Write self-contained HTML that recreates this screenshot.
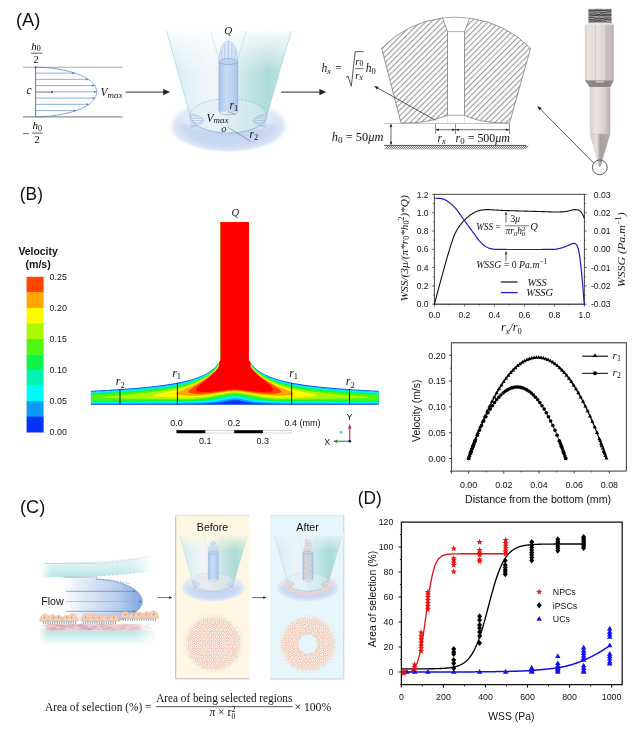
<!DOCTYPE html>
<html><head><meta charset="utf-8"><title>Figure</title>
<style>
html,body{margin:0;padding:0;background:#fff;}
svg{display:block;}
.s{font-family:"Liberation Sans",Arial,Helvetica,sans-serif;}
.m{font-family:"Liberation Serif","Times New Roman",serif;font-style:italic;}
.r{font-family:"Liberation Serif","Times New Roman",serif;}
</style></head><body>
<svg width="640" height="731" viewBox="0 0 640 731">
<rect width="640" height="731" fill="#fff"/>
<text class="s" x="16" y="26.3" font-size="17.5" fill="#111" textLength="24.4" lengthAdjust="spacingAndGlyphs">(A)</text>
<g>
<line x1="23" y1="67.3" x2="122.5" y2="67.3" stroke="#a8a8a8" stroke-width="1.1"/>
<line x1="23" y1="116.9" x2="122.5" y2="116.9" stroke="#8c8c8c" stroke-width="1.3"/>
<polyline fill="none" stroke="#5b86c0" stroke-width="0.8" points="35.6,67.2 43.08,67.45 46.51,67.7 49.19,67.95 51.46,68.2 53.47,68.45 55.29,68.7 56.96,68.95 58.51,69.2 59.96,69.45 61.32,69.7 62.61,69.95 63.84,70.2 65.01,70.45 66.12,70.7 67.19,70.95 68.21,71.2 69.2,71.45 70.15,71.7 71.06,71.95 71.94,72.2 72.79,72.45 73.62,72.7 74.41,72.95 75.18,73.2 75.93,73.45 76.66,73.7 77.36,73.95 78.04,74.2 78.7,74.45 79.35,74.7 79.97,74.95 80.58,75.2 81.17,75.45 81.74,75.7 82.29,75.95 82.84,76.2 83.36,76.45 83.87,76.7 84.37,76.95 84.85,77.2 85.32,77.45 85.78,77.7 86.23,77.95 86.66,78.2 87.08,78.45 87.49,78.7 87.88,78.95 88.27,79.2 88.64,79.45 89,79.7 89.36,79.95 89.7,80.2 90.03,80.45 90.35,80.7 90.66,80.95 90.97,81.2 91.26,81.45 91.54,81.7 91.82,81.95 92.08,82.2 92.34,82.45 92.59,82.7 92.82,82.95 93.05,83.2 93.28,83.45 93.49,83.7 93.69,83.95 93.89,84.2 94.08,84.45 94.26,84.7 94.44,84.95 94.6,85.2 94.76,85.45 94.91,85.7 95.06,85.95 95.19,86.2 95.32,86.45 95.45,86.7 95.56,86.95 95.67,87.2 95.78,87.45 95.87,87.7 95.96,87.95 96.04,88.2 96.12,88.45 96.19,88.7 96.25,88.95 96.31,89.2 96.37,89.45 96.41,89.7 96.45,89.95 96.49,90.2 96.52,90.45 96.54,90.7 96.56,90.95 96.58,91.2 96.59,91.45 96.6,91.7 96.6,91.95 96.6,92.2 96.6,92.45 96.59,92.7 96.58,92.95 96.56,93.2 96.54,93.45 96.51,93.7 96.48,93.95 96.45,94.2 96.4,94.45 96.36,94.7 96.3,94.95 96.24,95.2 96.18,95.45 96.11,95.7 96.03,95.95 95.94,96.2 95.85,96.45 95.76,96.7 95.65,96.95 95.54,97.2 95.42,97.45 95.3,97.7 95.17,97.95 95.03,98.2 94.88,98.45 94.73,98.7 94.57,98.95 94.4,99.2 94.23,99.45 94.04,99.7 93.85,99.95 93.65,100.2 93.45,100.45 93.23,100.7 93.01,100.95 92.78,101.2 92.54,101.45 92.29,101.7 92.03,101.95 91.76,102.2 91.49,102.45 91.2,102.7 90.91,102.95 90.6,103.2 90.29,103.45 89.97,103.7 89.63,103.95 89.29,104.2 88.93,104.45 88.57,104.7 88.19,104.95 87.8,105.2 87.41,105.45 87,105.7 86.57,105.95 86.14,106.2 85.69,106.45 85.23,106.7 84.76,106.95 84.27,107.2 83.77,107.45 83.26,107.7 82.73,107.95 82.18,108.2 81.62,108.45 81.05,108.7 80.46,108.95 79.85,109.2 79.22,109.45 78.57,109.7 77.91,109.95 77.22,110.2 76.51,110.45 75.78,110.7 75.03,110.95 74.26,111.2 73.45,111.45 72.62,111.7 71.77,111.95 70.88,112.2 69.96,112.45 69,112.7 68.01,112.95 66.98,113.2 65.9,113.45 64.78,113.7 63.6,113.95 62.36,114.2 61.06,114.45 59.68,114.7 58.21,114.95 56.64,115.2 54.94,115.45 53.09,115.7 51.03,115.95 48.69,116.2 45.9,116.45 42.22,116.7 35.6,116.95"/>
<line x1="35.6" y1="73.1" x2="73.68" y2="73.1" stroke="#8fb0d8" stroke-width="1"/>
<polygon points="74.88,73.1 72.28,72 72.28,74.2" fill="#4a78b8"/>
<line x1="35.6" y1="79.35" x2="87.29" y2="79.35" stroke="#8fb0d8" stroke-width="1"/>
<polygon points="88.49,79.35 85.89,78.25 85.89,80.45" fill="#4a78b8"/>
<line x1="35.6" y1="85.6" x2="93.65" y2="85.6" stroke="#8fb0d8" stroke-width="1"/>
<polygon points="94.85,85.6 92.25,84.5 92.25,86.7" fill="#4a78b8"/>
<line x1="52" y1="91.85" x2="95.4" y2="91.85" stroke="#8fb0d8" stroke-width="1"/>
<polygon points="96.6,91.85 94,90.75 94,92.95" fill="#4a78b8"/>
<line x1="35.6" y1="98.1" x2="93.89" y2="98.1" stroke="#8fb0d8" stroke-width="1"/>
<polygon points="95.09,98.1 92.49,97 92.49,99.2" fill="#4a78b8"/>
<line x1="35.6" y1="104.35" x2="87.88" y2="104.35" stroke="#8fb0d8" stroke-width="1"/>
<polygon points="89.08,104.35 86.48,103.25 86.48,105.45" fill="#4a78b8"/>
<line x1="35.6" y1="110.6" x2="74.88" y2="110.6" stroke="#8fb0d8" stroke-width="1"/>
<polygon points="76.08,110.6 73.48,109.5 73.48,111.7" fill="#4a78b8"/>
<line x1="35.6" y1="92.05" x2="52" y2="92.05" stroke="#777" stroke-width="1"/>
<circle cx="52" cy="92.05" r="0.9" fill="#222"/>
<line x1="35.6" y1="67" x2="35.6" y2="117" stroke="#666" stroke-width="0.9"/>
<circle cx="35.6" cy="67.4" r="0.8" fill="#333"/>
<text class="m" x="31.2" y="49.6" font-size="11">h<tspan class="r" font-style="normal" font-size="8" dy="1.6">0</tspan></text>
<line x1="31" y1="53.2" x2="42.2" y2="53.2" stroke="#333" stroke-width="0.8"/>
<text class="r" x="33.4" y="62.8" font-size="10.5" fill="#111">2</text>
<text class="m" x="26.6" y="94" font-size="11.5" fill="#111">c</text>
<line x1="23" y1="133.6" x2="29" y2="133.6" stroke="#444" stroke-width="0.8"/>
<text class="m" x="32.6" y="129.4" font-size="11">h<tspan class="r" font-style="normal" font-size="8" dy="1.6">0</tspan></text>
<line x1="32.2" y1="133.1" x2="42.6" y2="133.1" stroke="#333" stroke-width="0.8"/>
<text class="r" x="34.6" y="143.2" font-size="10.5" fill="#111">2</text>
<text class="m" x="100.4" y="96.2" font-size="11.5" fill="#111">V<tspan font-size="9" dy="1.8">max</tspan></text>
</g>
<line x1="125.6" y1="92.1" x2="165" y2="92.1" stroke="#555" stroke-width="1.1"/>
<polygon points="170,92.1 163.2,88.9 163.2,95.3" fill="#222"/>
<g><defs>
<linearGradient id="acg" gradientUnits="userSpaceOnUse" x1="166" y1="0" x2="291" y2="0"><stop offset="0" stop-color="#c8e8ef"/><stop offset="0.14" stop-color="#dbeff4"/><stop offset="0.32" stop-color="#eef2f9"/><stop offset="0.46" stop-color="#edf4f9"/><stop offset="0.6" stop-color="#c6e6e7"/><stop offset="0.82" stop-color="#a2d7d3"/><stop offset="1" stop-color="#bce3e1"/></linearGradient>
<linearGradient id="acf" gradientUnits="userSpaceOnUse" x1="0" y1="28" x2="0" y2="72"><stop offset="0" stop-color="#fff" stop-opacity="1"/><stop offset="0.25" stop-color="#fff" stop-opacity="0.7"/><stop offset="1" stop-color="#fff" stop-opacity="0"/></linearGradient>
<radialGradient id="agl" cx="0.5" cy="0.5" r="0.5"><stop offset="0" stop-color="#c2d3f2"/><stop offset="0.7" stop-color="#c9d8f3"/><stop offset="0.88" stop-color="#dce6f7"/><stop offset="1" stop-color="#fff" stop-opacity="0"/></radialGradient>
<radialGradient id="agt" cx="0.5" cy="0.5" r="0.5"><stop offset="0" stop-color="#eef3fb" stop-opacity="0.9"/><stop offset="0.75" stop-color="#e6edf9" stop-opacity="0.75"/><stop offset="1" stop-color="#e6edf9" stop-opacity="0"/></radialGradient>
<linearGradient id="atg" gradientUnits="userSpaceOnUse" x1="219" y1="0" x2="237.7" y2="0"><stop offset="0" stop-color="#a3c0e9"/><stop offset="0.45" stop-color="#cadcf4"/><stop offset="1" stop-color="#a5c2ea"/></linearGradient>
</defs>
<ellipse cx="228.4" cy="126.5" rx="62" ry="27" fill="url(#agl)"/>
<ellipse cx="228.4" cy="117" rx="57" ry="16.5" fill="url(#agt)"/>
<path d="M166.6,31 L291.3,31 L266.7,115.8 A38.25,17.2 0 0 1 190.2,115.8 Z" fill="url(#acg)" opacity="0.88"/>
<path d="M190.2,115.8 A38.25,17.2 0 0 1 266.7,115.8 A38.25,17.2 0 0 1 190.2,115.8Z" fill="#e2f0f6" opacity="0.5"/>
<rect x="163" y="26" width="132" height="46" fill="url(#acf)"/>
<line x1="166.6" y1="31" x2="190.2" y2="115.8" stroke="#8cc2d4" stroke-width="0.5"/>
<line x1="291.3" y1="31" x2="266.7" y2="115.8" stroke="#8cc2d4" stroke-width="0.5"/>
<line x1="210.3" y1="31" x2="219.3" y2="60" stroke="#a8d0dc" stroke-width="0.45"/>
<line x1="246.4" y1="31" x2="237.4" y2="60" stroke="#a8d0dc" stroke-width="0.45"/>
<path d="M190.2,115.8 A38.25,17.2 0 0 1 266.7,115.8" fill="none" stroke="#7fa8d4" stroke-width="0.55" stroke-dasharray="2.2,1.4"/>
<path d="M190.2,115.8 A38.25,17.2 0 0 0 266.7,115.8" fill="none" stroke="#6f9cd0" stroke-width="0.6"/>
<line x1="190.6" y1="115.9" x2="197.82" y2="115.9" stroke="#9ab6dc" stroke-width="0.6"/>
<line x1="190.6" y1="118.2" x2="202.16" y2="118.2" stroke="#9ab6dc" stroke-width="0.6"/>
<line x1="190.6" y1="120.5" x2="203.6" y2="120.5" stroke="#9ab6dc" stroke-width="0.6"/>
<line x1="190.6" y1="122.8" x2="202.16" y2="122.8" stroke="#9ab6dc" stroke-width="0.6"/>
<line x1="190.6" y1="125.1" x2="197.82" y2="125.1" stroke="#9ab6dc" stroke-width="0.6"/>
<path d="M190.6,113.6 Q216.6,120.5 190.6,127.4" fill="none" stroke="#86a8d6" stroke-width="0.5"/>
<line x1="266.3" y1="115.9" x2="259.08" y2="115.9" stroke="#9ab6dc" stroke-width="0.6"/>
<line x1="266.3" y1="118.2" x2="254.74" y2="118.2" stroke="#9ab6dc" stroke-width="0.6"/>
<line x1="266.3" y1="120.5" x2="253.3" y2="120.5" stroke="#9ab6dc" stroke-width="0.6"/>
<line x1="266.3" y1="122.8" x2="254.74" y2="122.8" stroke="#9ab6dc" stroke-width="0.6"/>
<line x1="266.3" y1="125.1" x2="259.08" y2="125.1" stroke="#9ab6dc" stroke-width="0.6"/>
<path d="M266.3,113.6 Q240.3,120.5 266.3,127.4" fill="none" stroke="#86a8d6" stroke-width="0.5"/>
<line x1="182" y1="126" x2="198" y2="126" stroke="#a8bedf" stroke-width="0.4" stroke-dasharray="1.5,1.2"/>
<line x1="259" y1="126" x2="275" y2="126" stroke="#a8bedf" stroke-width="0.4" stroke-dasharray="1.5,1.2"/>

<rect x="219" y="61.6" width="18.7" height="50.1" fill="url(#atg)" opacity="0.92"/>

<path d="M219,61.6 L219,111.7 A9.35,3 0 0 0 237.7,111.7 L237.7,61.6" fill="none" stroke="#7aa6da" stroke-width="0.6"/>
<path d="M219,61.6 C219,49 224,40.8 228.35,40.8 C232.7,40.8 237.7,49 237.7,61.6 Z" fill="#d6e5f6" opacity="0.85" stroke="#86aedd" stroke-width="0.5"/>
<line x1="221.6" y1="50.14" x2="221.6" y2="61" stroke="#8aaedc" stroke-width="0.45"/>
<line x1="224.8" y1="44.11" x2="224.8" y2="61" stroke="#8aaedc" stroke-width="0.45"/>
<line x1="228.35" y1="41.8" x2="228.35" y2="61" stroke="#8aaedc" stroke-width="0.45"/>
<line x1="231.9" y1="44.11" x2="231.9" y2="61" stroke="#8aaedc" stroke-width="0.45"/>
<line x1="235.1" y1="50.14" x2="235.1" y2="61" stroke="#8aaedc" stroke-width="0.45"/>
<ellipse cx="228.35" cy="61.6" rx="9.35" ry="3" fill="#bcd3f0" fill-opacity="0.8" stroke="#749fd6" stroke-width="0.6"/>
<line x1="228.35" y1="42" x2="228.35" y2="128" stroke="#9ab6dc" stroke-width="0.45" stroke-dasharray="1.5,1.2"/></g>
<line x1="228.35" y1="111.7" x2="235.5" y2="114.6" stroke="#555" stroke-width="0.5"/>
<line x1="228.4" y1="127.5" x2="251" y2="141.6" stroke="#666" stroke-width="0.55"/>
<text class="m" x="224.2" y="34.2" font-size="11" fill="#111">Q</text>
<text class="m" x="229.6" y="108.6" font-size="11.5" fill="#111">r<tspan class="r" font-style="normal" font-size="8.5" dy="2.4">1</tspan></text>
<text class="m" x="206.4" y="121.6" font-size="11.5" fill="#111">V<tspan font-size="9" dy="1.8">max</tspan></text>
<text class="m" x="221.2" y="132.4" font-size="10.5" fill="#111">o</text>
<text class="m" x="249.4" y="137.6" font-size="11.5" fill="#111">r<tspan class="r" font-style="normal" font-size="8.5" dy="2.4">2</tspan></text>
<line x1="281.4" y1="92.1" x2="321" y2="92.1" stroke="#555" stroke-width="1.1"/>
<polygon points="326.2,92.1 319.4,88.9 319.4,95.3" fill="#222"/>
<defs><pattern id="hatch" width="4" height="10" patternUnits="userSpaceOnUse" patternTransform="rotate(45)"><line x1="0.6" y1="0" x2="0.6" y2="10" stroke="#737373" stroke-width="0.8"/></pattern></defs>
<path d="M381.7,48.3 A104.2,104.2 0 0 1 442.5,17.9 L447.5,31.6 L447.5,115.2 C432,121.6 420,122.9 401,123 Z" fill="url(#hatch)" stroke="#6e6e6e" stroke-width="0.7"/>
<path d="M469.7,18.2 A104.2,104.2 0 0 1 530.6,48.3 L509.5,123 C490.5,122.9 478.5,121.6 464.5,115.2 L464.5,31.6 Z" fill="url(#hatch)" stroke="#6e6e6e" stroke-width="0.7"/>
<path d="M442.5,17.9 A104.2,104.2 0 0 1 469.7,18.2 M447.5,31.6 L464.5,31.6 M447.5,115.2 L464.5,115.2" fill="none" stroke="#777" stroke-width="0.6"/>
<line x1="447.5" y1="115.2" x2="447.5" y2="123.3" stroke="#c8c8c8" stroke-width="0.5"/>
<line x1="464.5" y1="115.2" x2="464.5" y2="123.3" stroke="#c8c8c8" stroke-width="0.5"/>
<line x1="384" y1="123.5" x2="510" y2="123.5" stroke="#999" stroke-width="0.6"/>
<line x1="384" y1="145.4" x2="526" y2="145.4" stroke="#444" stroke-width="0.9"/>
<path d="M385,149.4 L388.2,145.6 M387,149.4 L390.2,145.6 M389,149.4 L392.2,145.6 M391,149.4 L394.2,145.6 M393,149.4 L396.2,145.6 M395,149.4 L398.2,145.6 M397,149.4 L400.2,145.6 M399,149.4 L402.2,145.6 M401,149.4 L404.2,145.6 M403,149.4 L406.2,145.6 M405,149.4 L408.2,145.6 M407,149.4 L410.2,145.6 M409,149.4 L412.2,145.6 M411,149.4 L414.2,145.6 M413,149.4 L416.2,145.6 M415,149.4 L418.2,145.6 M417,149.4 L420.2,145.6 M419,149.4 L422.2,145.6 M421,149.4 L424.2,145.6 M423,149.4 L426.2,145.6 M425,149.4 L428.2,145.6 M427,149.4 L430.2,145.6 M429,149.4 L432.2,145.6 M431,149.4 L434.2,145.6 M433,149.4 L436.2,145.6 M435,149.4 L438.2,145.6 M437,149.4 L440.2,145.6 M439,149.4 L442.2,145.6 M441,149.4 L444.2,145.6 M443,149.4 L446.2,145.6 M445,149.4 L448.2,145.6 M447,149.4 L450.2,145.6 M449,149.4 L452.2,145.6 M451,149.4 L454.2,145.6 M453,149.4 L456.2,145.6 M455,149.4 L458.2,145.6 M457,149.4 L460.2,145.6 M459,149.4 L462.2,145.6 M461,149.4 L464.2,145.6 M463,149.4 L466.2,145.6 M465,149.4 L468.2,145.6 M467,149.4 L470.2,145.6 M469,149.4 L472.2,145.6 M471,149.4 L474.2,145.6 M473,149.4 L476.2,145.6 M475,149.4 L478.2,145.6 M477,149.4 L480.2,145.6 M479,149.4 L482.2,145.6 M481,149.4 L484.2,145.6 M483,149.4 L486.2,145.6 M485,149.4 L488.2,145.6 M487,149.4 L490.2,145.6 M489,149.4 L492.2,145.6 M491,149.4 L494.2,145.6 M493,149.4 L496.2,145.6 M495,149.4 L498.2,145.6 M497,149.4 L500.2,145.6 M499,149.4 L502.2,145.6 M501,149.4 L504.2,145.6 M503,149.4 L506.2,145.6 M505,149.4 L508.2,145.6 M507,149.4 L510.2,145.6 M509,149.4 L512.2,145.6 M511,149.4 L514.2,145.6 M513,149.4 L516.2,145.6 M515,149.4 L518.2,145.6 M517,149.4 L520.2,145.6 M519,149.4 L522.2,145.6 M521,149.4 L524.2,145.6 M523,149.4 L526.2,145.6 M525,149.4 L528.2,145.6" stroke="#333" stroke-width="0.75" fill="none"/>
<line x1="391" y1="124.5" x2="391" y2="144.3" stroke="#333" stroke-width="0.7"/>
<polygon points="391,123.7 392.3,126.9 389.7,126.9" fill="#222"/>
<polygon points="391,145 389.7,141.8 392.3,141.8" fill="#222"/>
<line x1="435.5" y1="124" x2="435.5" y2="134" stroke="#444" stroke-width="0.6"/>
<line x1="455.5" y1="124" x2="455.5" y2="134" stroke="#444" stroke-width="0.6"/>
<line x1="509.5" y1="124" x2="509.5" y2="134" stroke="#444" stroke-width="0.6"/>
<line x1="436" y1="129.7" x2="509" y2="129.7" stroke="#333" stroke-width="0.7"/>
<polygon points="435.7,129.7 438.9,128.4 438.9,131" fill="#222"/>
<polygon points="455.3,129.7 452.1,131 452.1,128.4" fill="#222"/>
<polygon points="455.7,129.7 458.9,128.4 458.9,131" fill="#222"/>
<polygon points="509.3,129.7 506.1,131 506.1,128.4" fill="#222"/>
<line x1="435.5" y1="120.3" x2="378" y2="88.2" stroke="#333" stroke-width="0.8"/>
<polygon points="374.2,86.1 378.7,86.67 377.03,89.64" fill="#222"/>
<text class="m" x="321.6" y="71.8" font-size="11.5" fill="#111">h<tspan font-size="8.5" dy="2.4">x</tspan></text>
<text class="r" x="335.3" y="71.8" font-size="11.5" fill="#111">=</text>
<path d="M345.6,77.4 L348,76 L351.3,86.2 L355.2,51.7 L363.8,51.7" fill="none" stroke="#222" stroke-width="0.75"/>
<text class="m" x="355.3" y="64.6" font-size="10.5" fill="#111">r<tspan class="r" font-style="normal" font-size="7.5" dy="1.8">0</tspan></text>
<line x1="355" y1="68.7" x2="363.6" y2="68.7" stroke="#333" stroke-width="0.7"/>
<text class="m" x="355.3" y="78.6" font-size="10.5" fill="#111">r<tspan font-size="7.5" dy="1.8">x</tspan></text>
<text class="m" x="365.8" y="71.8" font-size="11.5" fill="#111">h<tspan class="r" font-style="normal" font-size="8.5" dy="2.2">0</tspan></text>
<text class="m" x="331.8" y="140.8" font-size="11.5" fill="#111" textLength="51.6" lengthAdjust="spacingAndGlyphs">h<tspan class="r" font-style="normal" font-size="8.5" dy="2.2">0</tspan><tspan class="r" font-style="normal" dy="-2.2"> = 50</tspan>μm</text>
<text class="m" x="437.4" y="141.8" font-size="11.5" fill="#111">r<tspan font-size="8.5" dy="2.2">x</tspan></text>
<text class="m" x="455.6" y="141.8" font-size="11.5" fill="#111" textLength="54.4" lengthAdjust="spacingAndGlyphs">r<tspan class="r" font-style="normal" font-size="8.5" dy="2.2">0</tspan><tspan class="r" font-style="normal" dy="-2.2"> = 500</tspan>μm</text>
<defs>
<linearGradient id="nb" x1="0" y1="0" x2="1" y2="0">
<stop offset="0" stop-color="#d9d1cd"/><stop offset="0.12" stop-color="#ebe4e0"/><stop offset="0.34" stop-color="#e4dcd8"/><stop offset="0.36" stop-color="#cfc6c2"/><stop offset="0.4" stop-color="#e9e2de"/><stop offset="0.7" stop-color="#ddd3d3"/><stop offset="0.72" stop-color="#cbbfc2"/><stop offset="0.9" stop-color="#c8b9be"/><stop offset="1" stop-color="#b8a8ae"/></linearGradient>
<linearGradient id="ns" x1="0" y1="0" x2="1" y2="0">
<stop offset="0" stop-color="#d8d0cc"/><stop offset="0.3" stop-color="#ebe5e1"/><stop offset="0.7" stop-color="#dbd2d2"/><stop offset="1" stop-color="#b9aab0"/></linearGradient>
<linearGradient id="nc" x1="0" y1="0" x2="1" y2="0">
<stop offset="0" stop-color="#d2cac6"/><stop offset="0.35" stop-color="#e6e0dc"/><stop offset="0.5" stop-color="#a8a09e"/><stop offset="1" stop-color="#b3a9aa"/></linearGradient>
<linearGradient id="nt" x1="0" y1="0" x2="1" y2="0">
<stop offset="0" stop-color="#7a7775"/><stop offset="0.5" stop-color="#5e5b5a"/><stop offset="1" stop-color="#6f6b6b"/></linearGradient>
</defs>
<rect x="588.5" y="8.9" width="22.8" height="14.6" fill="#555150"/>
<path d="M588.5,9.59 Q590.82,9.46 593.13,9.9 Q595.57,8.67 598.01,9.31 Q600.77,9.17 603.52,9.53 Q606.52,9.72 609.51,10.14 Q610.4,10.16 611.3,9.45 M588.5,13.82 Q591.2,13.76 593.9,14.34 Q596.72,12.85 599.54,13.54 Q601.36,15.11 603.19,13.84 Q605.63,13.38 608.07,13.91 Q609.69,13.51 611.3,13.99 M588.5,17.83 Q590.1,18.92 591.69,18.49 Q593.32,18.78 594.96,17.91 Q596.68,17.46 598.41,18.27 Q601.22,16.81 604.03,18.11 Q605.59,18.57 607.16,17.83 Q609.23,19.25 611.3,18.01 M588.5,22.12 Q590.97,22.35 593.43,22.16 Q595.86,23.25 598.29,22.11 Q600.44,22.67 602.59,21.84 Q604.54,23.34 606.49,22.12 Q608.81,20.83 611.13,22.02 M588.5,11.96 Q591.3,11.91 594.1,12.09 Q596.61,10.72 599.12,12.11 Q601.51,11.33 603.89,11.38 Q606.69,11.78 609.49,12.07 Q610.39,12.41 611.3,12.27 M588.5,16.02 Q591.36,16.42 594.21,16.38 Q597,17.23 599.78,16.12 Q601.53,16.89 603.27,16.41 Q606.13,16.13 608.99,16.16 Q610.14,16.81 611.3,16.02 M588.5,20.45 Q590.46,18.95 592.43,20.15 Q593.98,19.26 595.52,19.96 Q597.94,19.16 600.35,19.59 Q603.16,19.57 605.96,20.51 Q608.63,19.73 611.3,20.01" fill="none" stroke="#b8b4b2" stroke-width="0.9"/>
<path d="M588.5,9.59 Q590.82,9.46 593.13,9.9 Q595.57,8.67 598.01,9.31 Q600.77,9.17 603.52,9.53 Q606.52,9.72 609.51,10.14 Q610.4,10.16 611.3,9.45 M588.5,13.82 Q591.2,13.76 593.9,14.34 Q596.72,12.85 599.54,13.54 Q601.36,15.11 603.19,13.84 Q605.63,13.38 608.07,13.91 Q609.69,13.51 611.3,13.99 M588.5,17.83 Q590.1,18.92 591.69,18.49 Q593.32,18.78 594.96,17.91 Q596.68,17.46 598.41,18.27 Q601.22,16.81 604.03,18.11 Q605.59,18.57 607.16,17.83 Q609.23,19.25 611.3,18.01 M588.5,22.12 Q590.97,22.35 593.43,22.16 Q595.86,23.25 598.29,22.11 Q600.44,22.67 602.59,21.84 Q604.54,23.34 606.49,22.12 Q608.81,20.83 611.13,22.02" fill="none" stroke="#2e2b2a" stroke-width="0.6" transform="translate(0.6,1)"/>
<rect x="588.5" y="22.6" width="22.8" height="2.2" fill="#e8e4e2"/>
<rect x="584.8" y="24.6" width="28.9" height="55.6" fill="url(#nb)"/>
<path d="M584.8,80.2 L613.7,80.2 L610.3,87.3 L589.8,87.3 Z" fill="#8e8584"/>
<path d="M594.6,80.2 L605,80.2 L603.5,83 L596.2,83 Z" fill="#bdb2b0"/>
<rect x="589.8" y="87.3" width="20.5" height="46.6" fill="url(#ns)"/>
<path d="M589.8,133.9 L610.3,133.9 L600.8,165.5 Q599.5,169 598.3,165.5 Z" fill="url(#nc)"/>
<line x1="589.8" y1="133.9" x2="610.3" y2="133.9" stroke="#c8c0bc" stroke-width="0.6"/>
<circle cx="599.8" cy="167.3" r="7.4" fill="none" stroke="#333" stroke-width="0.8"/>
<line x1="593.4" y1="162.8" x2="540.5" y2="109.2" stroke="#333" stroke-width="0.8"/>
<polygon points="537.4,106 541.77,107.88 539.2,110.4" fill="#222"/>
<text class="s" x="19.8" y="199.9" font-size="17.5" fill="#111" textLength="23.1" lengthAdjust="spacingAndGlyphs">(B)</text>
<rect x="26.6" y="276.8" width="17" height="15.84" fill="#ff4400"/>
<rect x="26.6" y="292.34" width="17" height="15.84" fill="#ffa500"/>
<rect x="26.6" y="307.88" width="17" height="15.84" fill="#fff800"/>
<rect x="26.6" y="323.42" width="17" height="15.84" fill="#acf800"/>
<rect x="26.6" y="338.96" width="17" height="15.84" fill="#50f510"/>
<rect x="26.6" y="354.5" width="17" height="15.84" fill="#10f545"/>
<rect x="26.6" y="370.04" width="17" height="15.84" fill="#00f5b5"/>
<rect x="26.6" y="385.58" width="17" height="15.84" fill="#00fafa"/>
<rect x="26.6" y="401.12" width="17" height="15.84" fill="#0a9cf8"/>
<rect x="26.6" y="416.66" width="17" height="15.84" fill="#0433f8"/>
<line x1="43.6" y1="276.8" x2="45.6" y2="276.8" stroke="#bbb" stroke-width="0.6"/>
<line x1="43.6" y1="292.34" x2="45.6" y2="292.34" stroke="#bbb" stroke-width="0.6"/>
<line x1="43.6" y1="307.88" x2="45.6" y2="307.88" stroke="#bbb" stroke-width="0.6"/>
<line x1="43.6" y1="323.42" x2="45.6" y2="323.42" stroke="#bbb" stroke-width="0.6"/>
<line x1="43.6" y1="338.96" x2="45.6" y2="338.96" stroke="#bbb" stroke-width="0.6"/>
<line x1="43.6" y1="354.5" x2="45.6" y2="354.5" stroke="#bbb" stroke-width="0.6"/>
<line x1="43.6" y1="370.04" x2="45.6" y2="370.04" stroke="#bbb" stroke-width="0.6"/>
<line x1="43.6" y1="385.58" x2="45.6" y2="385.58" stroke="#bbb" stroke-width="0.6"/>
<line x1="43.6" y1="401.12" x2="45.6" y2="401.12" stroke="#bbb" stroke-width="0.6"/>
<line x1="43.6" y1="416.66" x2="45.6" y2="416.66" stroke="#bbb" stroke-width="0.6"/>
<line x1="43.6" y1="432.2" x2="45.6" y2="432.2" stroke="#bbb" stroke-width="0.6"/>
<text class="s" x="49.6" y="280" font-size="8.9" fill="#111">0.25</text>
<text class="s" x="49.6" y="311.08" font-size="8.9" fill="#111">0.20</text>
<text class="s" x="49.6" y="342.16" font-size="8.9" fill="#111">0.15</text>
<text class="s" x="49.6" y="373.24" font-size="8.9" fill="#111">0.10</text>
<text class="s" x="49.6" y="404.32" font-size="8.9" fill="#111">0.05</text>
<text class="s" x="49.6" y="435.4" font-size="8.9" fill="#111">0.00</text>
<text class="s" x="18.4" y="255.4" font-size="10" font-weight="bold" fill="#111" textLength="39.4" lengthAdjust="spacingAndGlyphs">Velocity</text>
<text class="s" x="25.4" y="268.3" font-size="10" font-weight="bold" fill="#111" textLength="25.4" lengthAdjust="spacingAndGlyphs">(m/s)</text>
<g><path fill="#0433f8" d="M220.8 222.1l27 0l1 0l.2 .2l-.1 138.3l.8 1l0 .2l.7 .8l0 .2l1 1l0 .3l2.8 3.1l.3 0l3 2.7l.3 0l.7 .8l.3 0l2 1.5l.7 .2l.5 .5l1.2 .5l.6 .5l2 1l.4 0l3.6 1.8l1.2 .2l.8 .5l1.2 .3l.2 .2l.6 0l.2 .3l.5 0l.3 .2l.4 0l.3 .3l.5 0l.2 .2l.6 0l.2 .3l.8 0l.2 .2l.5 0l.3 .3l.7 0l1 .5l1.7 .2l.3 .3l.7 0l.3 .2l.7 0l.3 .3l.7 0l.3 .2l1 0l.3 .3l.7 0l.3 .2l2.2 .3l.2 .2l1 0l.3 .3l1 0l.3 .2l1.2 0l.2 .3l1 0l.3 .2l2.7 .3l.3 .2l1.3 0l.2 .3l1.5 0l.3 .2l1.2 0l.2 .3l1.6 0l.2 .2l1.8 0l.2 .3l1.5 0l.3 .2l1.7 0l.3 .3l1.7 0l.3 .2l2 0l.2 .3l1.8 0l.2 .2l2.2 0l.3 .3l2 0l.3 .2l2.2 0l.2 .3l2.6 0l.2 .2l2.2 0l.3 .3l2.7 0l.3 .2l2.7 0l.3 .3l2.7 0l.3 .2l3 0l.3 .3l3.2 0l.2 .2l3.3 0l.3 .3l3.4 0l.3 .2l3.7 0l.3 .3l4 0l.3 .2l4 0l.2 .3l4.2 0l.3 .2l4.7 0l.3 .3l4 0l.1 .1l0 6.8l0 7l-.1 .1l-287.5 0l-.1 -.1l0 -13.8l.1 -.1l4 0l.2 -.3l4.6 0l.2 -.2l4.5 0l.3 -.3l4 0l.2 -.2l4 0l.2 -.3l3.6 0l.2 -.2l3.5 0l.3 -.3l3.4 0l.3 -.2l3 0l.3 -.3l6.2 -.2l.2 -.3l2.8 0l.2 -.2l2.6 0l.2 -.3l2.5 0l.3 -.2l2.2 0l.2 -.3l4.8 -.2l.2 -.3l2 0l.3 -.2l2 0l.3 -.3l1.7 0l.3 -.2l2 0l.2 -.3l1.5 0l.3 -.2l1.7 0l.3 -.3l1.4 0l.3 -.2l1.5 0l.2 -.3l1.6 0l.2 -.2l1.2 0l.3 -.3l1.5 0l.2 -.2l1.3 0l.3 -.3l1 0l.2 -.2l1.2 0l.3 -.3l1 0l.3 -.2l1.2 0l.2 -.3l1 0l.3 -.2l1 0l.3 -.3l.7 0l.3 -.2l1 0l.2 -.3l.8 0l.2 -.2l1 0l.2 -.3l.8 0l.2 -.2l1.8 -.3l1 -.5l1.8 -.2l.2 -.3l1.2 -.2l.3 -.3l.7 0l.3 -.2l.5 0l.2 -.3l.6 0l.2 -.2l.5 0l.3 -.3l1.2 -.2l.8 -.5l.4 0l1.6 -.8l.4 0l1.3 -.7l.5 0l5 -2.5l.5 -.5l.7 -.3l2.8 -2l.2 0l2.3 -2l.3 0l3.8 -3.8l0 -.3l1 -1l0 -.2l1.5 -1.8l.5 -1l-.1 -138z"/><path fill="#0a9cf8" d="M220.8 222.1l26 0l1.7 0l.4 .2l0 138.3l.7 1l0 .2l.7 .8l0 .2l1 1l0 .3l1.7 1.7l0 .3l1.2 1.2l.3 .1l2.8 2.7l3.2 2.2l5 2.9l.5 0l3.5 1.8l7.3 2.6l10.7 2.8l8 1.6l1 0l3.5 .7l1.2 .1l2 .4l3 .3l2.6 .5l1.2 0l.8 .2l1.2 0l.8 .3l3.4 .2l.8 .3l1.8 0l.7 .2l1.7 .1l.6 .2l1.7 0l.7 .2l2 0l.8 .3l2 0l.5 .2l2.3 0l.7 .3l2.3 0l.7 .2l2.3 0l.7 .3l2.5 0l.8 .2l6.2 .2l.8 .3l3 0l.7 .2l7.5 .3l.8 .2l3.4 0l.8 .3l3.8 0l.7 .2l4.3 0l.7 .3l4 0l0 12.8l-88.5 -.1l-22.8 -.3l-8 -.3l-6.2 -.5l-5 -.6l-8.7 -1.6l-4.5 -.4l-4.8 .4l-8.5 1.6l-5.3 .6l-6.2 .5l-8 .3l-22.8 .3l-88.2 .1l0 -12.8l4 0l.8 -.3l4 0l.7 -.2l4 0l.7 -.3l3.6 0l.7 -.2l3.5 0l.8 -.3l6.7 -.2l.7 -.3l3 .1l.8 -.3l2.5 0l.7 -.2l2.6 0l.7 -.3l2.5 0l.8 -.2l2.2 0l.8 -.3l4.7 -.2l.7 -.3l1.8 0l.8 -.2l4.2 -.3l.8 -.2l1.4 0l.8 -.3l1.5 0l.7 -.2l1.3 0l.7 -.3l1.6 0l2.4 -.5l1.3 0l.7 -.2l1 0l.8 -.3l1 0l.5 -.2l1.3 0l2 -.5l2.7 -.3l1.7 -.4l1 -.1l1.8 -.4l3.8 -.6l7.4 -1.8l9 -2.9l5 -2.1l5 -2.6l4.3 -2.8l2 -1.8l.4 -.2l3.8 -3.9l0 -.3l1.8 -2l-.1 -.2l.8 -.8l.4 -1l0 -138z"/><path fill="#00fafa" d="M220.8 222.1l26 0l1.7 0l.4 .2l0 138.3l.7 1l0 .2l1.7 2l0 .3l1.4 1.7l.2 .5l3 3l4.3 3.3l3.2 2l5.8 2.8l7.6 2.8l3.4 1.1l5 1.3l7.3 1.6l7.3 1.3l8.7 1.2l5.5 .5l2.8 .5l4 .3l.7 .2l7 .5l.7 .2l5.3 .3l1 .2l2 0l1 .3l2.3 0l1 .2l2.4 0l1 .3l2.6 0l1 .2l6.7 .2l1 .3l3.3 0l1 .2l3.4 0l.8 .3l3.8 0l.7 .2l4.3 0l.7 .3l4 -.1l0 11.5l-85.7 -.2l-21.6 -.3l-8 -.4l-6.7 -.7l-8.5 -1.3l-7.5 -1.7l-5.7 -.5l-5.8 .5l-7.8 1.7l-8.2 1.3l-6.8 .7l-8 .4l-21.4 .3l-85.8 .2l0 -11.5l4 .1l.8 -.3l4 0l.7 -.2l4 0l.7 -.3l3.6 0l1 -.2l3.2 0l.8 -.2l6.7 -.3l1 -.2l2.7 0l1 -.3l2.3 0l1 -.2l2.3 0l1 -.3l2.2 0l1 -.2l2 0l1 -.3l2 0l.8 -.2l2 0l.7 -.2l6.7 -.6l.8 -.2l1.5 0l.7 -.2l1.6 0l.7 -.3l7.3 -.7l10 -1.5l8 -1.6l7.4 -1.8l9 -3l5.3 -2.3l4.8 -2.5l4.4 -3l2.4 -2l3.1 -3.5l.5 -1l1.8 -2l-.1 -.2l.8 -.8l.4 -1l0 -138z"/><path fill="#00f5b5" d="M220.8 222.1l26 0l1.7 0l.4 .2l0 138.3l.7 1l0 .2l.7 .8l0 .2l1 1l.2 .8l1.7 2.6l3.6 3.3l3.4 2.6l5 2.9l4 2l7.3 2.8l3.5 1.2l5 1.3l7.2 1.6l7.6 1.4l8.7 1.2l5.5 .6l2.8 .4l4 .3l.7 .2l7 .5l.7 .2l8.3 .6l.7 .2l2.6 0l.7 .2l2.7 0l.8 .3l2.8 0l.7 .2l7 .3l.7 .2l7.8 .2l1 .3l3.5 0l1 .2l4 0l1 .2l4 0l0 9.9l-84.5 -.2l-20.2 -.4l-8 -.4l-6.8 -.7l-11 -1.9l-7 -1.7l-3.2 -.4l-3 -.1l-3 .1l-3.3 .4l-7.3 1.7l-10.7 1.8l-6.7 .8l-8 .4l-20.6 .4l-84.2 .2l0 -9.9l4 0l1 -.2l3.8 0l1 -.2l3.7 0l1 -.3l7.7 -.2l.8 -.2l2.8 0l1 -.3l3 0l.7 -.2l3 0l.7 -.3l2.6 0l.7 -.2l2.5 0l.8 -.2l2.4 -.1l.8 -.2l2.2 0l.8 -.2l4.8 -.3l.7 -.2l6.7 -.5l.8 -.3l1.5 0l.7 -.2l1.6 0l.7 -.2l7.3 -.8l8.4 -1.3l7.3 -1.3l7 -1.6l5.7 -1.7l6.3 -2.2l5 -2.3l5 -2.7l4.3 -3l2.5 -2.2l2.7 -3l.8 -1.2l.3 -.7l2.1 -2.8l.4 -1l0 -138z"/><path fill="#10f545" d="M220.8 222.1l26 0l1.7 0l.4 .2l0 138.3l.7 1l0 .2l1.4 1.8l.2 .7l1.2 2.3l.8 1.1l3.6 3.2l3.2 2.5l5 3.1l4 2l7.2 3l3.6 1.2l5 1.4l7.4 1.7l7.3 1.4l8.7 1.2l5.6 .6l3 .5l3.7 .2l1 .2l6.7 .5l1 .3l8 .5l1 .2l2.3 0l1 .3l2.5 0l1 .2l2.5 0l1 .2l6.7 .3l1 .2l7.6 .3l1 .2l3.4 0l1 .2l4 0l1 .3l4 0l.3 0l0 8l-84 -.2l-18.7 -.4l-7.8 -.5l-7 -.7l-5.8 -.9l-6.4 -1.4l-.8 0l-6.5 -1.5l-3.5 -.5l-3.3 -.1l-3.2 .1l-3.5 .4l-6.8 1.6l-.7 0l-6.3 1.3l-5.7 1l-7 .7l-7.7 .5l-18.8 .4l-84 .2l0 -8l.2 0l3.8 0l1.2 -.3l3.8 0l1 -.2l3.8 0l1 -.2l3.2 0l1 -.3l3.2 0l1 -.2l2.8 0l1 -.3l6.5 -.2l1 -.2l2.3 0l1 -.3l5.4 -.2l1 -.3l2 0l1 -.2l1.8 0l1 -.3l1.8 0l1 -.2l6.4 -.5l7.6 -1l1.4 0l12.3 -1.8l7 -1.3l7.3 -1.8l8.2 -2.6l3.8 -1.5l5 -2.3l5 -2.9l4.2 -3l2.5 -2.2l2.4 -2.7l1 -1.5l.8 -2l1.5 -1.8l.4 -1l0 -138z"/><path fill="#50f510" d="M220.8 222.1l26 0l1.7 0l.4 .2l0 138.2l.7 1.1l-.1 .2l1.2 1.5l1.5 3.6l1 1.3l3.3 3l3.3 2.5l5 3.3l4 2.1l7.2 3.1l3.8 1.3l7.2 2.1l7.8 1.7l8 1.4l9.4 1.3l11.6 1.3l1.7 0l6.7 .8l1.8 0l1.2 .2l1.8 0l1.2 .3l2 0l1.3 .2l5.7 .3l1.3 .2l2.5 0l1.2 .3l7 .2l1.3 .3l3 0l1.3 .2l3.2 0l1.2 .2l3.8 0l1.2 .3l3.8 0l.5 .1l0 5.5l-83.5 -.1l-17.8 -.3l-7.7 -.5l-7 -.7l-6.5 -1.1l-7 -1.5l-1 0l-6.2 -1.4l-3.6 -.5l-3.4 -.1l-3.6 .1l-3.6 .5l-6.4 1.4l-.7 0l-7.3 1.5l-6.4 1.1l-7 .7l-7.6 .5l-17.7 .3l-83.5 .1l0 -5.5l.5 -.1l3.7 0l1.3 -.3l8.3 -.2l1.2 -.2l3 0l1.2 -.3l3 0l1.3 -.2l10 -.5l1.3 -.3l8.4 -.5l1.3 -.2l1.7 0l1.3 -.3l1.5 0l10.5 -1l8.7 -1l12.6 -1.9l7 -1.4l7 -1.7l8.4 -2.9l3.8 -1.6l5 -2.4l5 -3l4.2 -3.1l2.6 -2.2l2.2 -2.7l1.1 -1.8l.1 -.8l.6 -.9l-.1 -.3l1.5 -1.8l.4 -1l0 -138z"/><path fill="#acf800" d="M220.8 222.1l26 0l1.7 0l.4 .2l0 138.3l.7 .9l-.1 .3l.8 .8l.6 1.2l0 .7l1.1 2.6l.8 1l3.4 3.4l3.3 2.6l5 3.4l4 2.2l9 4l9.3 3l5 1.2l7.4 1.5l12.8 2l17 2l34.2 3l4.3 .7l.4 .2l-.2 .3l-5.7 .5l-19.4 .5l-44.8 .5l-18 -.2l-8 -.4l-7.6 -.7l-7.2 -1.2l-8 -1.6l-1 0l-6 -1.3l-3.5 -.4l-3.7 -.2l-3.8 .2l-3.5 .4l-6.3 1.3l-.7 0l-8 1.6l-7.3 1.2l-7.4 .7l-8 .4l-18 .2l-45 -.6l-19.6 -.4l-5.5 -.5l-.2 -.3l.3 -.2l4.4 -.7l31.3 -2.7l22 -2.6l12.3 -2l9.7 -2.1l4.7 -1.3l5.8 -2l6.2 -2.7l5 -2.6l5 -3.1l4.3 -3.2l2.5 -2.3l2.5 -3l.8 -1.5l0 -.7l.5 -1l0 -.5l1.4 -1.8l.4 -1l0 -138z"/><path fill="#fff800" d="M220.8 222.1l25.7 0l2 0l.4 .2l-.1 138.2l.8 1.1l-.1 .2l.8 .8l.5 1.2l.2 1.8l.7 1.7l1.1 1.3l3.2 3.2l6.2 4.9l6 3.7l7.3 3.6l8.5 3.2l7.5 2.2l23.5 5.1l1.6 .8l.1 .3l-.4 .2l-2.1 .5l-2.4 .3l-11.9 .7l-13.1 .3l-11 -.2l-6.3 -.4l-6 -.6l-6.7 -1.1l-7.8 -1.5l-1 .1l-6 -1.2l-3.5 -.4l-3.7 -.2l-3.8 .2l-3.5 .4l-6 1.2l-1 -.1l-7.7 1.5l-7 1.1l-6.3 .6l-6.3 .4l-12 .2l-14.2 -.4l-10 -.7l-3.1 -.4l-1.2 -.6l.1 -.2l.3 -.2l1.1 -.6l2.3 -.6l15.7 -3.2l9.8 -2.5l7.5 -2.4l5.3 -2.2l3.7 -1.8l5 -2.8l5 -3.3l4.3 -3.3l2.4 -2.3l2.8 -3.5l.5 -1.2l0 -.8l.4 -1.5l.6 -.8l0 -.2l.7 -.8l.4 -1l0 -138z"/><path fill="#ffa500" d="M220.8 222.2l25.7 -.1l2 0l.4 .2l-.1 138.3l.7 1l0 .2l.8 .8l-.1 .4l.5 1.1l-.1 .7l.2 1l.5 1.5l1.2 1.6l4.2 4.2l3.5 2.8l3.8 2.7l4 2.5l7.2 4l6.6 2.9l10.5 4.3l.8 .5l.8 .8l-.1 .4l-.6 .3l-3 .8l-5.7 .5l-6.7 .2l-7 -.2l-11 -1l-10.8 -1.9l-1 .1l-6.8 -1.2l-6.2 -.4l-6.8 .4l-6.7 1.2l-1 -.1l-11.5 1.9l-5.8 .7l-6 .4l-7.7 .1l-7 -.3l-4.9 -.7l-1.5 -.5l-.6 -.5l.4 -.8l1.9 -1l12 -4.9l6.2 -3l6 -3.3l6.8 -4.6l5.2 -4.4l1.6 -1.5l1.9 -2.3l.8 -1.2l.4 -1l0 -1.2l.4 -1.8l.4 -.5l0 -.2l.7 -.8l.4 -1l0 -138z"/><path fill="#ff4400" d="M220.8 222.2l25.7 -.1l2 0l.4 .2l-.1 138.2l.7 1l0 .3l.7 .8l0 .5l.4 1l-.2 1l.1 1l.7 1.7l3 3.5l4.6 4.1l5 3.9l4 2.8l9.4 5.9l2.6 1.8l.8 .8l.4 .7l0 1l-.8 .5l-2.4 .6l-3.6 .4l-4.2 .1l-4.5 -.2l-8 -.7l-8.5 -1.3l-1 .1l-6.8 -1.1l-6.2 -.4l-6.8 .4l-6.7 1.1l-1 -.1l-9 1.4l-8.9 .7l-5.1 .1l-4.3 -.3l-3.3 -.5l-1.1 -.5l-.4 -.3l.1 -1.3l1.3 -1.3l14.4 -9.4l4.8 -3.5l5.2 -4.6l1.8 -1.8l2.5 -3.3l.5 -1.3l-.2 -1l.2 -1.7l.5 -1l.7 -.8l.4 -1l0 -138z"/><path fill="#ff0000" d="M220.8 222.2l25.7 -.1l2 0l.4 .2l-.1 138.3l1.4 2l.3 1.5l-.3 1.2l0 1l.6 1.5l.7 1l2.5 2.9l4.4 4.1l9.8 8l3.4 3l.8 1l.4 .8l0 2.5l-.5 .2l-2.1 .4l-2.4 .3l-6.6 0l-5.7 -.4l-6.5 -.9l-1 .2l-7 -1.1l-6 -.3l-6.5 .3l-7 1l-1 -.1l-6.7 .9l-6 .5l-7 -.2l-2.7 -.3l-1.5 -.6l.1 -2.4l.3 -.8l.8 -1l2.7 -2.4l10.3 -8.3l3.7 -3.5l3.3 -3.7l1.4 -2.3l.1 -.8l-.3 -1.2l0 -1.3l.5 -1.2l.7 -.8l.5 -1l-.1 -138z"/></g>
<line x1="120" y1="389.2" x2="120" y2="404.4" stroke="#111" stroke-width="1"/>
<line x1="177.4" y1="383" x2="177.4" y2="404.4" stroke="#111" stroke-width="1"/>
<line x1="291.6" y1="383" x2="291.6" y2="404.4" stroke="#111" stroke-width="1"/>
<line x1="349.5" y1="389.2" x2="349.5" y2="404.4" stroke="#111" stroke-width="1"/>
<text class="m" x="172.2" y="376.6" font-size="12" fill="#111">r<tspan class="r" font-style="normal" font-size="8.5" dy="2.6">1</tspan></text>
<text class="m" x="289.2" y="376.6" font-size="12" fill="#111">r<tspan class="r" font-style="normal" font-size="8.5" dy="2.6">1</tspan></text>
<text class="m" x="115.8" y="385.2" font-size="12" fill="#111">r<tspan class="r" font-style="normal" font-size="8.5" dy="2.6">2</tspan></text>
<text class="m" x="345.8" y="385.2" font-size="12" fill="#111">r<tspan class="r" font-style="normal" font-size="8.5" dy="2.6">2</tspan></text>
<text class="m" x="231.6" y="215.6" font-size="10.5" fill="#111">Q</text>
<rect x="176.6" y="430.4" width="115" height="2.6" fill="#fff" stroke="#aaa" stroke-width="0.5"/>
<rect x="176.6" y="430.2" width="28.7" height="3" fill="#000"/>
<rect x="234.2" y="430.2" width="28.7" height="3" fill="#000"/>
<text class="s" x="176.6" y="425.9" font-size="9" text-anchor="middle" fill="#111">0.0</text>
<text class="s" x="234" y="425.9" font-size="9" text-anchor="middle" fill="#111">0.2</text>
<text class="s" x="284.4" y="425.9" font-size="9" fill="#111">0.4 (mm)</text>
<text class="s" x="205.3" y="443.8" font-size="9" text-anchor="middle" fill="#111">0.1</text>
<text class="s" x="262.8" y="443.8" font-size="9" text-anchor="middle" fill="#111">0.3</text>
<line x1="349.75" y1="441.25" x2="349.75" y2="427.5" stroke="#c8283c" stroke-width="1.1"/>
<polygon points="349.75,424 347.9,428.4 351.6,428.4" fill="#c8283c"/>
<line x1="349.75" y1="441.25" x2="336.5" y2="441.25" stroke="#218a32" stroke-width="1.1"/>
<polygon points="333,441.25 337.4,439.4 337.4,443.1" fill="#218a32"/>
<circle cx="349.75" cy="441.25" r="1.3" fill="#101070"/>
<circle cx="340.9" cy="432.2" r="1.2" fill="#20c8d0"/>
<text class="s" x="349.6" y="420.4" font-size="9" text-anchor="middle" fill="#111">Y</text>
<text class="s" x="327.3" y="444.6" font-size="9" text-anchor="middle" fill="#111">X</text>
<line x1="434.4" y1="194.4" x2="584.4" y2="194.4" stroke="#666" stroke-width="1.1"/>
<line x1="434.4" y1="193.9" x2="434.4" y2="304.2" stroke="#333" stroke-width="0.9"/>
<line x1="584.4" y1="193.9" x2="584.4" y2="304.2" stroke="#333" stroke-width="0.9"/>
<line x1="433.9" y1="304.2" x2="584.9" y2="304.2" stroke="#555" stroke-width="1.6"/>
<path d="M432.2,304.2H434.4M584.4,304.2H586.6M433.2,295.05H434.4M584.4,295.05H585.6M432.2,285.9H434.4M584.4,285.9H586.6M433.2,276.75H434.4M584.4,276.75H585.6M432.2,267.6H434.4M584.4,267.6H586.6M433.2,258.45H434.4M584.4,258.45H585.6M432.2,249.3H434.4M584.4,249.3H586.6M433.2,240.15H434.4M584.4,240.15H585.6M432.2,231H434.4M584.4,231H586.6M433.2,221.85H434.4M584.4,221.85H585.6M432.2,212.7H434.4M584.4,212.7H586.6M433.2,203.55H434.4M584.4,203.55H585.6M432.2,194.4H434.4M584.4,194.4H586.6M434.4,304.2V306.4M449.4,304.2V305.5M464.4,304.2V306.4M479.4,304.2V305.5M494.4,304.2V306.4M509.4,304.2V305.5M524.4,304.2V306.4M539.4,304.2V305.5M554.4,304.2V306.4M569.4,304.2V305.5M584.4,304.2V306.4" stroke="#333" stroke-width="0.8" fill="none"/>
<text class="s" x="428.6" y="307.3" font-size="8.6" text-anchor="end" fill="#111">0.0</text>
<text class="s" x="428.6" y="289" font-size="8.6" text-anchor="end" fill="#111">0.2</text>
<text class="s" x="428.6" y="270.7" font-size="8.6" text-anchor="end" fill="#111">0.4</text>
<text class="s" x="428.6" y="252.4" font-size="8.6" text-anchor="end" fill="#111">0.6</text>
<text class="s" x="428.6" y="234.1" font-size="8.6" text-anchor="end" fill="#111">0.8</text>
<text class="s" x="428.6" y="215.8" font-size="8.6" text-anchor="end" fill="#111">1.0</text>
<text class="s" x="428.6" y="197.5" font-size="8.6" text-anchor="end" fill="#111">1.2</text>
<text class="s" x="610.6" y="197.5" font-size="8.6" text-anchor="end" fill="#111">0.03</text>
<text class="s" x="610.6" y="215.8" font-size="8.6" text-anchor="end" fill="#111">0.02</text>
<text class="s" x="610.6" y="234.1" font-size="8.6" text-anchor="end" fill="#111">0.01</text>
<text class="s" x="610.6" y="252.4" font-size="8.6" text-anchor="end" fill="#111">0.00</text>
<text class="s" x="610.6" y="270.7" font-size="8.6" text-anchor="end" fill="#111">-0.01</text>
<text class="s" x="610.6" y="289" font-size="8.6" text-anchor="end" fill="#111">-0.02</text>
<text class="s" x="610.6" y="307.3" font-size="8.6" text-anchor="end" fill="#111">-0.03</text>
<text class="s" x="434.4" y="318.2" font-size="8.6" text-anchor="middle" fill="#111">0.0</text>
<text class="s" x="464.4" y="318.2" font-size="8.6" text-anchor="middle" fill="#111">0.2</text>
<text class="s" x="494.4" y="318.2" font-size="8.6" text-anchor="middle" fill="#111">0.4</text>
<text class="s" x="524.4" y="318.2" font-size="8.6" text-anchor="middle" fill="#111">0.6</text>
<text class="s" x="554.4" y="318.2" font-size="8.6" text-anchor="middle" fill="#111">0.8</text>
<text class="s" x="584.4" y="318.2" font-size="8.6" text-anchor="middle" fill="#111">1.0</text>
<text class="m" x="0" y="0" font-size="10.8" fill="#111" text-anchor="middle" textLength="106" lengthAdjust="spacingAndGlyphs" transform="translate(407.6,248.3) rotate(-90)">WSS/(3μ/(π*r<tspan class="r" font-style="normal" font-size="7.5" dy="1.8">0</tspan><tspan dy="-1.8">*h</tspan><tspan class="r" font-style="normal" font-size="7.5" dy="1.8">0</tspan><tspan class="r" font-style="normal" font-size="7.5" dy="-5.5">2</tspan><tspan dy="3.7">)*Q)</tspan></text>
<text class="m" x="0" y="0" font-size="10.8" fill="#111" text-anchor="middle" textLength="75" lengthAdjust="spacingAndGlyphs" transform="translate(625.2,249.8) rotate(-90)">WSSG (Pa.m<tspan class="r" font-style="normal" font-size="7.5" dy="-4">−1</tspan><tspan dy="4">)</tspan></text>
<text class="m" x="501" y="331.4" font-size="12" fill="#111">r<tspan font-size="8.5" dy="2.2">x</tspan><tspan dy="-2.2">/r</tspan><tspan class="r" font-style="normal" font-size="8.5" dy="2.2">0</tspan></text>
<polyline fill="none" stroke="#111" stroke-width="1.1" points="434.4,304.2 434.9,302.3 435.4,300.4 435.91,298.5 436.41,296.61 436.91,294.73 437.41,292.85 437.91,290.98 438.41,289.11 438.92,287.25 439.42,285.39 439.92,283.54 440.42,281.68 440.92,279.83 441.42,277.99 441.93,276.14 442.43,274.31 442.93,272.48 443.43,270.66 443.93,268.85 444.43,267.06 444.94,265.28 445.44,263.51 445.94,261.74 446.44,259.97 446.94,258.2 447.44,256.45 447.95,254.72 448.45,253.01 448.95,251.33 449.45,249.69 449.95,248.09 450.45,246.52 450.96,244.94 451.46,243.37 451.96,241.8 452.46,240.27 452.96,238.8 453.46,237.38 453.97,236.05 454.47,234.82 454.97,233.71 455.47,232.68 455.97,231.71 456.47,230.79 456.98,229.92 457.48,229.09 457.98,228.3 458.48,227.53 458.98,226.8 459.48,226.09 459.99,225.39 460.49,224.72 460.99,224.07 461.49,223.44 461.99,222.83 462.49,222.24 463,221.67 463.5,221.11 464,220.58 464.5,220.06 465,219.56 465.5,219.07 466.01,218.6 466.51,218.13 467.01,217.68 467.51,217.24 468.01,216.81 468.51,216.4 469.02,216 469.52,215.62 470.02,215.26 470.52,214.9 471.02,214.56 471.52,214.22 472.03,213.88 472.53,213.56 473.03,213.24 473.53,212.94 474.03,212.65 474.53,212.37 475.04,212.12 475.54,211.89 476.04,211.68 476.54,211.5 477.04,211.32 477.54,211.14 478.05,210.97 478.55,210.81 479.05,210.66 479.55,210.52 480.05,210.39 480.55,210.27 481.06,210.16 481.56,210.07 482.06,210 482.56,209.94 483.06,209.88 483.56,209.83 484.07,209.78 484.57,209.73 485.07,209.69 485.57,209.66 486.07,209.63 486.57,209.61 487.08,209.59 487.58,209.59 488.08,209.59 488.58,209.61 489.08,209.62 489.58,209.65 490.09,209.67 490.59,209.7 491.09,209.74 491.59,209.77 492.09,209.81 492.59,209.84 493.1,209.88 493.6,209.91 494.1,209.94 494.6,209.97 495.1,209.99 495.6,210.02 496.11,210.05 496.61,210.08 497.11,210.1 497.61,210.13 498.11,210.16 498.61,210.19 499.12,210.22 499.62,210.25 500.12,210.27 500.62,210.3 501.12,210.33 501.62,210.35 502.13,210.38 502.63,210.4 503.13,210.43 503.63,210.45 504.13,210.47 504.63,210.49 505.14,210.51 505.64,210.53 506.14,210.55 506.64,210.57 507.14,210.59 507.64,210.6 508.15,210.62 508.65,210.63 509.15,210.65 509.65,210.66 510.15,210.68 510.65,210.69 511.16,210.71 511.66,210.72 512.16,210.74 512.66,210.75 513.16,210.76 513.66,210.78 514.17,210.79 514.67,210.81 515.17,210.82 515.67,210.83 516.17,210.85 516.67,210.86 517.18,210.88 517.68,210.89 518.18,210.91 518.68,210.92 519.18,210.94 519.68,210.95 520.19,210.96 520.69,210.98 521.19,210.99 521.69,211.01 522.19,211.02 522.69,211.03 523.2,211.05 523.7,211.06 524.2,211.08 524.7,211.09 525.2,211.1 525.7,211.12 526.21,211.13 526.71,211.14 527.21,211.16 527.71,211.17 528.21,211.19 528.71,211.2 529.22,211.22 529.72,211.23 530.22,211.24 530.72,211.26 531.22,211.27 531.72,211.29 532.23,211.3 532.73,211.32 533.23,211.33 533.73,211.35 534.23,211.36 534.73,211.38 535.24,211.39 535.74,211.41 536.24,211.42 536.74,211.43 537.24,211.45 537.74,211.46 538.25,211.48 538.75,211.49 539.25,211.51 539.75,211.52 540.25,211.54 540.75,211.55 541.26,211.57 541.76,211.58 542.26,211.6 542.76,211.61 543.26,211.63 543.76,211.65 544.27,211.66 544.77,211.68 545.27,211.7 545.77,211.72 546.27,211.74 546.77,211.76 547.28,211.78 547.78,211.8 548.28,211.82 548.78,211.83 549.28,211.85 549.78,211.87 550.29,211.88 550.79,211.9 551.29,211.91 551.79,211.93 552.29,211.94 552.79,211.95 553.3,211.96 553.8,211.96 554.3,211.97 554.8,211.97 555.3,211.97 555.8,211.97 556.31,211.96 556.81,211.96 557.31,211.96 557.81,211.95 558.31,211.95 558.81,211.94 559.32,211.93 559.82,211.92 560.32,211.91 560.82,211.9 561.32,211.89 561.82,211.88 562.33,211.86 562.83,211.83 563.33,211.8 563.83,211.75 564.33,211.69 564.83,211.63 565.34,211.57 565.84,211.5 566.34,211.43 566.84,211.35 567.34,211.24 567.84,211.12 568.35,210.99 568.85,210.85 569.35,210.71 569.85,210.57 570.35,210.44 570.85,210.33 571.36,210.22 571.86,210.1 572.36,209.98 572.86,209.86 573.36,209.76 573.86,209.67 574.37,209.62 574.87,209.59 575.37,209.6 575.87,209.64 576.37,209.7 576.87,209.78 577.38,209.89 577.88,210 578.38,210.13 578.88,210.32 579.38,210.6 579.88,210.95 580.39,211.37 580.89,211.84 581.39,212.45 581.89,213.2 582.39,214.05 582.89,214.98 583.4,216.04 583.9,217.28 584.4,218.65"/>
<polyline fill="none" stroke="#1c1cc0" stroke-width="1.2" points="434.4,198.24 434.9,198.24 435.4,198.25 435.91,198.26 436.41,198.27 436.91,198.28 437.41,198.29 437.91,198.31 438.41,198.33 438.92,198.35 439.42,198.37 439.92,198.4 440.42,198.43 440.92,198.48 441.42,198.56 441.93,198.67 442.43,198.81 442.93,198.97 443.43,199.14 443.93,199.33 444.43,199.52 444.94,199.72 445.44,199.94 445.94,200.21 446.44,200.51 446.94,200.83 447.44,201.18 447.95,201.54 448.45,201.92 448.95,202.3 449.45,202.67 449.95,203.05 450.45,203.45 450.96,203.85 451.46,204.26 451.96,204.69 452.46,205.13 452.96,205.59 453.46,206.07 453.97,206.56 454.47,207.07 454.97,207.6 455.47,208.16 455.97,208.76 456.47,209.4 456.98,210.07 457.48,210.76 457.98,211.46 458.48,212.17 458.98,212.89 459.48,213.59 459.99,214.28 460.49,214.97 460.99,215.66 461.49,216.36 461.99,217.07 462.49,217.77 463,218.48 463.5,219.19 464,219.9 464.5,220.6 465,221.3 465.5,222 466.01,222.71 466.51,223.41 467.01,224.11 467.51,224.81 468.01,225.51 468.51,226.21 469.02,226.9 469.52,227.59 470.02,228.28 470.52,228.97 471.02,229.65 471.52,230.32 472.03,230.99 472.53,231.66 473.03,232.33 473.53,233 474.03,233.67 474.53,234.33 475.04,235.01 475.54,235.69 476.04,236.4 476.54,237.11 477.04,237.83 477.54,238.53 478.05,239.21 478.55,239.87 479.05,240.48 479.55,241.05 480.05,241.6 480.55,242.13 481.06,242.66 481.56,243.17 482.06,243.66 482.56,244.13 483.06,244.58 483.56,245 484.07,245.4 484.57,245.75 485.07,246.08 485.57,246.39 486.07,246.69 486.57,246.97 487.08,247.24 487.58,247.5 488.08,247.73 488.58,247.94 489.08,248.13 489.58,248.3 490.09,248.43 490.59,248.56 491.09,248.69 491.59,248.81 492.09,248.92 492.59,249.02 493.1,249.11 493.6,249.18 494.1,249.24 494.6,249.28 495.1,249.3 495.6,249.32 496.11,249.33 496.61,249.34 497.11,249.35 497.61,249.36 498.11,249.37 498.61,249.38 499.12,249.39 499.62,249.4 500.12,249.41 500.62,249.42 501.12,249.43 501.62,249.43 502.13,249.44 502.63,249.45 503.13,249.45 503.63,249.46 504.13,249.46 504.63,249.47 505.14,249.47 505.64,249.47 506.14,249.47 506.64,249.48 507.14,249.48 507.64,249.48 508.15,249.48 508.65,249.48 509.15,249.48 509.65,249.48 510.15,249.48 510.65,249.48 511.16,249.48 511.66,249.48 512.16,249.48 512.66,249.48 513.16,249.48 513.66,249.48 514.17,249.48 514.67,249.48 515.17,249.48 515.67,249.48 516.17,249.48 516.67,249.48 517.18,249.48 517.68,249.48 518.18,249.48 518.68,249.48 519.18,249.48 519.68,249.48 520.19,249.48 520.69,249.48 521.19,249.48 521.69,249.48 522.19,249.48 522.69,249.48 523.2,249.48 523.7,249.48 524.2,249.48 524.7,249.48 525.2,249.48 525.7,249.48 526.21,249.48 526.71,249.48 527.21,249.48 527.71,249.48 528.21,249.48 528.71,249.48 529.22,249.48 529.72,249.48 530.22,249.48 530.72,249.48 531.22,249.48 531.72,249.48 532.23,249.48 532.73,249.48 533.23,249.48 533.73,249.48 534.23,249.48 534.73,249.48 535.24,249.48 535.74,249.48 536.24,249.48 536.74,249.48 537.24,249.48 537.74,249.48 538.25,249.48 538.75,249.48 539.25,249.48 539.75,249.48 540.25,249.48 540.75,249.48 541.26,249.48 541.76,249.48 542.26,249.48 542.76,249.47 543.26,249.47 543.76,249.47 544.27,249.46 544.77,249.46 545.27,249.46 545.77,249.45 546.27,249.45 546.77,249.44 547.28,249.43 547.78,249.43 548.28,249.42 548.78,249.41 549.28,249.41 549.78,249.4 550.29,249.39 550.79,249.38 551.29,249.37 551.79,249.36 552.29,249.35 552.79,249.34 553.3,249.33 553.8,249.31 554.3,249.3 554.8,249.28 555.3,249.25 555.8,249.2 556.31,249.13 556.81,249.05 557.31,248.96 557.81,248.86 558.31,248.75 558.81,248.63 559.32,248.51 559.82,248.38 560.32,248.25 560.82,248.12 561.32,247.99 561.82,247.86 562.33,247.72 562.83,247.57 563.33,247.4 563.83,247.22 564.33,247.03 564.83,246.83 565.34,246.62 565.84,246.41 566.34,246.19 566.84,245.97 567.34,245.76 567.84,245.54 568.35,245.33 568.85,245.13 569.35,244.93 569.85,244.72 570.35,244.48 570.85,244.23 571.36,243.98 571.86,243.75 572.36,243.54 572.86,243.38 573.36,243.29 573.86,243.26 574.37,243.35 574.87,243.54 575.37,243.82 575.87,244.15 576.37,244.57 576.87,245.3 577.38,246.36 577.88,247.69 578.38,249.23 578.88,251.35 579.38,254.33 579.88,257.9 580.39,261.83 580.89,265.95 581.39,270.76 581.89,276.11 582.39,281.74 582.89,287.56 583.4,293.86 583.9,299.81 584.4,305.12"/>
<line x1="506" y1="222.6" x2="506" y2="214" stroke="#222" stroke-width="0.7"/>
<polygon points="506,211.4 507.2,214.6 504.8,214.6" fill="#222"/>
<text class="m" x="476.2" y="229.8" font-size="10.5" fill="#111" textLength="24.4" lengthAdjust="spacingAndGlyphs">WSS <tspan class="r" font-style="normal">=</tspan></text>
<text class="r" x="510.5" y="222.4" font-size="9.5" fill="#111">3<tspan class="m">μ</tspan></text>
<line x1="505" y1="225.8" x2="529" y2="225.8" stroke="#222" stroke-width="0.6"/>
<text class="m" x="505.6" y="234.2" font-size="9.5" fill="#111">πr<tspan class="r" font-style="normal" font-size="6.5" dy="1.6">0</tspan><tspan dy="-1.6">h</tspan><tspan class="r" font-style="normal" font-size="6.5" dy="1.6">0</tspan><tspan class="r" font-style="normal" font-size="6.5" dx="-3.4" dy="-5">2</tspan></text>
<text class="m" x="530.2" y="229.8" font-size="10.5" fill="#111">Q</text>
<line x1="506" y1="261.3" x2="506" y2="253.6" stroke="#222" stroke-width="0.7"/>
<polygon points="506,251 507.2,254.2 504.8,254.2" fill="#222"/>
<text class="m" x="476.2" y="268" font-size="10.2" fill="#111" textLength="71" lengthAdjust="spacingAndGlyphs">WSSG <tspan class="r" font-style="normal">= 0</tspan> Pa.m<tspan class="r" font-style="normal" font-size="7.5" dy="-4">−1</tspan></text>
<line x1="500.8" y1="282" x2="517.6" y2="282" stroke="#111" stroke-width="1.2"/>
<line x1="500.8" y1="292.6" x2="517.6" y2="292.6" stroke="#1c1cc0" stroke-width="1.3"/>
<text class="m" x="527.4" y="285.6" font-size="10.5" fill="#111">WSS</text>
<text class="m" x="526.2" y="296.2" font-size="10.5" fill="#111">WSSG</text>
<path d="M451.4,342.7H626.4V471.1H451.4Z" fill="none" stroke="#222" stroke-width="0.9"/>
<line x1="451.4" y1="342.7" x2="626.4" y2="342.7" stroke="#666" stroke-width="1.2"/>
<path d="M450.1,471.4H451.4M449,458.5H451.4M450.1,445.6H451.4M449,432.7H451.4M450.1,419.8H451.4M449,406.9H451.4M450.1,394H451.4M449,381.1H451.4M450.1,368.2H451.4M449,355.3H451.4M468.6,471.1V473.5M486.2,471.1V472.4M503.8,471.1V473.5M521.4,471.1V472.4M539,471.1V473.5M556.6,471.1V472.4M574.2,471.1V473.5M591.8,471.1V472.4M609.4,471.1V473.5M451.4,471.1V473.5" stroke="#222" stroke-width="0.8" fill="none"/>
<text class="s" x="445.6" y="461.7" font-size="8.9" text-anchor="end" fill="#111">0.00</text>
<text class="s" x="445.6" y="435.9" font-size="8.9" text-anchor="end" fill="#111">0.05</text>
<text class="s" x="445.6" y="410.1" font-size="8.9" text-anchor="end" fill="#111">0.10</text>
<text class="s" x="445.6" y="384.3" font-size="8.9" text-anchor="end" fill="#111">0.15</text>
<text class="s" x="445.6" y="358.5" font-size="8.9" text-anchor="end" fill="#111">0.20</text>
<text class="s" x="468.6" y="488" font-size="8.9" text-anchor="middle" fill="#111">0.00</text>
<text class="s" x="503.8" y="488" font-size="8.9" text-anchor="middle" fill="#111">0.02</text>
<text class="s" x="539" y="488" font-size="8.9" text-anchor="middle" fill="#111">0.04</text>
<text class="s" x="574.2" y="488" font-size="8.9" text-anchor="middle" fill="#111">0.06</text>
<text class="s" x="609.4" y="488" font-size="8.9" text-anchor="middle" fill="#111">0.08</text>
<text class="s" x="0" y="0" font-size="10.4" text-anchor="middle" fill="#111" transform="translate(420.2,410.8) rotate(-90)">Velocity (m/s)</text>
<text class="s" x="465" y="502.8" font-size="10.4" fill="#111" textLength="146" lengthAdjust="spacingAndGlyphs">Distance from the bottom (mm)</text>
<polyline fill="none" stroke="#000" stroke-width="1.3" points="468.6,458.5 469.29,456.48 469.99,454.49 470.68,452.51 471.37,450.55 472.06,448.62 472.76,446.7 473.45,444.81 474.14,442.93 474.83,441.08 475.53,439.24 476.22,437.43 476.91,435.63 477.6,433.86 478.3,432.11 478.99,430.38 479.68,428.67 480.37,426.97 481.07,425.3 481.76,423.65 482.45,422.02 483.14,420.41 483.84,418.82 484.53,417.25 485.22,415.7 485.91,414.18 486.61,412.67 487.3,411.18 487.99,409.71 488.68,408.27 489.38,406.84 490.07,405.43 490.76,404.05 491.45,402.68 492.15,401.34 492.84,400.01 493.53,398.71 494.22,397.42 494.92,396.16 495.61,394.92 496.3,393.7 496.99,392.49 497.69,391.31 498.38,390.15 499.07,389.01 499.76,387.89 500.46,386.79 501.15,385.71 501.84,384.65 502.53,383.61 503.23,382.59 503.92,381.59 504.61,380.61 505.3,379.65 506,378.72 506.69,377.8 507.38,376.9 508.07,376.03 508.77,375.17 509.46,374.34 510.15,373.52 510.84,372.73 511.54,371.95 512.23,371.2 512.92,370.46 513.61,369.75 514.31,369.06 515,368.38 515.69,367.73 516.38,367.1 517.08,366.49 517.77,365.9 518.46,365.33 519.15,364.78 519.85,364.25 520.54,363.74 521.23,363.25 521.92,362.78 522.62,362.33 523.31,361.9 524,361.5 524.69,361.11 525.39,360.74 526.08,360.4 526.77,360.07 527.46,359.76 528.16,359.48 528.85,359.21 529.54,358.97 530.23,358.75 530.93,358.54 531.62,358.36 532.31,358.2 533,358.05 533.7,357.93 534.39,357.83 535.08,357.75 535.77,357.69 536.47,357.64 537.16,357.62 537.85,357.62 538.54,357.64 539.24,357.69 539.93,357.75 540.62,357.83 541.31,357.93 542.01,358.05 542.7,358.2 543.39,358.36 544.08,358.54 544.78,358.75 545.47,358.97 546.16,359.21 546.85,359.48 547.55,359.76 548.24,360.07 548.93,360.4 549.62,360.74 550.32,361.11 551.01,361.5 551.7,361.9 552.39,362.33 553.09,362.78 553.78,363.25 554.47,363.74 555.16,364.25 555.86,364.78 556.55,365.33 557.24,365.9 557.93,366.49 558.63,367.1 559.32,367.73 560.01,368.38 560.7,369.06 561.4,369.75 562.09,370.46 562.78,371.2 563.47,371.95 564.17,372.73 564.86,373.52 565.55,374.34 566.24,375.17 566.94,376.03 567.63,376.9 568.32,377.8 569.01,378.72 569.71,379.65 570.4,380.61 571.09,381.59 571.78,382.59 572.48,383.61 573.17,384.65 573.86,385.71 574.55,386.79 575.25,387.89 575.94,389.01 576.63,390.15 577.32,391.31 578.02,392.49 578.71,393.7 579.4,394.92 580.09,396.16 580.79,397.42 581.48,398.71 582.17,400.01 582.86,401.34 583.56,402.68 584.25,404.05 584.94,405.43 585.63,406.84 586.33,408.27 587.02,409.71 587.71,411.18 588.4,412.67 589.1,414.18 589.79,415.7 590.48,417.25 591.17,418.82 591.87,420.41 592.56,422.02 593.25,423.65 593.94,425.3 594.64,426.97 595.33,428.67 596.02,430.38 596.71,432.11 597.41,433.86 598.1,435.63 598.79,437.43 599.48,439.24 600.18,441.08 600.87,442.93 601.56,444.81 602.25,446.7 602.95,448.62 603.64,450.55 604.33,452.51 605.02,454.49 605.72,456.48 606.41,458.5"/>
<polyline fill="none" stroke="#000" stroke-width="1" points="468.6,458.5 469.09,457.07 469.58,455.66 470.06,454.26 470.55,452.87 471.04,451.5 471.53,450.14 472.02,448.8 472.51,447.47 472.99,446.16 473.48,444.86 473.97,443.57 474.46,442.3 474.95,441.05 475.43,439.8 475.92,438.58 476.41,437.36 476.9,436.17 477.39,434.98 477.88,433.81 478.36,432.66 478.85,431.52 479.34,430.39 479.83,429.28 480.32,428.18 480.81,427.1 481.29,426.03 481.78,424.98 482.27,423.94 482.76,422.91 483.25,421.9 483.73,420.91 484.22,419.92 484.71,418.96 485.2,418 485.69,417.07 486.18,416.14 486.66,415.23 487.15,414.34 487.64,413.46 488.13,412.59 488.62,411.74 489.1,410.9 489.59,410.08 490.08,409.27 490.57,408.48 491.06,407.7 491.55,406.93 492.03,406.18 492.52,405.44 493.01,404.72 493.5,404.01 493.99,403.32 494.47,402.64 494.96,401.98 495.45,401.33 495.94,400.69 496.43,400.07 496.92,399.47 497.4,398.87 497.89,398.3 498.38,397.73 498.87,397.19 499.36,396.65 499.84,396.13 500.33,395.63 500.82,395.14 501.31,394.66 501.8,394.2 502.29,393.75 502.77,393.32 503.26,392.9 503.75,392.49 504.24,392.1 504.73,391.73 505.22,391.37 505.7,391.02 506.19,390.69 506.68,390.37 507.17,390.07 507.66,389.78 508.14,389.5 508.63,389.24 509.12,389 509.61,388.77 510.1,388.55 510.59,388.35 511.07,388.16 511.56,387.99 512.05,387.83 512.54,387.69 513.03,387.56 513.51,387.44 514,387.34 514.49,387.25 514.98,387.18 515.47,387.12 515.96,387.08 516.44,387.05 516.93,387.04 517.42,387.04 517.91,387.05 518.4,387.08 518.88,387.12 519.37,387.18 519.86,387.25 520.35,387.34 520.84,387.44 521.33,387.56 521.81,387.69 522.3,387.83 522.79,387.99 523.28,388.16 523.77,388.35 524.25,388.55 524.74,388.77 525.23,389 525.72,389.24 526.21,389.5 526.7,389.78 527.18,390.07 527.67,390.37 528.16,390.69 528.65,391.02 529.14,391.37 529.63,391.73 530.11,392.1 530.6,392.49 531.09,392.9 531.58,393.32 532.07,393.75 532.55,394.2 533.04,394.66 533.53,395.14 534.02,395.63 534.51,396.13 535,396.65 535.48,397.19 535.97,397.73 536.46,398.3 536.95,398.87 537.44,399.47 537.92,400.07 538.41,400.69 538.9,401.33 539.39,401.98 539.88,402.64 540.37,403.32 540.85,404.01 541.34,404.72 541.83,405.44 542.32,406.18 542.81,406.93 543.29,407.7 543.78,408.48 544.27,409.27 544.76,410.08 545.25,410.9 545.74,411.74 546.22,412.59 546.71,413.46 547.2,414.34 547.69,415.23 548.18,416.14 548.66,417.07 549.15,418 549.64,418.96 550.13,419.92 550.62,420.91 551.11,421.9 551.59,422.91 552.08,423.94 552.57,424.98 553.06,426.03 553.55,427.1 554.04,428.18 554.52,429.28 555.01,430.39 555.5,431.52 555.99,432.66 556.48,433.81 556.96,434.98 557.45,436.17 557.94,437.36 558.43,438.58 558.92,439.8 559.41,441.05 559.89,442.3 560.38,443.57 560.87,444.86 561.36,446.16 561.85,447.47 562.33,448.8 562.82,450.14 563.31,451.5 563.8,452.87 564.29,454.26 564.78,455.66 565.26,457.07 565.75,458.5"/>
<path d="M468.6,456.1l2.1,3.5h-4.2zM470.94,449.38l2.1,3.5h-4.2zM473.27,442.89l2.1,3.5h-4.2zM475.61,436.63l2.1,3.5h-4.2zM477.94,430.6l2.1,3.5h-4.2zM480.28,424.8l2.1,3.5h-4.2zM482.61,419.24l2.1,3.5h-4.2zM484.95,413.91l2.1,3.5h-4.2zM487.29,408.81l2.1,3.5h-4.2zM489.62,403.94l2.1,3.5h-4.2zM491.96,399.3l2.1,3.5h-4.2zM494.29,394.9l2.1,3.5h-4.2zM496.63,390.72l2.1,3.5h-4.2zM498.96,386.78l2.1,3.5h-4.2zM501.3,383.07l2.1,3.5h-4.2zM503.64,379.59l2.1,3.5h-4.2zM505.97,376.35l2.1,3.5h-4.2zM508.31,373.33l2.1,3.5h-4.2zM510.64,370.55l2.1,3.5h-4.2zM512.98,368l2.1,3.5h-4.2zM515.31,365.68l2.1,3.5h-4.2zM517.65,363.6l2.1,3.5h-4.2zM519.99,361.74l2.1,3.5h-4.2zM522.32,360.12l2.1,3.5h-4.2zM524.66,358.73l2.1,3.5h-4.2zM526.99,357.57l2.1,3.5h-4.2zM529.33,356.64l2.1,3.5h-4.2zM531.66,355.95l2.1,3.5h-4.2zM534,355.48l2.1,3.5h-4.2zM536.34,355.25l2.1,3.5h-4.2zM538.67,355.25l2.1,3.5h-4.2zM541.01,355.48l2.1,3.5h-4.2zM543.34,355.95l2.1,3.5h-4.2zM545.68,356.64l2.1,3.5h-4.2zM548.01,357.57l2.1,3.5h-4.2zM550.35,358.73l2.1,3.5h-4.2zM552.69,360.12l2.1,3.5h-4.2zM555.02,361.74l2.1,3.5h-4.2zM557.36,363.6l2.1,3.5h-4.2zM559.69,365.68l2.1,3.5h-4.2zM562.03,368l2.1,3.5h-4.2zM564.36,370.55l2.1,3.5h-4.2zM566.7,373.33l2.1,3.5h-4.2zM569.04,376.35l2.1,3.5h-4.2zM571.37,379.59l2.1,3.5h-4.2zM573.71,383.07l2.1,3.5h-4.2zM576.04,386.78l2.1,3.5h-4.2zM578.38,390.72l2.1,3.5h-4.2zM580.71,394.9l2.1,3.5h-4.2zM583.05,399.3l2.1,3.5h-4.2zM585.39,403.94l2.1,3.5h-4.2zM587.72,408.81l2.1,3.5h-4.2zM590.06,413.91l2.1,3.5h-4.2zM592.39,419.24l2.1,3.5h-4.2zM594.73,424.8l2.1,3.5h-4.2zM597.07,430.6l2.1,3.5h-4.2zM599.4,436.63l2.1,3.5h-4.2zM601.74,442.89l2.1,3.5h-4.2zM604.07,449.38l2.1,3.5h-4.2zM606.41,456.1l2.1,3.5h-4.2zM468.6,456.1l2.1,3.5h-4.2zM469.48,453.54l2.1,3.5h-4.2zM470.36,451.01l2.1,3.5h-4.2zM471.24,448.52l2.1,3.5h-4.2zM472.12,446.06l2.1,3.5h-4.2zM473,443.63l2.1,3.5h-4.2zM473.88,441.23l2.1,3.5h-4.2zM474.76,438.87l2.1,3.5h-4.2zM600.25,438.87l2.1,3.5h-4.2zM601.13,441.23l2.1,3.5h-4.2zM602.01,443.63l2.1,3.5h-4.2zM602.89,446.06l2.1,3.5h-4.2zM603.77,448.52l2.1,3.5h-4.2zM604.65,451.01l2.1,3.5h-4.2zM605.53,453.54l2.1,3.5h-4.2zM606.41,456.1l2.1,3.5h-4.2z" fill="#000"/>
<g fill="#000"><circle cx="468.6" cy="458.5" r="1.8"/><circle cx="470.76" cy="452.29" r="1.8"/><circle cx="472.92" cy="446.36" r="1.8"/><circle cx="475.08" cy="440.71" r="1.8"/><circle cx="477.24" cy="435.35" r="1.8"/><circle cx="479.39" cy="430.27" r="1.8"/><circle cx="481.55" cy="425.47" r="1.8"/><circle cx="483.71" cy="420.95" r="1.8"/><circle cx="485.87" cy="416.71" r="1.8"/><circle cx="488.03" cy="412.76" r="1.8"/><circle cx="490.19" cy="409.09" r="1.8"/><circle cx="492.35" cy="405.7" r="1.8"/><circle cx="494.51" cy="402.6" r="1.8"/><circle cx="496.67" cy="399.77" r="1.8"/><circle cx="498.83" cy="397.23" r="1.8"/><circle cx="500.98" cy="394.97" r="1.8"/><circle cx="503.14" cy="393" r="1.8"/><circle cx="505.3" cy="391.3" r="1.8"/><circle cx="507.46" cy="389.89" r="1.8"/><circle cx="509.62" cy="388.76" r="1.8"/><circle cx="511.78" cy="387.92" r="1.8"/><circle cx="513.94" cy="387.35" r="1.8"/><circle cx="516.1" cy="387.07" r="1.8"/><circle cx="518.26" cy="387.07" r="1.8"/><circle cx="520.41" cy="387.35" r="1.8"/><circle cx="522.57" cy="387.92" r="1.8"/><circle cx="524.73" cy="388.76" r="1.8"/><circle cx="526.89" cy="389.89" r="1.8"/><circle cx="529.05" cy="391.3" r="1.8"/><circle cx="531.21" cy="393" r="1.8"/><circle cx="533.37" cy="394.97" r="1.8"/><circle cx="535.53" cy="397.23" r="1.8"/><circle cx="537.69" cy="399.77" r="1.8"/><circle cx="539.84" cy="402.6" r="1.8"/><circle cx="542" cy="405.7" r="1.8"/><circle cx="544.16" cy="409.09" r="1.8"/><circle cx="546.32" cy="412.76" r="1.8"/><circle cx="548.48" cy="416.71" r="1.8"/><circle cx="550.64" cy="420.95" r="1.8"/><circle cx="552.8" cy="425.47" r="1.8"/><circle cx="554.96" cy="430.27" r="1.8"/><circle cx="557.12" cy="435.35" r="1.8"/><circle cx="559.28" cy="440.71" r="1.8"/><circle cx="561.43" cy="446.36" r="1.8"/><circle cx="563.59" cy="452.29" r="1.8"/><circle cx="565.75" cy="458.5" r="1.8"/><circle cx="468.6" cy="458.5" r="1.8"/><circle cx="469.48" cy="455.93" r="1.8"/><circle cx="470.36" cy="453.42" r="1.8"/><circle cx="471.24" cy="450.94" r="1.8"/><circle cx="472.12" cy="448.52" r="1.8"/><circle cx="473" cy="446.14" r="1.8"/><circle cx="473.88" cy="443.81" r="1.8"/><circle cx="474.76" cy="441.52" r="1.8"/><circle cx="559.59" cy="441.52" r="1.8"/><circle cx="560.47" cy="443.81" r="1.8"/><circle cx="561.35" cy="446.14" r="1.8"/><circle cx="562.23" cy="448.52" r="1.8"/><circle cx="563.11" cy="450.94" r="1.8"/><circle cx="563.99" cy="453.42" r="1.8"/><circle cx="564.87" cy="455.93" r="1.8"/><circle cx="565.75" cy="458.5" r="1.8"/></g>
<line x1="582.2" y1="356.2" x2="608" y2="356.2" stroke="#000" stroke-width="1.1"/>
<path d="M595,353.2l2.3,3.8h-4.6z" fill="#000"/>
<line x1="582.2" y1="373.3" x2="608" y2="373.3" stroke="#000" stroke-width="1"/>
<circle cx="595" cy="373.3" r="2" fill="#000"/>
<text class="m" x="612.6" y="358.6" font-size="11" fill="#111">r<tspan class="r" font-style="normal" font-size="8" dy="2.4">1</tspan></text>
<text class="m" x="612.6" y="375.9" font-size="11" fill="#111">r<tspan class="r" font-style="normal" font-size="8" dy="2.4">2</tspan></text>
<text class="s" x="20" y="513.1" font-size="17.5" fill="#111" textLength="25.2" lengthAdjust="spacingAndGlyphs">(C)</text>
<defs>
<linearGradient id="ubx" gradientUnits="userSpaceOnUse" x1="40" y1="0" x2="154" y2="0">
<stop offset="0" stop-color="#fff" stop-opacity="1"/><stop offset="0.05" stop-color="#fff" stop-opacity="0.5"/><stop offset="0.1" stop-color="#fff" stop-opacity="0"/><stop offset="0.8" stop-color="#fff" stop-opacity="0"/><stop offset="1" stop-color="#fff" stop-opacity="1"/></linearGradient>
<linearGradient id="uby" x1="0" y1="0" x2="0" y2="1">
<stop offset="0" stop-color="#e9f7f8"/><stop offset="0.6" stop-color="#d2eff0"/><stop offset="1" stop-color="#b8e4e6"/></linearGradient>
<linearGradient id="lbx" gradientUnits="userSpaceOnUse" x1="38" y1="0" x2="158" y2="0">
<stop offset="0" stop-color="#fff" stop-opacity="1"/><stop offset="0.08" stop-color="#fff" stop-opacity="0"/><stop offset="0.8" stop-color="#fff" stop-opacity="0"/><stop offset="1" stop-color="#fff" stop-opacity="1"/></linearGradient>
<linearGradient id="lby" x1="0" y1="0" x2="0" y2="1">
<stop offset="0" stop-color="#b9e5e8"/><stop offset="0.5" stop-color="#d6f1f3"/><stop offset="1" stop-color="#fff"/></linearGradient>
<linearGradient id="pbx" gradientUnits="userSpaceOnUse" x1="62" y1="0" x2="143" y2="0">
<stop offset="0" stop-color="#ffffff"/><stop offset="0.25" stop-color="#e2ecf8"/><stop offset="0.7" stop-color="#b5cdee"/><stop offset="1" stop-color="#7fa6dc"/></linearGradient>
<linearGradient id="fbx" gradientUnits="userSpaceOnUse" x1="40" y1="0" x2="156" y2="0">
<stop offset="0" stop-color="#f3d8d4" stop-opacity="0.3"/><stop offset="0.1" stop-color="#eccfd0"/><stop offset="0.85" stop-color="#efd3d2"/><stop offset="1" stop-color="#fff" stop-opacity="0"/></linearGradient>
</defs>
<path d="M40,563.3 C80,563.3 120,561 152,555.6 L152,570.6 C120,576 80,577.4 40,577.4 Z" fill="url(#uby)"/>
<path d="M38,555 H156 V579 H38 Z" fill="url(#ubx)"/>
<path d="M44,563.4 L95,563.3" fill="none" stroke="#b4c0c8" stroke-width="0.6"/>
<path d="M95,563.3 C115,562.6 132,560 150,556" fill="none" stroke="#a9b9c2" stroke-width="0.5" stroke-dasharray="2,2.2" opacity="0.8"/>
<path d="M64,577.3 L98,577.1" fill="none" stroke="#8ea4b6" stroke-width="0.7"/>
<path d="M62,577.2 C90,577.2 120,575.5 150,570.8" fill="none" stroke="#9bb3c0" stroke-width="0.5" stroke-dasharray="2,2.2" opacity="0.8"/>
<path d="M62,578.2 L96,578.2 C125,580 142,590 142.5,601.7 C142,609 132,617 117.6,621 L62,621 Z" fill="url(#pbx)"/>
<path d="M96,579.2 C125,581 142,590 142.5,601.7 C142,609 132,617 117.6,621" fill="none" stroke="#6d93c8" stroke-width="0.5"/>
<path d="M96,579.3 C112,579.8 122,581.5 130,584" fill="none" stroke="#5a7fb3" stroke-width="0.6" stroke-dasharray="1.5,1.5"/>
<line x1="66" y1="591.3" x2="134.6" y2="591.3" stroke="#4a6fa8" stroke-width="0.6"/>
<polygon points="135.6,591.3 133.4,590.3 133.4,592.3" fill="#3c65a3"/>
<line x1="66" y1="601.5" x2="140.5" y2="601.5" stroke="#8eaad4" stroke-width="0.6"/>
<polygon points="141.5,601.5 139.3,600.5 139.3,602.5" fill="#3c65a3"/>
<line x1="66" y1="611.3" x2="134.6" y2="611.3" stroke="#4a6fa8" stroke-width="0.6"/>
<polygon points="135.6,611.3 133.4,610.3 133.4,612.3" fill="#3c65a3"/>
<text class="s" x="41.2" y="605.3" font-size="11.4" fill="#111" textLength="22.4" lengthAdjust="spacingAndGlyphs">Flow</text>
<rect x="40" y="630.4" width="116" height="15" fill="url(#lby)"/>
<rect x="40" y="623.8" width="116" height="6.8" fill="url(#fbx)"/>
<path d="M76.97,625.19l5.6,-1.03M99.88,626.46l3.23,0.02M46.05,626.86l3.28,-0.98M87.85,629.18l3.5,-0.66M109.76,629.89l5.31,-0.25M147.44,624.57l6.43,-0.5M57.58,624.99l4.23,0.76M61.52,627.73l5.56,-0.31M101.16,624.67l3.24,-0.71M115.48,626.82l4.26,0.21M90.94,626.07l6.18,0.48M68.36,627.69l5.1,0.9M120.78,626l6.92,-0.92M87.16,628.77l3.61,-0.03M46.23,628.24l6.06,0.18M136.55,626.15l5.78,0.23M104.63,626.99l6.36,1.07M93.2,628.22l3.24,0.48M111.89,630.16l6.29,-0.52M83.67,628.25l3.09,-0.09M60.15,624.99l3.24,0.64M55.97,625.76l4.56,0.89M50.7,626.95l5.2,0.92M130.48,629.4l4.11,-0.2M80.75,629.52l6.83,-0.84M61.03,625.67l3.93,-0.04M105.63,625.85l3.02,-0.19M81.88,627.64l6.81,0.46M97.67,627.94l5.7,-1.07M139.15,628.9l6.5,0.71M84.38,626.65l3.41,0.32M48.72,624.7l3.84,-0.81M78.73,624.61l3,-0.84M52.96,626.45l3.1,0.9M108.32,625.18l4.01,-0.37M81.33,625.02l6.4,1.18M92.33,627.15l3.34,-0.95M79,625.86l6.32,-0.81M44.49,629.91l5.11,-0.85M100.66,624.46l5.11,1.15M135.24,628.41l4.04,-0.32M60.04,628.85l5.13,0.67M77.6,625.62l6.25,1.16M134.08,629.06l6.27,0.58M66.49,627.35l4.42,-1.13M45.02,625.95l4.04,0.46M145.3,626.94l6.75,1.17M145.14,626.45l3.88,-0.66M63.24,625.51l5.5,0.96M132.77,627.13l5.61,0.72M51.16,628.2l6.64,0.68M123.02,627.12l3.71,0.69M77.91,629.02l6.89,-0.25M85.35,629.89l5.9,-0.79M55.72,625.19l6.62,0.74M57.79,629.18l6.92,0.38M79.84,627.54l3.52,-1.17M146.86,628.13l5.11,1.04M88.85,629.44l6.3,-0.69M69.2,626.03l3.96,0.21M70.01,626.77l3.52,0.98M80.21,627l5.33,0.97M87.43,629.71l5.01,0.08M98.54,624.41l4.76,-0.76M42.42,629.02l3.69,-0.06M120.32,627.58l4.3,0.04M101.99,628.93l3.42,0.14M68.84,625.93l6.09,0.02M102.67,628.78l6.65,-0.14M108.15,627.28l5.05,0.46" stroke="#a57fbf" stroke-width="0.35" fill="none" opacity="0.8"/>
<path d="M90.85,627.45l4.91,1.06M117.52,629.47l6.77,-0.58M102.43,629.87l6.36,-0.87M55.14,626.91l3.29,-0.62M49.9,628.25l6.14,0.95M58.68,628.53l5.64,-0.86M137.35,630.01l3.88,1.09M85.01,627.17l6.96,0.8M59.44,626.85l5.06,-0.39M63.14,626.18l5.89,-1.15M101.84,626.9l3.07,-0.4M109.38,627.32l3.26,1.16M127.14,630.03l3.42,-0.56M46.28,628.9l4.08,-0.89M87.6,629.68l6.28,-0.58M58.13,629.72l5.28,0.48M51.66,624.64l5.75,-0.18M49.82,629.84l5.54,0.72M51.04,629.35l3.27,0.87M91.01,626.3l5.21,1.02M70.93,625.06l5.11,-0.63M53.82,625.25l3.2,-0.72M75.7,626.1l6.04,-0.5M96.01,625.35l4.39,-1.16M69.05,624.39l5.93,0.12M62.46,627.1l6.74,-0.94M130.44,626.85l4.98,0.8M84.45,627.29l5.75,1.16M79.01,629.21l5.83,0.33M85.71,626.35l3.22,-0.89M49.64,628.67l4.02,-0.81M51.12,629.26l6.48,0.41M72.45,625.73l4.17,-0.1M59.01,626.93l4.05,1.11M147.04,627.53l3.98,1.12M75.43,626.4l3,-0.28M93.26,627.27l3.8,0.01M42.53,625.86l3.36,-0.24M46.5,624.43l4.22,-0.64M105.24,627.42l6,0.38M119.33,629.49l4.56,-0.42M148.35,625.18l5.9,0.34M46.73,629.23l6.57,0.31M121.26,629.09l3.56,0.06M96.47,629.23l6.22,0.78M105.08,629.57l5.73,0.46M66.83,624.48l3.53,-0.33M53.33,629.23l5.23,0.31M109.63,628.32l4.96,-1.19M128.15,628.71l5.01,0.08" stroke="#e09a90" stroke-width="0.4" fill="none" opacity="0.8"/>
<rect x="38" y="623" width="120" height="24" fill="url(#lbx)"/>
<path d="M39.68,621.2 C40.79,611.58 49.62,611.58 50.73,621.2 Z" fill="#f6ceb8" stroke="#dfa286" stroke-width="0.45"/><circle cx="44.72" cy="617.6" r="0.8" fill="#c4855a"/><path d="M47.15,621.2 C48.24,612.58 56.89,612.58 57.97,621.2 Z" fill="#f6ceb8" stroke="#dfa286" stroke-width="0.45"/><circle cx="53.14" cy="617.6" r="0.8" fill="#c4855a"/><path d="M53.1,621.2 C54.22,613.63 63.18,613.63 64.3,621.2 Z" fill="#f6ceb8" stroke="#dfa286" stroke-width="0.45"/><circle cx="58.57" cy="617.6" r="0.8" fill="#c4855a"/><path d="M61.35,621.2 C62.39,613.69 70.71,613.69 71.75,621.2 Z" fill="#f6ceb8" stroke="#dfa286" stroke-width="0.45"/><circle cx="66.99" cy="617.6" r="0.8" fill="#c4855a"/><path d="M66.81,621.2 C67.95,611.34 77.01,611.34 78.14,621.2 Z" fill="#f6ceb8" stroke="#dfa286" stroke-width="0.45"/><circle cx="71.54" cy="617.6" r="0.8" fill="#c4855a"/><path d="M43.4,621.5v2.3M45.7,621.5v2.3M48,621.5v2.3M50.3,621.5v2.3M52.6,621.5v2.3M54.9,621.5v2.3M57.2,621.5v2.3M59.5,621.5v2.3M61.8,621.5v2.3M64.1,621.5v2.3M66.4,621.5v2.3M68.7,621.5v2.3M71,621.5v2.3M73.3,621.5v2.3M75.6,621.5v2.3" stroke="#3a86a0" stroke-width="0.75"/>
<path d="M81.58,621.2 C82.57,611.33 90.43,611.33 91.42,621.2 Z" fill="#f6ceb8" stroke="#dfa286" stroke-width="0.45"/><circle cx="85.67" cy="617.6" r="0.8" fill="#c4855a"/><path d="M87.69,621.2 C88.8,611.86 97.69,611.86 98.8,621.2 Z" fill="#f6ceb8" stroke="#dfa286" stroke-width="0.45"/><circle cx="92.86" cy="617.6" r="0.8" fill="#c4855a"/><path d="M94.36,621.2 C95.45,612.18 104.19,612.18 105.28,621.2 Z" fill="#f6ceb8" stroke="#dfa286" stroke-width="0.45"/><circle cx="99.14" cy="617.6" r="0.8" fill="#c4855a"/><path d="M100.87,621.2 C101.99,612.72 110.97,612.72 112.09,621.2 Z" fill="#f6ceb8" stroke="#dfa286" stroke-width="0.45"/><circle cx="107.47" cy="617.6" r="0.8" fill="#c4855a"/><path d="M108.93,621.2 C109.99,612.34 118.51,612.34 119.57,621.2 Z" fill="#f6ceb8" stroke="#dfa286" stroke-width="0.45"/><circle cx="113.79" cy="617.6" r="0.8" fill="#c4855a"/><path d="M83.3,621.5v2.3M85.6,621.5v2.3M87.9,621.5v2.3M90.2,621.5v2.3M92.5,621.5v2.3M94.8,621.5v2.3M97.1,621.5v2.3M99.4,621.5v2.3M101.7,621.5v2.3M104,621.5v2.3M106.3,621.5v2.3M108.6,621.5v2.3M110.9,621.5v2.3M113.2,621.5v2.3M115.5,621.5v2.3" stroke="#3a86a0" stroke-width="0.75"/>
<path d="M120.14,618.2 C121.17,609.34 129.41,609.34 130.44,618.2 Z" fill="#f6ceb8" stroke="#dfa286" stroke-width="0.45"/><circle cx="125.5" cy="614.6" r="0.8" fill="#c4855a"/><path d="M127.94,618.2 C128.9,610.54 136.56,610.54 137.52,618.2 Z" fill="#f6ceb8" stroke="#dfa286" stroke-width="0.45"/><circle cx="133.41" cy="614.6" r="0.8" fill="#c4855a"/><path d="M133.17,618.2 C134.33,610.11 143.6,610.11 144.76,618.2 Z" fill="#f6ceb8" stroke="#dfa286" stroke-width="0.45"/><circle cx="138.91" cy="614.6" r="0.8" fill="#c4855a"/><path d="M141.28,618.2 C142.37,609.51 151.05,609.51 152.14,618.2 Z" fill="#f6ceb8" stroke="#dfa286" stroke-width="0.45"/><circle cx="146.01" cy="614.6" r="0.8" fill="#c4855a"/><path d="M147.9,618.2 C148.96,608.53 157.45,608.53 158.51,618.2 Z" fill="#f6ceb8" stroke="#dfa286" stroke-width="0.45"/><circle cx="153.69" cy="614.6" r="0.8" fill="#c4855a"/><path d="M123.3,618.5v2.3M125.6,618.5v2.3M127.9,618.5v2.3M130.2,618.5v2.3M132.5,618.5v2.3M134.8,618.5v2.3M137.1,618.5v2.3M139.4,618.5v2.3M141.7,618.5v2.3M144,618.5v2.3M146.3,618.5v2.3M148.6,618.5v2.3M150.9,618.5v2.3M153.2,618.5v2.3M155.5,618.5v2.3" stroke="#3a86a0" stroke-width="0.75"/>
<line x1="157.7" y1="597.6" x2="169.9" y2="597.6" stroke="#333" stroke-width="0.7"/><polygon points="172.3,597.6 169.1,596.3 169.1,598.9" fill="#222"/>
<line x1="251.9" y1="597.6" x2="264.1" y2="597.6" stroke="#333" stroke-width="0.7"/><polygon points="266.5,597.6 263.3,596.3 263.3,598.9" fill="#222"/>
<rect x="175.5" y="515.5" width="73.9" height="163.2" fill="#fdf7e4"/>
<path d="M175.7,515.6 H249.4" stroke="#d8d4cc" stroke-width="0.8"/>
<path d="M175.7,515.5 V678.8 H249.4" fill="none" stroke="#b9b5ad" stroke-width="0.9"/>
<rect x="270" y="515.5" width="73.8" height="163.4" fill="#e6f6fb"/>
<path d="M270.2,515.6 H343.8" stroke="#cfdde2" stroke-width="0.8"/>
<path d="M343.8,515.5 V679 M270,679 H343.8" fill="none" stroke="#c2cfd4" stroke-width="0.9"/>
<text class="s" x="212.5" y="531" font-size="10.7" text-anchor="middle" fill="#111">Before</text>
<text class="s" x="307.6" y="531" font-size="10.7" text-anchor="middle" fill="#111">After</text>
<defs><radialGradient id="cdg"><stop offset="0" stop-color="#f7dccf"/><stop offset="0.7" stop-color="#f8e1d6"/><stop offset="1" stop-color="#fae8e0" stop-opacity="0"/></radialGradient></defs>
<circle cx="213.6" cy="643.4" r="29.8" fill="url(#cdg)"/><g fill="#fffaf7" stroke="#e9a285" stroke-width="0.5" stroke-opacity="0.8"><circle cx="202.27" cy="616.74" r="2.0" opacity="0.15"/><circle cx="205.91" cy="616.69" r="2.0" opacity="0.23"/><circle cx="209.74" cy="616.17" r="2.0" opacity="0.28"/><circle cx="214.05" cy="616.66" r="2.0" opacity="0.39"/><circle cx="217.95" cy="616.24" r="2.0" opacity="0.28"/><circle cx="221.67" cy="616.16" r="2.0" opacity="0.15"/><circle cx="199.5" cy="619.7" r="2.0" opacity="0.26"/><circle cx="203.44" cy="619.46" r="2.0" opacity="0.51"/><circle cx="207.5" cy="619.95" r="2.0" opacity="0.78"/><circle cx="211.57" cy="619.41" r="2.0" opacity="0.8"/><circle cx="215.09" cy="619.58" r="2.0" opacity="0.84"/><circle cx="219.58" cy="619.82" r="2.0" opacity="0.77"/><circle cx="223.76" cy="619.96" r="2.0" opacity="0.58"/><circle cx="227" cy="619.28" r="2.0" opacity="0.26"/><circle cx="193.92" cy="622.81" r="2.0" opacity="0.15"/><circle cx="198.45" cy="623.49" r="2.0" opacity="0.66"/><circle cx="201.72" cy="622.93" r="2.0" opacity="0.87"/><circle cx="205.58" cy="622.67" r="2.0" opacity="1"/><circle cx="209.45" cy="623.52" r="2.0" opacity="1"/><circle cx="213.18" cy="622.77" r="2.0" opacity="1"/><circle cx="217.2" cy="622.62" r="2.0" opacity="1"/><circle cx="221.43" cy="623.29" r="2.0" opacity="1"/><circle cx="225.64" cy="623.17" r="2.0" opacity="0.89"/><circle cx="229.52" cy="622.55" r="2.0" opacity="0.47"/><circle cx="232.88" cy="623.5" r="2.0" opacity="0.25"/><circle cx="192.11" cy="626.47" r="2.0" opacity="0.3"/><circle cx="195.99" cy="626.47" r="2.0" opacity="0.75"/><circle cx="200.28" cy="626.14" r="2.0" opacity="1"/><circle cx="203.94" cy="626.87" r="2.0" opacity="1"/><circle cx="208.1" cy="626.11" r="2.0" opacity="1"/><circle cx="212.11" cy="626.78" r="2.0" opacity="1"/><circle cx="215.22" cy="626.2" r="2.0" opacity="1"/><circle cx="219.15" cy="625.99" r="2.0" opacity="1"/><circle cx="223.83" cy="626.34" r="2.0" opacity="1"/><circle cx="227.62" cy="626.05" r="2.0" opacity="1"/><circle cx="230.66" cy="626.8" r="2.0" opacity="0.85"/><circle cx="235.34" cy="626.93" r="2.0" opacity="0.31"/><circle cx="190.41" cy="629.69" r="2.0" opacity="0.36"/><circle cx="193.9" cy="629.83" r="2.0" opacity="0.83"/><circle cx="197.9" cy="629.7" r="2.0" opacity="1"/><circle cx="202.05" cy="630.2" r="2.0" opacity="1"/><circle cx="205.88" cy="629.47" r="2.0" opacity="1"/><circle cx="209.42" cy="629.7" r="2.0" opacity="1"/><circle cx="213.71" cy="629.47" r="2.0" opacity="1"/><circle cx="217.08" cy="629.65" r="2.0" opacity="1"/><circle cx="221.18" cy="629.36" r="2.0" opacity="1"/><circle cx="225.34" cy="630.25" r="2.0" opacity="1"/><circle cx="229.23" cy="630.07" r="2.0" opacity="1"/><circle cx="233.43" cy="630.17" r="2.0" opacity="0.84"/><circle cx="237.41" cy="629.77" r="2.0" opacity="0.29"/><circle cx="188.27" cy="633.29" r="2.0" opacity="0.31"/><circle cx="191.74" cy="632.95" r="2.0" opacity="0.78"/><circle cx="196.02" cy="633.58" r="2.0" opacity="1"/><circle cx="199.99" cy="633.01" r="2.0" opacity="1"/><circle cx="204.33" cy="633.38" r="2.0" opacity="1"/><circle cx="207.78" cy="632.92" r="2.0" opacity="1"/><circle cx="211.45" cy="633.62" r="2.0" opacity="1"/><circle cx="215.18" cy="633.25" r="2.0" opacity="1"/><circle cx="219.57" cy="633.08" r="2.0" opacity="1"/><circle cx="223.62" cy="633.63" r="2.0" opacity="1"/><circle cx="227.61" cy="633.46" r="2.0" opacity="1"/><circle cx="230.85" cy="632.78" r="2.0" opacity="1"/><circle cx="234.98" cy="633.03" r="2.0" opacity="0.85"/><circle cx="238.64" cy="633.59" r="2.0" opacity="0.37"/><circle cx="186.62" cy="637.1" r="2.0" opacity="0.24"/><circle cx="190.05" cy="637.11" r="2.0" opacity="0.76"/><circle cx="194.08" cy="636.29" r="2.0" opacity="1"/><circle cx="198.22" cy="636.45" r="2.0" opacity="1"/><circle cx="202.13" cy="636.7" r="2.0" opacity="1"/><circle cx="205.41" cy="636.64" r="2.0" opacity="1"/><circle cx="210.05" cy="636.59" r="2.0" opacity="1"/><circle cx="213.64" cy="636.98" r="2.0" opacity="1"/><circle cx="217.45" cy="636.61" r="2.0" opacity="1"/><circle cx="221.48" cy="636.94" r="2.0" opacity="1"/><circle cx="225" cy="636.21" r="2.0" opacity="1"/><circle cx="229.46" cy="636.67" r="2.0" opacity="1"/><circle cx="232.9" cy="637.01" r="2.0" opacity="1"/><circle cx="237.38" cy="636.66" r="2.0" opacity="0.7"/><circle cx="241.39" cy="636.95" r="2.0" opacity="0.15"/><circle cx="184.81" cy="639.69" r="2.0" opacity="0.15"/><circle cx="188.32" cy="640.02" r="2.0" opacity="0.58"/><circle cx="191.85" cy="639.73" r="2.0" opacity="1"/><circle cx="196.54" cy="640.3" r="2.0" opacity="1"/><circle cx="200.18" cy="640.41" r="2.0" opacity="1"/><circle cx="203.45" cy="640.21" r="2.0" opacity="1"/><circle cx="208" cy="639.73" r="2.0" opacity="1"/><circle cx="211.61" cy="640.48" r="2.0" opacity="1"/><circle cx="215.38" cy="640.27" r="2.0" opacity="1"/><circle cx="219.12" cy="640.17" r="2.0" opacity="1"/><circle cx="223.12" cy="640.02" r="2.0" opacity="1"/><circle cx="227.12" cy="640.38" r="2.0" opacity="1"/><circle cx="231.39" cy="640.01" r="2.0" opacity="1"/><circle cx="235.24" cy="639.93" r="2.0" opacity="1"/><circle cx="239.25" cy="639.76" r="2.0" opacity="0.52"/><circle cx="186.32" cy="643.23" r="2.0" opacity="0.31"/><circle cx="190.67" cy="643" r="2.0" opacity="0.98"/><circle cx="194.4" cy="643.29" r="2.0" opacity="1"/><circle cx="198.31" cy="643.35" r="2.0" opacity="1"/><circle cx="202.07" cy="643.23" r="2.0" opacity="1"/><circle cx="205.52" cy="643.35" r="2.0" opacity="1"/><circle cx="210" cy="643.25" r="2.0" opacity="1"/><circle cx="213.33" cy="643.32" r="2.0" opacity="1"/><circle cx="217.1" cy="643.22" r="2.0" opacity="1"/><circle cx="221.47" cy="643.45" r="2.0" opacity="1"/><circle cx="225.4" cy="643.19" r="2.0" opacity="1"/><circle cx="228.72" cy="642.93" r="2.0" opacity="1"/><circle cx="232.94" cy="643.1" r="2.0" opacity="1"/><circle cx="237.07" cy="643.17" r="2.0" opacity="0.9"/><circle cx="241.16" cy="643.5" r="2.0" opacity="0.27"/><circle cx="188.49" cy="646.82" r="2.0" opacity="0.61"/><circle cx="192.42" cy="646.8" r="2.0" opacity="1"/><circle cx="196.18" cy="646.38" r="2.0" opacity="1"/><circle cx="200.12" cy="646.81" r="2.0" opacity="1"/><circle cx="204.31" cy="646.3" r="2.0" opacity="1"/><circle cx="207.32" cy="646.97" r="2.0" opacity="1"/><circle cx="212.08" cy="646.71" r="2.0" opacity="1"/><circle cx="215.76" cy="646.85" r="2.0" opacity="1"/><circle cx="219.34" cy="646.76" r="2.0" opacity="1"/><circle cx="223.45" cy="646.32" r="2.0" opacity="1"/><circle cx="227.06" cy="647.03" r="2.0" opacity="1"/><circle cx="230.91" cy="646.77" r="2.0" opacity="1"/><circle cx="234.81" cy="646.65" r="2.0" opacity="1"/><circle cx="239.1" cy="647.04" r="2.0" opacity="0.54"/><circle cx="185.94" cy="650.46" r="2.0" opacity="0.15"/><circle cx="190.6" cy="649.81" r="2.0" opacity="0.83"/><circle cx="194.19" cy="650.63" r="2.0" opacity="1"/><circle cx="197.79" cy="650.54" r="2.0" opacity="1"/><circle cx="202.31" cy="650.12" r="2.0" opacity="1"/><circle cx="205.45" cy="649.9" r="2.0" opacity="1"/><circle cx="210.03" cy="650.11" r="2.0" opacity="1"/><circle cx="213.42" cy="650.13" r="2.0" opacity="1"/><circle cx="217.93" cy="649.94" r="2.0" opacity="1"/><circle cx="220.92" cy="650.64" r="2.0" opacity="1"/><circle cx="225.12" cy="650.07" r="2.0" opacity="1"/><circle cx="229.68" cy="649.97" r="2.0" opacity="1"/><circle cx="232.69" cy="650.57" r="2.0" opacity="1"/><circle cx="236.74" cy="649.91" r="2.0" opacity="0.81"/><circle cx="241.34" cy="649.92" r="2.0" opacity="0.15"/><circle cx="187.92" cy="653.41" r="2.0" opacity="0.27"/><circle cx="191.76" cy="653.4" r="2.0" opacity="0.81"/><circle cx="196.09" cy="653.49" r="2.0" opacity="1"/><circle cx="199.78" cy="653.37" r="2.0" opacity="1"/><circle cx="203.84" cy="653.86" r="2.0" opacity="1"/><circle cx="207.69" cy="653.85" r="2.0" opacity="1"/><circle cx="211.63" cy="653.2" r="2.0" opacity="1"/><circle cx="215.22" cy="653.93" r="2.0" opacity="1"/><circle cx="219.43" cy="653.46" r="2.0" opacity="1"/><circle cx="223.37" cy="653.93" r="2.0" opacity="1"/><circle cx="227.13" cy="653.44" r="2.0" opacity="1"/><circle cx="231.02" cy="653.09" r="2.0" opacity="1"/><circle cx="235.09" cy="653.56" r="2.0" opacity="0.85"/><circle cx="238.95" cy="653.53" r="2.0" opacity="0.31"/><circle cx="190.67" cy="656.69" r="2.0" opacity="0.43"/><circle cx="194.19" cy="656.6" r="2.0" opacity="0.9"/><circle cx="198.35" cy="656.92" r="2.0" opacity="1"/><circle cx="201.92" cy="657.14" r="2.0" opacity="1"/><circle cx="205.44" cy="657.2" r="2.0" opacity="1"/><circle cx="210" cy="657.33" r="2.0" opacity="1"/><circle cx="213.38" cy="656.71" r="2.0" opacity="1"/><circle cx="217.16" cy="657.37" r="2.0" opacity="1"/><circle cx="221.34" cy="656.86" r="2.0" opacity="1"/><circle cx="225.32" cy="657.17" r="2.0" opacity="1"/><circle cx="229.02" cy="656.81" r="2.0" opacity="1"/><circle cx="233.37" cy="657.25" r="2.0" opacity="0.79"/><circle cx="236.8" cy="656.55" r="2.0" opacity="0.41"/><circle cx="192.44" cy="660.18" r="2.0" opacity="0.35"/><circle cx="195.84" cy="660.49" r="2.0" opacity="0.72"/><circle cx="200.03" cy="660.36" r="2.0" opacity="1"/><circle cx="204.21" cy="660.38" r="2.0" opacity="1"/><circle cx="207.59" cy="659.93" r="2.0" opacity="1"/><circle cx="211.7" cy="660.23" r="2.0" opacity="1"/><circle cx="215.59" cy="660.21" r="2.0" opacity="1"/><circle cx="218.96" cy="659.9" r="2.0" opacity="1"/><circle cx="223.01" cy="659.96" r="2.0" opacity="1"/><circle cx="227.6" cy="660.45" r="2.0" opacity="1"/><circle cx="230.89" cy="660.58" r="2.0" opacity="0.76"/><circle cx="235.18" cy="659.93" r="2.0" opacity="0.33"/><circle cx="193.8" cy="663.83" r="2.0" opacity="0.15"/><circle cx="197.97" cy="664.22" r="2.0" opacity="0.5"/><circle cx="202.28" cy="663.84" r="2.0" opacity="0.91"/><circle cx="206.17" cy="664.14" r="2.0" opacity="1"/><circle cx="209.37" cy="664.09" r="2.0" opacity="1"/><circle cx="213.93" cy="664.25" r="2.0" opacity="1"/><circle cx="217.76" cy="663.65" r="2.0" opacity="1"/><circle cx="221.11" cy="663.91" r="2.0" opacity="1"/><circle cx="225.01" cy="664.02" r="2.0" opacity="0.88"/><circle cx="229.27" cy="664.08" r="2.0" opacity="0.52"/><circle cx="232.96" cy="663.56" r="2.0" opacity="0.21"/><circle cx="199.94" cy="666.71" r="2.0" opacity="0.35"/><circle cx="203.77" cy="667.54" r="2.0" opacity="0.5"/><circle cx="207.87" cy="666.97" r="2.0" opacity="0.78"/><circle cx="211.96" cy="667.01" r="2.0" opacity="0.87"/><circle cx="215.95" cy="667.05" r="2.0" opacity="0.85"/><circle cx="219.03" cy="667.62" r="2.0" opacity="0.69"/><circle cx="222.92" cy="666.9" r="2.0" opacity="0.62"/><circle cx="227.52" cy="666.77" r="2.0" opacity="0.32"/><circle cx="205.73" cy="670.07" r="2.0" opacity="0.23"/><circle cx="209.29" cy="670.29" r="2.0" opacity="0.32"/><circle cx="213.56" cy="670.17" r="2.0" opacity="0.39"/><circle cx="217.97" cy="670.62" r="2.0" opacity="0.27"/><circle cx="221.64" cy="670.94" r="2.0" opacity="0.15"/></g><path d="M202.94,618.96h1v1h-1zM207,619.45h1v1h-1zM211.07,618.91h1v1h-1zM214.59,619.08h1v1h-1zM219.08,619.32h1v1h-1zM223.26,619.46h1v1h-1zM197.95,622.99h1v1h-1zM201.22,622.43h1v1h-1zM205.08,622.17h1v1h-1zM208.95,623.02h1v1h-1zM212.68,622.27h1v1h-1zM216.7,622.12h1v1h-1zM220.93,622.79h1v1h-1zM225.14,622.67h1v1h-1zM229.02,622.05h1v1h-1zM195.49,625.97h1v1h-1zM199.78,625.64h1v1h-1zM203.44,626.37h1v1h-1zM207.6,625.61h1v1h-1zM211.61,626.28h1v1h-1zM214.72,625.7h1v1h-1zM218.65,625.49h1v1h-1zM223.33,625.84h1v1h-1zM227.12,625.55h1v1h-1zM230.16,626.3h1v1h-1zM193.4,629.33h1v1h-1zM197.4,629.2h1v1h-1zM201.55,629.7h1v1h-1zM205.38,628.97h1v1h-1zM208.92,629.2h1v1h-1zM213.21,628.97h1v1h-1zM216.58,629.15h1v1h-1zM220.68,628.86h1v1h-1zM224.84,629.75h1v1h-1zM228.73,629.57h1v1h-1zM232.93,629.67h1v1h-1zM191.24,632.45h1v1h-1zM195.52,633.08h1v1h-1zM199.49,632.51h1v1h-1zM203.83,632.88h1v1h-1zM207.28,632.42h1v1h-1zM210.95,633.12h1v1h-1zM214.68,632.75h1v1h-1zM219.07,632.58h1v1h-1zM223.12,633.13h1v1h-1zM227.11,632.96h1v1h-1zM230.35,632.28h1v1h-1zM234.48,632.53h1v1h-1zM189.55,636.61h1v1h-1zM193.58,635.79h1v1h-1zM197.72,635.95h1v1h-1zM201.63,636.2h1v1h-1zM204.91,636.14h1v1h-1zM209.55,636.09h1v1h-1zM213.14,636.48h1v1h-1zM216.95,636.11h1v1h-1zM220.98,636.44h1v1h-1zM224.5,635.71h1v1h-1zM228.96,636.17h1v1h-1zM232.4,636.51h1v1h-1zM236.88,636.16h1v1h-1zM187.82,639.52h1v1h-1zM191.35,639.23h1v1h-1zM196.04,639.8h1v1h-1zM199.68,639.91h1v1h-1zM202.95,639.71h1v1h-1zM207.5,639.23h1v1h-1zM211.11,639.98h1v1h-1zM214.88,639.77h1v1h-1zM218.62,639.67h1v1h-1zM222.62,639.52h1v1h-1zM226.62,639.88h1v1h-1zM230.89,639.51h1v1h-1zM234.74,639.43h1v1h-1zM238.75,639.26h1v1h-1zM190.17,642.5h1v1h-1zM193.9,642.79h1v1h-1zM197.81,642.85h1v1h-1zM201.57,642.73h1v1h-1zM205.02,642.85h1v1h-1zM209.5,642.75h1v1h-1zM212.83,642.82h1v1h-1zM216.6,642.72h1v1h-1zM220.97,642.95h1v1h-1zM224.9,642.69h1v1h-1zM228.22,642.43h1v1h-1zM232.44,642.6h1v1h-1zM236.57,642.67h1v1h-1zM187.99,646.32h1v1h-1zM191.92,646.3h1v1h-1zM195.68,645.88h1v1h-1zM199.62,646.31h1v1h-1zM203.81,645.8h1v1h-1zM206.82,646.47h1v1h-1zM211.58,646.21h1v1h-1zM215.26,646.35h1v1h-1zM218.84,646.26h1v1h-1zM222.95,645.82h1v1h-1zM226.56,646.53h1v1h-1zM230.41,646.27h1v1h-1zM234.31,646.15h1v1h-1zM238.6,646.54h1v1h-1zM190.1,649.31h1v1h-1zM193.69,650.13h1v1h-1zM197.29,650.04h1v1h-1zM201.81,649.62h1v1h-1zM204.95,649.4h1v1h-1zM209.53,649.61h1v1h-1zM212.92,649.63h1v1h-1zM217.43,649.44h1v1h-1zM220.42,650.14h1v1h-1zM224.62,649.57h1v1h-1zM229.18,649.47h1v1h-1zM232.19,650.07h1v1h-1zM236.24,649.41h1v1h-1zM191.26,652.9h1v1h-1zM195.59,652.99h1v1h-1zM199.28,652.87h1v1h-1zM203.34,653.36h1v1h-1zM207.19,653.35h1v1h-1zM211.13,652.7h1v1h-1zM214.72,653.43h1v1h-1zM218.93,652.96h1v1h-1zM222.87,653.43h1v1h-1zM226.63,652.94h1v1h-1zM230.52,652.59h1v1h-1zM234.59,653.06h1v1h-1zM190.17,656.19h1v1h-1zM193.69,656.1h1v1h-1zM197.85,656.42h1v1h-1zM201.42,656.64h1v1h-1zM204.94,656.7h1v1h-1zM209.5,656.83h1v1h-1zM212.88,656.21h1v1h-1zM216.66,656.87h1v1h-1zM220.84,656.36h1v1h-1zM224.82,656.67h1v1h-1zM228.52,656.31h1v1h-1zM232.87,656.75h1v1h-1zM236.3,656.05h1v1h-1zM195.34,659.99h1v1h-1zM199.53,659.86h1v1h-1zM203.71,659.88h1v1h-1zM207.09,659.43h1v1h-1zM211.2,659.73h1v1h-1zM215.09,659.71h1v1h-1zM218.46,659.4h1v1h-1zM222.51,659.46h1v1h-1zM227.1,659.95h1v1h-1zM230.39,660.08h1v1h-1zM197.47,663.72h1v1h-1zM201.78,663.34h1v1h-1zM205.67,663.64h1v1h-1zM208.87,663.59h1v1h-1zM213.43,663.75h1v1h-1zM217.26,663.15h1v1h-1zM220.61,663.41h1v1h-1zM224.51,663.52h1v1h-1zM228.77,663.58h1v1h-1zM203.27,667.04h1v1h-1zM207.37,666.47h1v1h-1zM211.46,666.51h1v1h-1zM215.45,666.55h1v1h-1zM218.53,667.12h1v1h-1zM222.42,666.4h1v1h-1z" fill="#cf8f72" fill-opacity="0.85"/>
<circle cx="307.9" cy="644.1" r="29.5" fill="url(#cdg)"/><g fill="#fffaf7" stroke="#e9a285" stroke-width="0.5" stroke-opacity="0.8"><circle cx="299.7" cy="616.65" r="2.0" opacity="0.15"/><circle cx="303.66" cy="616.55" r="2.0" opacity="0.17"/><circle cx="307.55" cy="617.07" r="2.0" opacity="0.3"/><circle cx="311.4" cy="617.21" r="2.0" opacity="0.29"/><circle cx="315.94" cy="617.27" r="2.0" opacity="0.15"/><circle cx="294.52" cy="620.21" r="2.0" opacity="0.25"/><circle cx="297.67" cy="620.1" r="2.0" opacity="0.45"/><circle cx="302.01" cy="620.23" r="2.0" opacity="0.68"/><circle cx="305.97" cy="619.9" r="2.0" opacity="0.73"/><circle cx="309.57" cy="620.82" r="2.0" opacity="0.87"/><circle cx="313.69" cy="620.32" r="2.0" opacity="0.7"/><circle cx="317.24" cy="620.13" r="2.0" opacity="0.5"/><circle cx="322" cy="620.54" r="2.0" opacity="0.24"/><circle cx="288.87" cy="623.94" r="2.0" opacity="0.2"/><circle cx="291.89" cy="623.35" r="2.0" opacity="0.43"/><circle cx="296.34" cy="623.62" r="2.0" opacity="0.84"/><circle cx="299.97" cy="623.72" r="2.0" opacity="1"/><circle cx="304.08" cy="624.21" r="2.0" opacity="1"/><circle cx="307.64" cy="623.81" r="2.0" opacity="1"/><circle cx="311.56" cy="623.79" r="2.0" opacity="1"/><circle cx="315.93" cy="623.38" r="2.0" opacity="1"/><circle cx="319.58" cy="623.95" r="2.0" opacity="0.88"/><circle cx="323.01" cy="624.01" r="2.0" opacity="0.59"/><circle cx="327.32" cy="623.75" r="2.0" opacity="0.15"/><circle cx="286.2" cy="626.9" r="2.0" opacity="0.2"/><circle cx="290.73" cy="627.07" r="2.0" opacity="0.74"/><circle cx="294.65" cy="626.81" r="2.0" opacity="1"/><circle cx="297.79" cy="626.69" r="2.0" opacity="1"/><circle cx="302.29" cy="627.2" r="2.0" opacity="1"/><circle cx="305.46" cy="626.68" r="2.0" opacity="1"/><circle cx="310.17" cy="627.13" r="2.0" opacity="1"/><circle cx="314.12" cy="626.67" r="2.0" opacity="1"/><circle cx="317.74" cy="626.75" r="2.0" opacity="1"/><circle cx="321.77" cy="627.25" r="2.0" opacity="1"/><circle cx="325.56" cy="626.86" r="2.0" opacity="0.66"/><circle cx="329.8" cy="626.75" r="2.0" opacity="0.16"/><circle cx="284.26" cy="630.39" r="2.0" opacity="0.26"/><circle cx="288.79" cy="630.29" r="2.0" opacity="0.83"/><circle cx="292.43" cy="630.67" r="2.0" opacity="1"/><circle cx="296.66" cy="630.14" r="2.0" opacity="1"/><circle cx="300.37" cy="630.36" r="2.0" opacity="1"/><circle cx="303.6" cy="630.66" r="2.0" opacity="1"/><circle cx="308.24" cy="630.61" r="2.0" opacity="1"/><circle cx="311.35" cy="631" r="2.0" opacity="1"/><circle cx="315.58" cy="630.66" r="2.0" opacity="1"/><circle cx="319.82" cy="630.29" r="2.0" opacity="1"/><circle cx="323.41" cy="630.36" r="2.0" opacity="1"/><circle cx="327" cy="630.09" r="2.0" opacity="0.82"/><circle cx="331.52" cy="630.44" r="2.0" opacity="0.26"/><circle cx="282.62" cy="633.92" r="2.0" opacity="0.27"/><circle cx="286.23" cy="634.17" r="2.0" opacity="0.79"/><circle cx="290.11" cy="633.89" r="2.0" opacity="1"/><circle cx="294.51" cy="634.03" r="2.0" opacity="1"/><circle cx="297.78" cy="633.62" r="2.0" opacity="1"/><circle cx="313.34" cy="633.87" r="2.0" opacity="1"/><circle cx="317.77" cy="634.28" r="2.0" opacity="1"/><circle cx="321.21" cy="634.12" r="2.0" opacity="1"/><circle cx="325.06" cy="634" r="2.0" opacity="1"/><circle cx="329.1" cy="633.78" r="2.0" opacity="0.83"/><circle cx="332.8" cy="634.14" r="2.0" opacity="0.34"/><circle cx="280.34" cy="637.64" r="2.0" opacity="0.15"/><circle cx="284.65" cy="637.2" r="2.0" opacity="0.73"/><circle cx="288.54" cy="637.04" r="2.0" opacity="1"/><circle cx="292.07" cy="636.82" r="2.0" opacity="1"/><circle cx="296.36" cy="637.4" r="2.0" opacity="1"/><circle cx="319.16" cy="637.07" r="2.0" opacity="1"/><circle cx="323.84" cy="636.96" r="2.0" opacity="1"/><circle cx="326.96" cy="636.83" r="2.0" opacity="1"/><circle cx="331.57" cy="636.92" r="2.0" opacity="0.66"/><circle cx="335.16" cy="637.25" r="2.0" opacity="0.15"/><circle cx="282.84" cy="640.62" r="2.0" opacity="0.57"/><circle cx="286.61" cy="640.87" r="2.0" opacity="1"/><circle cx="290.73" cy="640.92" r="2.0" opacity="1"/><circle cx="294.19" cy="640.4" r="2.0" opacity="1"/><circle cx="321.34" cy="640.21" r="2.0" opacity="1"/><circle cx="325.1" cy="640.63" r="2.0" opacity="1"/><circle cx="328.95" cy="640.21" r="2.0" opacity="1"/><circle cx="333.3" cy="641.16" r="2.0" opacity="0.53"/><circle cx="280.38" cy="644.05" r="2.0" opacity="0.23"/><circle cx="284.07" cy="644.27" r="2.0" opacity="0.8"/><circle cx="288.14" cy="643.89" r="2.0" opacity="1"/><circle cx="291.89" cy="643.9" r="2.0" opacity="1"/><circle cx="319.43" cy="644.29" r="2.0" opacity="1"/><circle cx="323.45" cy="644.47" r="2.0" opacity="1"/><circle cx="326.96" cy="643.83" r="2.0" opacity="1"/><circle cx="331.09" cy="643.86" r="2.0" opacity="0.89"/><circle cx="335.52" cy="644.1" r="2.0" opacity="0.21"/><circle cx="282.42" cy="647.78" r="2.0" opacity="0.5"/><circle cx="286.89" cy="647.93" r="2.0" opacity="1"/><circle cx="290.24" cy="647.85" r="2.0" opacity="1"/><circle cx="294.75" cy="647.12" r="2.0" opacity="1"/><circle cx="321.5" cy="647.28" r="2.0" opacity="1"/><circle cx="324.99" cy="647.81" r="2.0" opacity="1"/><circle cx="329.51" cy="647.24" r="2.0" opacity="1"/><circle cx="333.25" cy="647.57" r="2.0" opacity="0.53"/><circle cx="280.48" cy="650.96" r="2.0" opacity="0.15"/><circle cx="284.28" cy="650.42" r="2.0" opacity="0.7"/><circle cx="288.16" cy="650.84" r="2.0" opacity="1"/><circle cx="291.92" cy="650.47" r="2.0" opacity="1"/><circle cx="295.95" cy="650.75" r="2.0" opacity="1"/><circle cx="319.89" cy="650.68" r="2.0" opacity="1"/><circle cx="323.15" cy="650.39" r="2.0" opacity="1"/><circle cx="327.48" cy="650.61" r="2.0" opacity="1"/><circle cx="330.81" cy="650.69" r="2.0" opacity="0.79"/><circle cx="334.93" cy="650.59" r="2.0" opacity="0.19"/><circle cx="282.21" cy="654.18" r="2.0" opacity="0.22"/><circle cx="286.86" cy="653.86" r="2.0" opacity="0.89"/><circle cx="290.2" cy="654.47" r="2.0" opacity="1"/><circle cx="294.37" cy="653.8" r="2.0" opacity="1"/><circle cx="297.88" cy="654.06" r="2.0" opacity="1"/><circle cx="302.44" cy="654.22" r="2.0" opacity="1"/><circle cx="313.92" cy="654.5" r="2.0" opacity="1"/><circle cx="317.63" cy="654.32" r="2.0" opacity="1"/><circle cx="321.82" cy="654.74" r="2.0" opacity="1"/><circle cx="325.56" cy="653.82" r="2.0" opacity="1"/><circle cx="329.36" cy="654.44" r="2.0" opacity="0.8"/><circle cx="333.08" cy="654.46" r="2.0" opacity="0.27"/><circle cx="284.64" cy="658.04" r="2.0" opacity="0.29"/><circle cx="288.61" cy="658.14" r="2.0" opacity="0.79"/><circle cx="292.29" cy="657.67" r="2.0" opacity="1"/><circle cx="296.36" cy="657.73" r="2.0" opacity="1"/><circle cx="299.65" cy="658.13" r="2.0" opacity="1"/><circle cx="303.82" cy="657.67" r="2.0" opacity="1"/><circle cx="307.44" cy="657.36" r="2.0" opacity="1"/><circle cx="312.23" cy="657.45" r="2.0" opacity="1"/><circle cx="315.5" cy="657.98" r="2.0" opacity="1"/><circle cx="319.34" cy="657.84" r="2.0" opacity="1"/><circle cx="323.57" cy="658.07" r="2.0" opacity="1"/><circle cx="327.38" cy="657.5" r="2.0" opacity="0.82"/><circle cx="331.06" cy="657.54" r="2.0" opacity="0.34"/><circle cx="286.26" cy="661.34" r="2.0" opacity="0.2"/><circle cx="290.09" cy="660.99" r="2.0" opacity="0.69"/><circle cx="293.85" cy="660.8" r="2.0" opacity="1"/><circle cx="298.65" cy="661.19" r="2.0" opacity="1"/><circle cx="302.07" cy="661.24" r="2.0" opacity="1"/><circle cx="306.12" cy="661.09" r="2.0" opacity="1"/><circle cx="309.72" cy="660.71" r="2.0" opacity="1"/><circle cx="313.28" cy="660.69" r="2.0" opacity="1"/><circle cx="317.56" cy="660.58" r="2.0" opacity="1"/><circle cx="321.72" cy="660.9" r="2.0" opacity="1"/><circle cx="325.18" cy="660.88" r="2.0" opacity="0.76"/><circle cx="329.34" cy="660.77" r="2.0" opacity="0.28"/><circle cx="288.85" cy="664.55" r="2.0" opacity="0.16"/><circle cx="292.55" cy="664.89" r="2.0" opacity="0.49"/><circle cx="295.73" cy="664.84" r="2.0" opacity="0.76"/><circle cx="299.7" cy="664.15" r="2.0" opacity="1"/><circle cx="304.24" cy="664.71" r="2.0" opacity="1"/><circle cx="308.01" cy="664.43" r="2.0" opacity="1"/><circle cx="312.02" cy="664.39" r="2.0" opacity="1"/><circle cx="315.39" cy="664.18" r="2.0" opacity="1"/><circle cx="319.21" cy="663.99" r="2.0" opacity="0.94"/><circle cx="323.95" cy="664.91" r="2.0" opacity="0.42"/><circle cx="327.25" cy="664.37" r="2.0" opacity="0.15"/><circle cx="294.49" cy="667.67" r="2.0" opacity="0.29"/><circle cx="297.92" cy="667.68" r="2.0" opacity="0.52"/><circle cx="302.53" cy="668.01" r="2.0" opacity="0.69"/><circle cx="305.92" cy="667.91" r="2.0" opacity="0.79"/><circle cx="310.01" cy="667.61" r="2.0" opacity="0.83"/><circle cx="313.33" cy="667.46" r="2.0" opacity="0.77"/><circle cx="317.73" cy="667.95" r="2.0" opacity="0.49"/><circle cx="322.03" cy="667.97" r="2.0" opacity="0.19"/><circle cx="300.28" cy="671.17" r="2.0" opacity="0.15"/><circle cx="304.39" cy="670.77" r="2.0" opacity="0.32"/><circle cx="307.94" cy="671.6" r="2.0" opacity="0.23"/><circle cx="312.18" cy="670.94" r="2.0" opacity="0.28"/><circle cx="316.01" cy="671.28" r="2.0" opacity="0.15"/></g><path d="M297.17,619.6h1v1h-1zM301.51,619.73h1v1h-1zM305.47,619.4h1v1h-1zM309.07,620.32h1v1h-1zM313.19,619.82h1v1h-1zM316.74,619.63h1v1h-1zM291.39,622.85h1v1h-1zM295.84,623.12h1v1h-1zM299.47,623.22h1v1h-1zM303.58,623.71h1v1h-1zM307.14,623.31h1v1h-1zM311.06,623.29h1v1h-1zM315.43,622.88h1v1h-1zM319.08,623.45h1v1h-1zM322.51,623.51h1v1h-1zM290.23,626.57h1v1h-1zM294.15,626.31h1v1h-1zM297.29,626.19h1v1h-1zM301.79,626.7h1v1h-1zM304.96,626.18h1v1h-1zM309.67,626.63h1v1h-1zM313.62,626.17h1v1h-1zM317.24,626.25h1v1h-1zM321.27,626.75h1v1h-1zM325.06,626.36h1v1h-1zM288.29,629.79h1v1h-1zM291.93,630.17h1v1h-1zM296.16,629.64h1v1h-1zM299.87,629.86h1v1h-1zM303.1,630.16h1v1h-1zM307.74,630.11h1v1h-1zM310.85,630.5h1v1h-1zM315.08,630.16h1v1h-1zM319.32,629.79h1v1h-1zM322.91,629.86h1v1h-1zM326.5,629.59h1v1h-1zM285.73,633.67h1v1h-1zM289.61,633.39h1v1h-1zM294.01,633.53h1v1h-1zM297.28,633.12h1v1h-1zM312.84,633.37h1v1h-1zM317.27,633.78h1v1h-1zM320.71,633.62h1v1h-1zM324.56,633.5h1v1h-1zM328.6,633.28h1v1h-1zM284.15,636.7h1v1h-1zM288.04,636.54h1v1h-1zM291.57,636.32h1v1h-1zM295.86,636.9h1v1h-1zM318.66,636.57h1v1h-1zM323.34,636.46h1v1h-1zM326.46,636.33h1v1h-1zM331.07,636.42h1v1h-1zM282.34,640.12h1v1h-1zM286.11,640.37h1v1h-1zM290.23,640.42h1v1h-1zM293.69,639.9h1v1h-1zM320.84,639.71h1v1h-1zM324.6,640.13h1v1h-1zM328.45,639.71h1v1h-1zM332.8,640.66h1v1h-1zM283.57,643.77h1v1h-1zM287.64,643.39h1v1h-1zM291.39,643.4h1v1h-1zM318.93,643.79h1v1h-1zM322.95,643.97h1v1h-1zM326.46,643.33h1v1h-1zM330.59,643.36h1v1h-1zM281.92,647.28h1v1h-1zM286.39,647.43h1v1h-1zM289.74,647.35h1v1h-1zM294.25,646.62h1v1h-1zM321,646.78h1v1h-1zM324.49,647.31h1v1h-1zM329.01,646.74h1v1h-1zM332.75,647.07h1v1h-1zM283.78,649.92h1v1h-1zM287.66,650.34h1v1h-1zM291.42,649.97h1v1h-1zM295.45,650.25h1v1h-1zM319.39,650.18h1v1h-1zM322.65,649.89h1v1h-1zM326.98,650.11h1v1h-1zM330.31,650.19h1v1h-1zM286.36,653.36h1v1h-1zM289.7,653.97h1v1h-1zM293.87,653.3h1v1h-1zM297.38,653.56h1v1h-1zM301.94,653.72h1v1h-1zM313.42,654h1v1h-1zM317.13,653.82h1v1h-1zM321.32,654.24h1v1h-1zM325.06,653.32h1v1h-1zM328.86,653.94h1v1h-1zM288.11,657.64h1v1h-1zM291.79,657.17h1v1h-1zM295.86,657.23h1v1h-1zM299.15,657.63h1v1h-1zM303.32,657.17h1v1h-1zM306.94,656.86h1v1h-1zM311.73,656.95h1v1h-1zM315,657.48h1v1h-1zM318.84,657.34h1v1h-1zM323.07,657.57h1v1h-1zM326.88,657h1v1h-1zM289.59,660.49h1v1h-1zM293.35,660.3h1v1h-1zM298.15,660.69h1v1h-1zM301.57,660.74h1v1h-1zM305.62,660.59h1v1h-1zM309.22,660.21h1v1h-1zM312.78,660.19h1v1h-1zM317.06,660.08h1v1h-1zM321.22,660.4h1v1h-1zM324.68,660.38h1v1h-1zM292.05,664.39h1v1h-1zM295.23,664.34h1v1h-1zM299.2,663.65h1v1h-1zM303.74,664.21h1v1h-1zM307.51,663.93h1v1h-1zM311.52,663.89h1v1h-1zM314.89,663.68h1v1h-1zM318.71,663.49h1v1h-1zM323.45,664.41h1v1h-1zM297.42,667.18h1v1h-1zM302.03,667.51h1v1h-1zM305.42,667.41h1v1h-1zM309.51,667.11h1v1h-1zM312.83,666.96h1v1h-1zM317.23,667.45h1v1h-1z" fill="#cf8f72" fill-opacity="0.85"/><polygon points="317.9,644.1 318.21,645.18 318.17,646.28 317.69,647.28 316.94,648.13 316.19,648.88 315.61,649.7 315.18,650.66 314.73,651.68 314.06,652.57 313.12,653.14 312.01,653.33 310.9,653.33 309.88,653.4 308.91,653.68 307.9,654.1 306.82,654.41 305.72,654.37 304.72,653.89 303.87,653.14 303.12,652.39 302.3,651.81 301.34,651.38 300.32,650.93 299.43,650.26 298.86,649.32 298.67,648.21 298.67,647.1 298.6,646.08 298.32,645.11 297.9,644.1 297.59,643.02 297.63,641.92 298.11,640.92 298.86,640.07 299.61,639.32 300.19,638.5 300.62,637.54 301.07,636.52 301.74,635.63 302.68,635.06 303.79,634.87 304.9,634.87 305.92,634.8 306.89,634.52 307.9,634.1 308.98,633.79 310.08,633.83 311.08,634.31 311.93,635.06 312.68,635.81 313.5,636.39 314.46,636.82 315.48,637.27 316.37,637.94 316.94,638.88 317.13,639.99 317.13,641.1 317.2,642.12 317.48,643.09" fill="#e6f6fb" stroke="#f0c0ae" stroke-width="0.6"/>
<g transform="translate(90,519.3) scale(0.54)"><defs>
<linearGradient id="bcg" gradientUnits="userSpaceOnUse" x1="166" y1="0" x2="291" y2="0"><stop offset="0" stop-color="#c8e8ef"/><stop offset="0.14" stop-color="#dbeff4"/><stop offset="0.32" stop-color="#eef2f9"/><stop offset="0.46" stop-color="#edf4f9"/><stop offset="0.6" stop-color="#c6e6e7"/><stop offset="0.82" stop-color="#a2d7d3"/><stop offset="1" stop-color="#bce3e1"/></linearGradient>
<linearGradient id="bcf" gradientUnits="userSpaceOnUse" x1="0" y1="28" x2="0" y2="58"><stop offset="0" stop-color="#fdf7e4" stop-opacity="1"/><stop offset="0.25" stop-color="#fdf7e4" stop-opacity="0.7"/><stop offset="1" stop-color="#fdf7e4" stop-opacity="0"/></linearGradient>
<radialGradient id="bgl" cx="0.5" cy="0.5" r="0.5"><stop offset="0" stop-color="#c2d3f2"/><stop offset="0.7" stop-color="#c9d8f3"/><stop offset="0.88" stop-color="#dce6f7"/><stop offset="1" stop-color="#fdf7e4" stop-opacity="0"/></radialGradient>
<radialGradient id="bgt" cx="0.5" cy="0.5" r="0.5"><stop offset="0" stop-color="#eef3fb" stop-opacity="0.9"/><stop offset="0.75" stop-color="#e6edf9" stop-opacity="0.75"/><stop offset="1" stop-color="#e6edf9" stop-opacity="0"/></radialGradient>
<linearGradient id="btg" gradientUnits="userSpaceOnUse" x1="219" y1="0" x2="237.7" y2="0"><stop offset="0" stop-color="#a3c0e9"/><stop offset="0.45" stop-color="#cadcf4"/><stop offset="1" stop-color="#a5c2ea"/></linearGradient>
</defs>
<ellipse cx="228.4" cy="126.5" rx="62" ry="27" fill="url(#bgl)"/>
<ellipse cx="228.4" cy="117" rx="57" ry="16.5" fill="url(#bgt)"/>
<path d="M166.6,31 L291.3,31 L266.7,115.8 A38.25,17.2 0 0 1 190.2,115.8 Z" fill="url(#bcg)" opacity="0.88"/>
<path d="M190.2,115.8 A38.25,17.2 0 0 1 266.7,115.8 A38.25,17.2 0 0 1 190.2,115.8Z" fill="#e2f0f6" opacity="0.5"/>
<rect x="163" y="26" width="132" height="32" fill="url(#bcf)"/>
<line x1="166.6" y1="31" x2="190.2" y2="115.8" stroke="#8cc2d4" stroke-width="0.5"/>
<line x1="291.3" y1="31" x2="266.7" y2="115.8" stroke="#8cc2d4" stroke-width="0.5"/>
<line x1="210.3" y1="31" x2="219.3" y2="60" stroke="#a8d0dc" stroke-width="0.45"/>
<line x1="246.4" y1="31" x2="237.4" y2="60" stroke="#a8d0dc" stroke-width="0.45"/>
<path d="M190.2,115.8 A38.25,17.2 0 0 1 266.7,115.8" fill="none" stroke="#7fa8d4" stroke-width="0.55" stroke-dasharray="2.2,1.4"/>
<path d="M190.2,115.8 A38.25,17.2 0 0 0 266.7,115.8" fill="none" stroke="#6f9cd0" stroke-width="0.6"/>
<line x1="190.6" y1="115.9" x2="197.82" y2="115.9" stroke="#9ab6dc" stroke-width="0.6"/>
<line x1="190.6" y1="118.2" x2="202.16" y2="118.2" stroke="#9ab6dc" stroke-width="0.6"/>
<line x1="190.6" y1="120.5" x2="203.6" y2="120.5" stroke="#9ab6dc" stroke-width="0.6"/>
<line x1="190.6" y1="122.8" x2="202.16" y2="122.8" stroke="#9ab6dc" stroke-width="0.6"/>
<line x1="190.6" y1="125.1" x2="197.82" y2="125.1" stroke="#9ab6dc" stroke-width="0.6"/>
<path d="M190.6,113.6 Q216.6,120.5 190.6,127.4" fill="none" stroke="#86a8d6" stroke-width="0.5"/>
<line x1="266.3" y1="115.9" x2="259.08" y2="115.9" stroke="#9ab6dc" stroke-width="0.6"/>
<line x1="266.3" y1="118.2" x2="254.74" y2="118.2" stroke="#9ab6dc" stroke-width="0.6"/>
<line x1="266.3" y1="120.5" x2="253.3" y2="120.5" stroke="#9ab6dc" stroke-width="0.6"/>
<line x1="266.3" y1="122.8" x2="254.74" y2="122.8" stroke="#9ab6dc" stroke-width="0.6"/>
<line x1="266.3" y1="125.1" x2="259.08" y2="125.1" stroke="#9ab6dc" stroke-width="0.6"/>
<path d="M266.3,113.6 Q240.3,120.5 266.3,127.4" fill="none" stroke="#86a8d6" stroke-width="0.5"/>
<line x1="182" y1="126" x2="198" y2="126" stroke="#a8bedf" stroke-width="0.4" stroke-dasharray="1.5,1.2"/>
<line x1="259" y1="126" x2="275" y2="126" stroke="#a8bedf" stroke-width="0.4" stroke-dasharray="1.5,1.2"/>
<g fill="#f3efec" stroke="#dcc8c0" stroke-width="0.5" opacity="0.5"><circle cx="202.66" cy="120.2" r="1.7"/><circle cx="250.23" cy="112.46" r="1.7"/><circle cx="200.84" cy="116.45" r="1.7"/><circle cx="238.68" cy="126.51" r="1.7"/><circle cx="206.44" cy="107.59" r="1.7"/><circle cx="244.86" cy="121.45" r="1.7"/><circle cx="255.68" cy="124.04" r="1.7"/><circle cx="225.84" cy="114.22" r="1.7"/><circle cx="263.54" cy="115.41" r="1.7"/><circle cx="212.37" cy="107.63" r="1.7"/><circle cx="230.82" cy="118.48" r="1.7"/><circle cx="219.75" cy="116.37" r="1.7"/><circle cx="234.9" cy="123.63" r="1.7"/><circle cx="252.48" cy="118.86" r="1.7"/><circle cx="197.64" cy="121.86" r="1.7"/><circle cx="199.8" cy="115.61" r="1.7"/><circle cx="199.1" cy="117.02" r="1.7"/><circle cx="210.09" cy="119.03" r="1.7"/><circle cx="264.32" cy="116.79" r="1.7"/><circle cx="244.66" cy="106.71" r="1.7"/><circle cx="221.52" cy="123.37" r="1.7"/><circle cx="226.08" cy="120.73" r="1.7"/><circle cx="230.73" cy="107.87" r="1.7"/><circle cx="241.16" cy="109.59" r="1.7"/><circle cx="260.39" cy="113.52" r="1.7"/><circle cx="244.89" cy="117.02" r="1.7"/><circle cx="249.26" cy="111.69" r="1.7"/><circle cx="250.92" cy="115.87" r="1.7"/><circle cx="254.01" cy="122.1" r="1.7"/><circle cx="231.73" cy="109.59" r="1.7"/><circle cx="246.13" cy="121.35" r="1.7"/><circle cx="258.95" cy="114.17" r="1.7"/><circle cx="241.58" cy="121.86" r="1.7"/><circle cx="235.49" cy="119.1" r="1.7"/><circle cx="232.82" cy="111.15" r="1.7"/><circle cx="205.97" cy="113.47" r="1.7"/><circle cx="239.61" cy="128.55" r="1.7"/><circle cx="248.04" cy="125.53" r="1.7"/><circle cx="245.77" cy="123.29" r="1.7"/><circle cx="232.72" cy="124.33" r="1.7"/><circle cx="260.13" cy="114.64" r="1.7"/><circle cx="217.1" cy="129.86" r="1.7"/><circle cx="233.92" cy="125.83" r="1.7"/><circle cx="245.99" cy="107.79" r="1.7"/><circle cx="257.32" cy="125.5" r="1.7"/><circle cx="232.59" cy="124.17" r="1.7"/><circle cx="231.33" cy="108.77" r="1.7"/><circle cx="225.6" cy="120.76" r="1.7"/><circle cx="251.59" cy="122.94" r="1.7"/><circle cx="229.63" cy="128.23" r="1.7"/><circle cx="211.62" cy="124.04" r="1.7"/><circle cx="252.62" cy="114.44" r="1.7"/><circle cx="198.5" cy="110.9" r="1.7"/><circle cx="234.19" cy="122.19" r="1.7"/><circle cx="255.71" cy="109.86" r="1.7"/><circle cx="228.45" cy="123.32" r="1.7"/><circle cx="226.08" cy="102.97" r="1.7"/><circle cx="239.96" cy="130.35" r="1.7"/><circle cx="249.05" cy="109.4" r="1.7"/><circle cx="218.18" cy="119.21" r="1.7"/><circle cx="262.68" cy="120.43" r="1.7"/><circle cx="230.6" cy="129.14" r="1.7"/><circle cx="226.97" cy="130.15" r="1.7"/><circle cx="212.37" cy="112.53" r="1.7"/><circle cx="242.2" cy="127.98" r="1.7"/><circle cx="244.02" cy="119.9" r="1.7"/><circle cx="197.45" cy="112.12" r="1.7"/><circle cx="214.05" cy="111.95" r="1.7"/><circle cx="242.52" cy="113.75" r="1.7"/><circle cx="246.98" cy="117.78" r="1.7"/><circle cx="220.06" cy="118.19" r="1.7"/><circle cx="238.17" cy="124.88" r="1.7"/><circle cx="216.66" cy="114.7" r="1.7"/><circle cx="206.39" cy="127.43" r="1.7"/><circle cx="257.36" cy="115.56" r="1.7"/><circle cx="218.47" cy="106.66" r="1.7"/><circle cx="232.69" cy="119.1" r="1.7"/><circle cx="262.53" cy="118.55" r="1.7"/><circle cx="217.69" cy="103.44" r="1.7"/><circle cx="256.86" cy="118.54" r="1.7"/><circle cx="197.82" cy="118.38" r="1.7"/><circle cx="213.3" cy="130.16" r="1.7"/><circle cx="252.08" cy="121.88" r="1.7"/><circle cx="225.61" cy="103.29" r="1.7"/><circle cx="225.95" cy="104.88" r="1.7"/><circle cx="237.65" cy="103.64" r="1.7"/><circle cx="210.61" cy="126.63" r="1.7"/><circle cx="255.69" cy="109.1" r="1.7"/><circle cx="200.63" cy="123.41" r="1.7"/><circle cx="246.22" cy="108.7" r="1.7"/><circle cx="212.66" cy="110.66" r="1.7"/><circle cx="204.02" cy="111.38" r="1.7"/><circle cx="253.61" cy="122.6" r="1.7"/><circle cx="262.14" cy="116.43" r="1.7"/><circle cx="225.34" cy="108.05" r="1.7"/><circle cx="225.82" cy="106" r="1.7"/><circle cx="197.71" cy="121.85" r="1.7"/><circle cx="255.36" cy="123.31" r="1.7"/><circle cx="255.83" cy="119.09" r="1.7"/><circle cx="211.25" cy="117.83" r="1.7"/><circle cx="220.3" cy="107.31" r="1.7"/><circle cx="202.42" cy="107.83" r="1.7"/><circle cx="228.26" cy="118.54" r="1.7"/><circle cx="219.06" cy="128.33" r="1.7"/><circle cx="232.75" cy="122.71" r="1.7"/><circle cx="252.66" cy="110.42" r="1.7"/><circle cx="196.64" cy="121.89" r="1.7"/><circle cx="214.74" cy="127.48" r="1.7"/><circle cx="235.91" cy="126.02" r="1.7"/><circle cx="240.26" cy="103.98" r="1.7"/><circle cx="244.7" cy="110.86" r="1.7"/><circle cx="210.85" cy="112.93" r="1.7"/><circle cx="245.03" cy="124.71" r="1.7"/><circle cx="245.66" cy="105.59" r="1.7"/><circle cx="219.93" cy="103.28" r="1.7"/><circle cx="225.92" cy="122.88" r="1.7"/><circle cx="210.42" cy="119.32" r="1.7"/><circle cx="233.58" cy="126.09" r="1.7"/><circle cx="210.59" cy="109.76" r="1.7"/><circle cx="215.23" cy="129.18" r="1.7"/><circle cx="252.46" cy="115.9" r="1.7"/><circle cx="234.1" cy="118.16" r="1.7"/><circle cx="233.51" cy="114.88" r="1.7"/><circle cx="221.41" cy="106.42" r="1.7"/><circle cx="216.79" cy="129.02" r="1.7"/><circle cx="241.57" cy="117.64" r="1.7"/><circle cx="222.97" cy="117.64" r="1.7"/><circle cx="236.82" cy="110.8" r="1.7"/><circle cx="233.34" cy="119.43" r="1.7"/><circle cx="211.84" cy="109.97" r="1.7"/><circle cx="208.45" cy="108.45" r="1.7"/><circle cx="240.83" cy="103.72" r="1.7"/><circle cx="221.97" cy="111.07" r="1.7"/><circle cx="213.37" cy="117.95" r="1.7"/><circle cx="253.08" cy="117.67" r="1.7"/><circle cx="225" cy="111.02" r="1.7"/><circle cx="225.44" cy="125.44" r="1.7"/><circle cx="219.96" cy="107.11" r="1.7"/><circle cx="204.85" cy="108.69" r="1.7"/><circle cx="203.27" cy="125" r="1.7"/><circle cx="237.24" cy="114.62" r="1.7"/><circle cx="256.29" cy="111.94" r="1.7"/><circle cx="245.01" cy="124.11" r="1.7"/><circle cx="204.2" cy="107.19" r="1.7"/><circle cx="208.99" cy="124.64" r="1.7"/><circle cx="251.73" cy="108.1" r="1.7"/><circle cx="251.43" cy="113.61" r="1.7"/><circle cx="218.93" cy="111.66" r="1.7"/><circle cx="222.69" cy="104.09" r="1.7"/><circle cx="209.2" cy="107.46" r="1.7"/></g>
<rect x="219" y="61.6" width="18.7" height="50.1" fill="url(#btg)" opacity="0.92"/>

<path d="M219,61.6 L219,111.7 A9.35,3 0 0 0 237.7,111.7 L237.7,61.6" fill="none" stroke="#7aa6da" stroke-width="0.6"/>
<path d="M219,61.6 C219,49 224,40.8 228.35,40.8 C232.7,40.8 237.7,49 237.7,61.6 Z" fill="#d6e5f6" opacity="0.85" stroke="#86aedd" stroke-width="0.5"/>
<line x1="221.6" y1="50.14" x2="221.6" y2="61" stroke="#8aaedc" stroke-width="0.45"/>
<line x1="224.8" y1="44.11" x2="224.8" y2="61" stroke="#8aaedc" stroke-width="0.45"/>
<line x1="228.35" y1="41.8" x2="228.35" y2="61" stroke="#8aaedc" stroke-width="0.45"/>
<line x1="231.9" y1="44.11" x2="231.9" y2="61" stroke="#8aaedc" stroke-width="0.45"/>
<line x1="235.1" y1="50.14" x2="235.1" y2="61" stroke="#8aaedc" stroke-width="0.45"/>
<ellipse cx="228.35" cy="61.6" rx="9.35" ry="3" fill="#bcd3f0" fill-opacity="0.8" stroke="#749fd6" stroke-width="0.6"/>
<line x1="228.35" y1="42" x2="228.35" y2="128" stroke="#9ab6dc" stroke-width="0.45" stroke-dasharray="1.5,1.2"/></g>
<g transform="translate(184.6,519.3) scale(0.54)"><defs>
<linearGradient id="ccg" gradientUnits="userSpaceOnUse" x1="166" y1="0" x2="291" y2="0"><stop offset="0" stop-color="#c8e8ef"/><stop offset="0.14" stop-color="#dbeff4"/><stop offset="0.32" stop-color="#eef2f9"/><stop offset="0.46" stop-color="#edf4f9"/><stop offset="0.6" stop-color="#c6e6e7"/><stop offset="0.82" stop-color="#a2d7d3"/><stop offset="1" stop-color="#bce3e1"/></linearGradient>
<linearGradient id="ccf" gradientUnits="userSpaceOnUse" x1="0" y1="28" x2="0" y2="58"><stop offset="0" stop-color="#e6f6fb" stop-opacity="1"/><stop offset="0.25" stop-color="#e6f6fb" stop-opacity="0.7"/><stop offset="1" stop-color="#e6f6fb" stop-opacity="0"/></linearGradient>
<radialGradient id="cgl" cx="0.5" cy="0.5" r="0.5"><stop offset="0" stop-color="#c2d3f2"/><stop offset="0.7" stop-color="#c9d8f3"/><stop offset="0.88" stop-color="#dce6f7"/><stop offset="1" stop-color="#e6f6fb" stop-opacity="0"/></radialGradient>
<radialGradient id="cgt" cx="0.5" cy="0.5" r="0.5"><stop offset="0" stop-color="#eef3fb" stop-opacity="0.9"/><stop offset="0.75" stop-color="#e6edf9" stop-opacity="0.75"/><stop offset="1" stop-color="#e6edf9" stop-opacity="0"/></radialGradient>
<linearGradient id="ctg" gradientUnits="userSpaceOnUse" x1="219" y1="0" x2="237.7" y2="0"><stop offset="0" stop-color="#a3c0e9"/><stop offset="0.45" stop-color="#cadcf4"/><stop offset="1" stop-color="#a5c2ea"/></linearGradient>
</defs>
<ellipse cx="228.4" cy="126.5" rx="62" ry="27" fill="url(#cgl)"/>
<ellipse cx="228.4" cy="117" rx="57" ry="16.5" fill="url(#cgt)"/>
<path d="M166.6,31 L291.3,31 L266.7,115.8 A38.25,17.2 0 0 1 190.2,115.8 Z" fill="url(#ccg)" opacity="0.88"/>
<path d="M190.2,115.8 A38.25,17.2 0 0 1 266.7,115.8 A38.25,17.2 0 0 1 190.2,115.8Z" fill="#e2f0f6" opacity="0.5"/>
<rect x="163" y="26" width="132" height="32" fill="url(#ccf)"/>
<line x1="166.6" y1="31" x2="190.2" y2="115.8" stroke="#8cc2d4" stroke-width="0.5"/>
<line x1="291.3" y1="31" x2="266.7" y2="115.8" stroke="#8cc2d4" stroke-width="0.5"/>
<line x1="210.3" y1="31" x2="219.3" y2="60" stroke="#a8d0dc" stroke-width="0.45"/>
<line x1="246.4" y1="31" x2="237.4" y2="60" stroke="#a8d0dc" stroke-width="0.45"/>
<path d="M190.2,115.8 A38.25,17.2 0 0 1 266.7,115.8" fill="none" stroke="#7fa8d4" stroke-width="0.55" stroke-dasharray="2.2,1.4"/>
<path d="M190.2,115.8 A38.25,17.2 0 0 0 266.7,115.8" fill="none" stroke="#6f9cd0" stroke-width="0.6"/>
<line x1="190.6" y1="115.9" x2="197.82" y2="115.9" stroke="#9ab6dc" stroke-width="0.6"/>
<line x1="190.6" y1="118.2" x2="202.16" y2="118.2" stroke="#9ab6dc" stroke-width="0.6"/>
<line x1="190.6" y1="120.5" x2="203.6" y2="120.5" stroke="#9ab6dc" stroke-width="0.6"/>
<line x1="190.6" y1="122.8" x2="202.16" y2="122.8" stroke="#9ab6dc" stroke-width="0.6"/>
<line x1="190.6" y1="125.1" x2="197.82" y2="125.1" stroke="#9ab6dc" stroke-width="0.6"/>
<path d="M190.6,113.6 Q216.6,120.5 190.6,127.4" fill="none" stroke="#86a8d6" stroke-width="0.5"/>
<line x1="266.3" y1="115.9" x2="259.08" y2="115.9" stroke="#9ab6dc" stroke-width="0.6"/>
<line x1="266.3" y1="118.2" x2="254.74" y2="118.2" stroke="#9ab6dc" stroke-width="0.6"/>
<line x1="266.3" y1="120.5" x2="253.3" y2="120.5" stroke="#9ab6dc" stroke-width="0.6"/>
<line x1="266.3" y1="122.8" x2="254.74" y2="122.8" stroke="#9ab6dc" stroke-width="0.6"/>
<line x1="266.3" y1="125.1" x2="259.08" y2="125.1" stroke="#9ab6dc" stroke-width="0.6"/>
<path d="M266.3,113.6 Q240.3,120.5 266.3,127.4" fill="none" stroke="#86a8d6" stroke-width="0.5"/>
<line x1="182" y1="126" x2="198" y2="126" stroke="#a8bedf" stroke-width="0.4" stroke-dasharray="1.5,1.2"/>
<line x1="259" y1="126" x2="275" y2="126" stroke="#a8bedf" stroke-width="0.4" stroke-dasharray="1.5,1.2"/>
<g fill="#f8e6de" stroke="#ebb8a6" stroke-width="0.55" opacity="0.7"><circle cx="238.23" cy="138.12" r="2"/><circle cx="271.85" cy="118.81" r="2"/><circle cx="187.65" cy="117.06" r="2"/><circle cx="209.95" cy="136.93" r="2"/><circle cx="261.43" cy="128.74" r="2"/><circle cx="195.49" cy="122.06" r="2"/><circle cx="207.1" cy="135.74" r="2"/><circle cx="250.34" cy="131.92" r="2"/><circle cx="187.45" cy="119.25" r="2"/><circle cx="260.45" cy="116.66" r="2"/><circle cx="235.37" cy="136.71" r="2"/><circle cx="218.1" cy="137.33" r="2"/><circle cx="214.27" cy="135.16" r="2"/><circle cx="239.42" cy="137.79" r="2"/><circle cx="266.64" cy="117.86" r="2"/><circle cx="190.61" cy="117.45" r="2"/><circle cx="266.6" cy="117.96" r="2"/><circle cx="194.34" cy="131.04" r="2"/><circle cx="191.76" cy="117.28" r="2"/><circle cx="270.06" cy="116.26" r="2"/><circle cx="223.77" cy="136.61" r="2"/><circle cx="254.92" cy="132.12" r="2"/><circle cx="192.18" cy="123.2" r="2"/><circle cx="242.8" cy="136.28" r="2"/><circle cx="240.62" cy="134.65" r="2"/><circle cx="203.78" cy="133.93" r="2"/><circle cx="261.01" cy="131.33" r="2"/><circle cx="256.25" cy="132.08" r="2"/><circle cx="228.28" cy="135.39" r="2"/><circle cx="191.07" cy="118.05" r="2"/><circle cx="201.58" cy="131.87" r="2"/><circle cx="194.29" cy="118.4" r="2"/><circle cx="239.79" cy="136.77" r="2"/><circle cx="211.23" cy="137.23" r="2"/><circle cx="237.14" cy="138.63" r="2"/><circle cx="231.16" cy="137.82" r="2"/><circle cx="226.38" cy="134.84" r="2"/><circle cx="195.01" cy="130.57" r="2"/><circle cx="263.39" cy="122.6" r="2"/><circle cx="261.87" cy="118.24" r="2"/><circle cx="186.89" cy="120.39" r="2"/><circle cx="187.64" cy="120.71" r="2"/><circle cx="240.95" cy="133.73" r="2"/><circle cx="254.43" cy="129.38" r="2"/><circle cx="242.49" cy="134.22" r="2"/><circle cx="268.66" cy="127.76" r="2"/><circle cx="187.97" cy="125.02" r="2"/><circle cx="210.59" cy="134.9" r="2"/><circle cx="190.63" cy="119.51" r="2"/><circle cx="244.39" cy="135.2" r="2"/><circle cx="240.15" cy="134.39" r="2"/><circle cx="195.67" cy="119.94" r="2"/><circle cx="270.17" cy="119.13" r="2"/><circle cx="226.16" cy="138.61" r="2"/><circle cx="207.48" cy="134.17" r="2"/><circle cx="265.39" cy="122.01" r="2"/><circle cx="233.27" cy="138.66" r="2"/><circle cx="191.73" cy="117.84" r="2"/><circle cx="268.7" cy="120.99" r="2"/><circle cx="261.08" cy="119.32" r="2"/><circle cx="226.83" cy="136.37" r="2"/><circle cx="261.79" cy="125.48" r="2"/><circle cx="204.31" cy="130.77" r="2"/><circle cx="228.16" cy="138.61" r="2"/><circle cx="191.48" cy="116.09" r="2"/><circle cx="267.05" cy="117.69" r="2"/><circle cx="268.64" cy="120.49" r="2"/><circle cx="269.97" cy="125.95" r="2"/><circle cx="249" cy="134.27" r="2"/><circle cx="247.22" cy="134.83" r="2"/><circle cx="189.14" cy="118.27" r="2"/><circle cx="204.33" cy="132.09" r="2"/><circle cx="219.81" cy="137.44" r="2"/><circle cx="219.04" cy="133.87" r="2"/><circle cx="229.44" cy="134.57" r="2"/><circle cx="251.38" cy="135.14" r="2"/><circle cx="195.3" cy="132.21" r="2"/><circle cx="271.74" cy="119.75" r="2"/><circle cx="266.94" cy="128.85" r="2"/><circle cx="193.63" cy="127.75" r="2"/><circle cx="263.63" cy="118.55" r="2"/><circle cx="185.49" cy="118.41" r="2"/><circle cx="270.17" cy="118.71" r="2"/><circle cx="237.97" cy="134.06" r="2"/><circle cx="194.68" cy="118.54" r="2"/><circle cx="190.41" cy="126.83" r="2"/><circle cx="193.83" cy="125.06" r="2"/><circle cx="271.92" cy="120.74" r="2"/><circle cx="260.8" cy="132.52" r="2"/><circle cx="205.55" cy="132.42" r="2"/><circle cx="228.69" cy="138.92" r="2"/><circle cx="260.81" cy="124.36" r="2"/><circle cx="223.43" cy="136.36" r="2"/><circle cx="195.96" cy="117.45" r="2"/><circle cx="263.22" cy="129.6" r="2"/><circle cx="201.49" cy="132.26" r="2"/><circle cx="237.44" cy="135.65" r="2"/><circle cx="258.93" cy="127.3" r="2"/><circle cx="196.47" cy="127.72" r="2"/><circle cx="210.48" cy="135.3" r="2"/><circle cx="194.95" cy="127.69" r="2"/><circle cx="263.45" cy="131.01" r="2"/><circle cx="258.1" cy="127.53" r="2"/><circle cx="237.67" cy="137.14" r="2"/><circle cx="260.16" cy="128.33" r="2"/><circle cx="221.32" cy="134.81" r="2"/><circle cx="202.58" cy="134.13" r="2"/><circle cx="205.58" cy="131.4" r="2"/><circle cx="212.91" cy="135.01" r="2"/><circle cx="228.8" cy="136.2" r="2"/><circle cx="203.72" cy="132.37" r="2"/><circle cx="198.72" cy="130.34" r="2"/><circle cx="241.77" cy="136.18" r="2"/><circle cx="246.89" cy="136.22" r="2"/><circle cx="266.93" cy="123.22" r="2"/><circle cx="190.42" cy="116.58" r="2"/><circle cx="267.9" cy="117.54" r="2"/><circle cx="188.35" cy="116.04" r="2"/><circle cx="257.51" cy="127.95" r="2"/><circle cx="263.05" cy="129.35" r="2"/><circle cx="254.01" cy="134.31" r="2"/><circle cx="236.08" cy="137.73" r="2"/><circle cx="187.18" cy="118.7" r="2"/><circle cx="199.36" cy="130.29" r="2"/><circle cx="268.22" cy="117.71" r="2"/><circle cx="189.28" cy="121.64" r="2"/><circle cx="267.27" cy="116.68" r="2"/><circle cx="187.83" cy="118.49" r="2"/><circle cx="198.1" cy="127.77" r="2"/><circle cx="203.71" cy="131.03" r="2"/><circle cx="239.11" cy="135.86" r="2"/><circle cx="216.99" cy="138.26" r="2"/><circle cx="262.42" cy="126.43" r="2"/><circle cx="258.71" cy="131.91" r="2"/><circle cx="263.77" cy="126.98" r="2"/><circle cx="261.57" cy="124.16" r="2"/><circle cx="242.56" cy="134.28" r="2"/><circle cx="232.16" cy="137.75" r="2"/><circle cx="242.78" cy="134.59" r="2"/><circle cx="247.83" cy="136.02" r="2"/><circle cx="213.55" cy="135.87" r="2"/><circle cx="225.58" cy="138.5" r="2"/><circle cx="193.15" cy="122.58" r="2"/><circle cx="269.77" cy="126.47" r="2"/><circle cx="190.07" cy="118.25" r="2"/><circle cx="221.65" cy="138.75" r="2"/><circle cx="266.74" cy="122.07" r="2"/><circle cx="199.39" cy="133.39" r="2"/><circle cx="247.47" cy="132.84" r="2"/><circle cx="212.74" cy="134.23" r="2"/><circle cx="224.35" cy="136.92" r="2"/><circle cx="252.75" cy="134.83" r="2"/><circle cx="270.59" cy="121.15" r="2"/></g>
<rect x="219" y="61.6" width="18.7" height="50.1" fill="url(#ctg)" opacity="0.92"/>
<g fill="#e6dfd7" stroke="#c4b8aa" stroke-width="0.5" opacity="0.85"><circle cx="223.46" cy="76.15" r="2.17"/><circle cx="223.64" cy="85.6" r="1.97"/><circle cx="233.68" cy="90.4" r="2.29"/><circle cx="226.05" cy="99.52" r="1.93"/><circle cx="233.23" cy="68.09" r="2.26"/><circle cx="224.94" cy="88.45" r="2.02"/><circle cx="224.34" cy="101.44" r="1.85"/><circle cx="226.14" cy="67.42" r="1.84"/><circle cx="227.97" cy="96.18" r="1.89"/><circle cx="230.54" cy="68.76" r="1.92"/><circle cx="227.9" cy="107.51" r="2.26"/><circle cx="230.15" cy="64.56" r="1.9"/><circle cx="230.81" cy="74.69" r="2.05"/><circle cx="227.86" cy="64.47" r="2.39"/><circle cx="231.85" cy="73.3" r="2.09"/><circle cx="225.9" cy="80.92" r="2.03"/><circle cx="225.99" cy="79.18" r="1.91"/><circle cx="230.3" cy="75.54" r="1.76"/><circle cx="231.06" cy="78.82" r="2.36"/><circle cx="229.08" cy="96.57" r="1.87"/><circle cx="232.17" cy="68.15" r="1.71"/><circle cx="223.6" cy="94.5" r="2.17"/><circle cx="224.6" cy="82.1" r="2.27"/><circle cx="229.44" cy="68.05" r="1.78"/><circle cx="224.34" cy="69.58" r="1.93"/><circle cx="223.35" cy="105.43" r="1.94"/><circle cx="228.49" cy="93.13" r="2.21"/><circle cx="232.11" cy="81.37" r="1.87"/><circle cx="227.32" cy="64.69" r="1.92"/><circle cx="230.69" cy="108.19" r="2.23"/><circle cx="230.22" cy="91.39" r="1.61"/><circle cx="226.37" cy="79.4" r="2.12"/><circle cx="223.74" cy="80.99" r="2.01"/><circle cx="231.73" cy="101.13" r="2.09"/><circle cx="224.35" cy="98.49" r="2.32"/><circle cx="228.91" cy="79.87" r="2"/><circle cx="224.16" cy="96.1" r="2.39"/><circle cx="228.54" cy="96.19" r="2.27"/><circle cx="224.81" cy="106.52" r="2.1"/><circle cx="224.82" cy="67.75" r="1.8"/><circle cx="229.24" cy="95.37" r="1.86"/><circle cx="233.37" cy="80.25" r="1.97"/><circle cx="223.95" cy="107.81" r="1.71"/><circle cx="233.08" cy="88.45" r="2.05"/><circle cx="229.06" cy="75.9" r="2.33"/><circle cx="234.11" cy="100.79" r="2.08"/><circle cx="223.94" cy="101.11" r="1.83"/><circle cx="232.99" cy="74.84" r="2.06"/><circle cx="232.22" cy="72.35" r="2.04"/><circle cx="223.39" cy="65.44" r="1.74"/><circle cx="234.05" cy="106.28" r="2.13"/><circle cx="226.1" cy="94.21" r="2.19"/><circle cx="226.97" cy="90.64" r="2.24"/><circle cx="222.69" cy="72.98" r="1.97"/><circle cx="224.17" cy="81.39" r="2.06"/><circle cx="224.21" cy="49.43" r="2.01"/><circle cx="229.21" cy="45.31" r="2.31"/><circle cx="223.84" cy="59.11" r="2.28"/><circle cx="227.97" cy="47.05" r="2.3"/><circle cx="230.75" cy="54.68" r="2.4"/><circle cx="228.17" cy="59.88" r="2.47"/><circle cx="232.86" cy="47" r="2.15"/><circle cx="229.19" cy="57.92" r="2.22"/><circle cx="228.67" cy="47.51" r="2.52"/><circle cx="226.07" cy="39.2" r="2.38"/><circle cx="233.43" cy="54.1" r="2.28"/><circle cx="231.55" cy="44.7" r="2.27"/><circle cx="227.68" cy="49.06" r="2.12"/><circle cx="222.66" cy="53.29" r="2.22"/><circle cx="225.04" cy="44.74" r="2.12"/><circle cx="225" cy="39.51" r="2.53"/><circle cx="233" cy="47.27" r="2.44"/><circle cx="224.82" cy="54.43" r="2.25"/><circle cx="232.06" cy="40.72" r="2.23"/><circle cx="225.1" cy="44.58" r="2.06"/><circle cx="222.8" cy="57.69" r="2.45"/><circle cx="227.05" cy="45.84" r="2.27"/><circle cx="228.33" cy="58.55" r="2.58"/></g>
<path d="M219,61.6 L219,111.7 A9.35,3 0 0 0 237.7,111.7 L237.7,61.6" fill="none" stroke="#7aa6da" stroke-width="0.6"/>
<ellipse cx="228.35" cy="61.6" rx="9.35" ry="3" fill="#bcd3f0" fill-opacity="0.8" stroke="#749fd6" stroke-width="0.6"/>
<line x1="228.35" y1="42" x2="228.35" y2="128" stroke="#9ab6dc" stroke-width="0.45" stroke-dasharray="1.5,1.2"/></g>
<text class="r" x="45" y="710.6" font-size="11.8" fill="#111" textLength="106.4" lengthAdjust="spacingAndGlyphs">Area of selection (%) =</text>
<text class="r" x="156.3" y="702.4" font-size="11.8" fill="#111" textLength="136" lengthAdjust="spacingAndGlyphs">Area of being selected regions</text>
<line x1="156" y1="706.7" x2="292.6" y2="706.7" stroke="#222" stroke-width="0.8"/>
<text class="r" x="209.4" y="716.4" font-size="11.6" fill="#111"><tspan font-style="italic">π</tspan> × r<tspan font-size="7.8" dy="2.4">0</tspan><tspan font-size="7.8" dx="-3.9" dy="-6.8">2</tspan></text>
<text class="r" x="294.4" y="711.2" font-size="11.8" fill="#111" textLength="36.8" lengthAdjust="spacingAndGlyphs">× 100%</text>
<text class="s" x="357.8" y="503.9" font-size="17.5" fill="#111" textLength="24.1" lengthAdjust="spacingAndGlyphs">(D)</text>
<path d="M401.4,522.2H622.2V684.7H401.4Z" fill="none" stroke="#111" stroke-width="1.25"/>
<path d="M399.9,684.5H401.4M398.6,672H401.4M399.9,659.5H401.4M398.6,647H401.4M399.9,634.5H401.4M398.6,622H401.4M399.9,609.5H401.4M398.6,597H401.4M399.9,584.5H401.4M398.6,572H401.4M399.9,559.5H401.4M398.6,547H401.4M399.9,534.5H401.4M401.4,684.7V687.5M422.42,684.7V686.2M443.44,684.7V687.5M464.46,684.7V686.2M485.48,684.7V687.5M506.5,684.7V686.2M527.52,684.7V687.5M548.54,684.7V686.2M569.56,684.7V687.5M590.58,684.7V686.2M611.6,684.7V687.5" stroke="#111" stroke-width="1.1" fill="none"/>
<text class="s" x="393.4" y="675.1" font-size="8.8" text-anchor="end" fill="#111">0</text>
<text class="s" x="393.4" y="650.1" font-size="8.8" text-anchor="end" fill="#111">20</text>
<text class="s" x="393.4" y="625.1" font-size="8.8" text-anchor="end" fill="#111">40</text>
<text class="s" x="393.4" y="600.1" font-size="8.8" text-anchor="end" fill="#111">60</text>
<text class="s" x="393.4" y="575.1" font-size="8.8" text-anchor="end" fill="#111">80</text>
<text class="s" x="393.4" y="550.1" font-size="8.8" text-anchor="end" fill="#111">100</text>
<text class="s" x="393.4" y="525.1" font-size="8.8" text-anchor="end" fill="#111">120</text>
<text class="s" x="401.4" y="700.4" font-size="8.8" text-anchor="middle" fill="#111">0</text>
<text class="s" x="443.44" y="700.4" font-size="8.8" text-anchor="middle" fill="#111">200</text>
<text class="s" x="485.48" y="700.4" font-size="8.8" text-anchor="middle" fill="#111">400</text>
<text class="s" x="527.52" y="700.4" font-size="8.8" text-anchor="middle" fill="#111">600</text>
<text class="s" x="569.56" y="700.4" font-size="8.8" text-anchor="middle" fill="#111">800</text>
<text class="s" x="611.6" y="700.4" font-size="8.8" text-anchor="middle" fill="#111">1000</text>
<text class="s" x="0" y="0" font-size="10.4" text-anchor="middle" fill="#111" transform="translate(376,599) rotate(-90)">Area of selection (%)</text>
<text class="s" x="511.4" y="719.6" font-size="10.4" text-anchor="middle" fill="#111">WSS (Pa)</text>
<polyline fill="none" stroke="#e01010" stroke-width="1.3" points="401.4,673.63 401.92,673.6 402.45,673.56 402.97,673.52 403.5,673.47 404.02,673.41 404.54,673.35 405.07,673.27 405.59,673.19 406.12,673.09 406.64,672.99 407.16,672.86 407.69,672.72 408.21,672.56 408.73,672.38 409.26,672.17 409.78,671.94 410.31,671.67 410.83,671.37 411.35,671.03 411.88,670.64 412.4,670.2 412.93,669.7 413.45,669.14 413.97,668.51 414.5,667.79 415.02,666.99 415.55,666.08 416.07,665.07 416.59,663.94 417.12,662.68 417.64,661.27 418.17,659.72 418.69,657.99 419.21,656.1 419.74,654.02 420.26,651.74 420.78,649.28 421.31,646.61 421.83,643.75 422.36,640.69 422.88,637.45 423.4,634.04 423.93,630.47 424.45,626.77 424.98,622.97 425.5,619.09 426.02,615.16 426.55,611.22 427.07,607.31 427.6,603.45 428.12,599.67 428.64,596.02 429.17,592.49 429.69,589.13 430.22,585.95 430.74,582.95 431.26,580.15 431.79,577.55 432.31,575.15 432.83,572.93 433.36,570.91 433.88,569.07 434.41,567.4 434.93,565.89 435.45,564.53 435.98,563.31 436.5,562.22 437.03,561.25 437.55,560.37 438.07,559.6 438.6,558.91 439.12,558.3 439.65,557.76 440.17,557.28 440.69,556.86 441.22,556.49 441.74,556.16 442.27,555.87 442.79,555.61 443.31,555.38 443.84,555.19 444.36,555.01 444.88,554.86 445.41,554.72 445.93,554.6 446.46,554.5 446.98,554.41 447.5,554.33 448.03,554.26 448.55,554.19 449.08,554.14 449.6,554.09 450.12,554.05 450.65,554.01 451.17,553.98 451.7,553.95 452.22,553.93 452.74,553.91 453.27,553.89 453.79,553.87 454.32,553.86 454.84,553.84 455.36,553.83 455.89,553.82 456.41,553.81 456.94,553.8 457.46,553.8 457.98,553.79 458.51,553.79 459.03,553.78 459.55,553.78 460.08,553.77 460.6,553.77 461.13,553.77 461.65,553.77 462.17,553.76 462.7,553.76 463.22,553.76 463.75,553.76 464.27,553.76 464.79,553.76 465.32,553.76 465.84,553.76 466.37,553.76 466.89,553.75 467.41,553.75 467.94,553.75 468.46,553.75 468.99,553.75 469.51,553.75 470.03,553.75 470.56,553.75 471.08,553.75 471.6,553.75 472.13,553.75 472.65,553.75 473.18,553.75 473.7,553.75 474.22,553.75 474.75,553.75 475.27,553.75 475.8,553.75 476.32,553.75 476.84,553.75 477.37,553.75 477.89,553.75 478.42,553.75 478.94,553.75 479.46,553.75 479.99,553.75 480.51,553.75 481.04,553.75 481.56,553.75 482.08,553.75 482.61,553.75 483.13,553.75 483.65,553.75 484.18,553.75 484.7,553.75 485.23,553.75 485.75,553.75 486.27,553.75 486.8,553.75 487.32,553.75 487.85,553.75 488.37,553.75 488.89,553.75 489.42,553.75 489.94,553.75 490.47,553.75 490.99,553.75 491.51,553.75 492.04,553.75 492.56,553.75 493.09,553.75 493.61,553.75 494.13,553.75 494.66,553.75 495.18,553.75 495.7,553.75 496.23,553.75 496.75,553.75 497.28,553.75 497.8,553.75 498.32,553.75 498.85,553.75 499.37,553.75 499.9,553.75 500.42,553.75 500.94,553.75 501.47,553.75 501.99,553.75 502.52,553.75 503.04,553.75 503.56,553.75 504.09,553.75 504.61,553.75 505.14,553.75 505.66,553.75"/>
<polyline fill="none" stroke="#000" stroke-width="1.35" points="401.4,668.87 402.11,668.87 402.83,668.87 403.54,668.87 404.25,668.87 404.96,668.87 405.68,668.87 406.39,668.87 407.1,668.87 407.81,668.87 408.53,668.87 409.24,668.87 409.95,668.87 410.66,668.87 411.38,668.86 412.09,668.86 412.8,668.86 413.51,668.86 414.23,668.86 414.94,668.86 415.65,668.86 416.36,668.86 417.08,668.85 417.79,668.85 418.5,668.85 419.21,668.85 419.93,668.85 420.64,668.84 421.35,668.84 422.06,668.84 422.78,668.83 423.49,668.83 424.2,668.83 424.91,668.82 425.63,668.82 426.34,668.81 427.05,668.81 427.77,668.8 428.48,668.79 429.19,668.78 429.9,668.78 430.62,668.77 431.33,668.76 432.04,668.75 432.75,668.73 433.47,668.72 434.18,668.71 434.89,668.69 435.6,668.68 436.32,668.66 437.03,668.64 437.74,668.62 438.45,668.59 439.17,668.57 439.88,668.54 440.59,668.51 441.3,668.48 442.02,668.44 442.73,668.4 443.44,668.36 444.15,668.31 444.87,668.26 445.58,668.21 446.29,668.15 447,668.08 447.72,668.01 448.43,667.93 449.14,667.85 449.85,667.75 450.57,667.65 451.28,667.54 451.99,667.42 452.71,667.29 453.42,667.15 454.13,667 454.84,666.83 455.56,666.65 456.27,666.45 456.98,666.24 457.69,666 458.41,665.75 459.12,665.47 459.83,665.17 460.54,664.85 461.26,664.49 461.97,664.11 462.68,663.69 463.39,663.25 464.11,662.76 464.82,662.23 465.53,661.67 466.24,661.05 466.96,660.39 467.67,659.68 468.38,658.91 469.09,658.08 469.81,657.19 470.52,656.24 471.23,655.22 471.94,654.12 472.66,652.95 473.37,651.71 474.08,650.38 474.79,648.97 475.51,647.47 476.22,645.88 476.93,644.21 477.64,642.44 478.36,640.58 479.07,638.64 479.78,636.6 480.5,634.48 481.21,632.27 481.92,629.98 482.63,627.61 483.35,625.18 484.06,622.68 484.77,620.12 485.48,617.51 486.2,614.87 486.91,612.19 487.62,609.49 488.33,606.78 489.05,604.07 489.76,601.36 490.47,598.68 491.18,596.02 491.9,593.4 492.61,590.83 493.32,588.32 494.03,585.87 494.75,583.48 495.46,581.17 496.17,578.95 496.88,576.8 497.6,574.74 498.31,572.77 499.02,570.89 499.73,569.1 500.45,567.41 501.16,565.8 501.87,564.28 502.58,562.84 503.3,561.49 504.01,560.23 504.72,559.04 505.44,557.93 506.15,556.89 506.86,555.92 507.57,555.01 508.29,554.17 509,553.39 509.71,552.66 510.42,551.98 511.14,551.36 511.85,550.78 512.56,550.24 513.27,549.75 513.99,549.29 514.7,548.87 515.41,548.48 516.12,548.12 516.84,547.78 517.55,547.48 518.26,547.19 518.97,546.94 519.69,546.7 520.4,546.48 521.11,546.27 521.82,546.09 522.54,545.92 523.25,545.76 523.96,545.61 524.67,545.48 525.39,545.36 526.1,545.25 526.81,545.14 527.52,545.05 528.24,544.96 528.95,544.88 529.66,544.81 530.38,544.74 531.09,544.68 531.8,544.63 532.51,544.57 533.23,544.53 533.94,544.48 534.65,544.44 535.36,544.41 536.08,544.37 536.79,544.34 537.5,544.31 538.21,544.29 538.93,544.26 539.64,544.24 540.35,544.22 541.06,544.2 541.78,544.19 542.49,544.17 543.2,544.16 543.91,544.14 544.63,544.13 545.34,544.12 546.05,544.11 546.76,544.1 547.48,544.09 548.19,544.09 548.9,544.08 549.61,544.07 550.33,544.07 551.04,544.06 551.75,544.06 552.46,544.05 553.18,544.05 553.89,544.04 554.6,544.04 555.32,544.04 556.03,544.03 556.74,544.03 557.45,544.03 558.17,544.03 558.88,544.02 559.59,544.02 560.3,544.02 561.02,544.02 561.73,544.02 562.44,544.01 563.15,544.01 563.87,544.01 564.58,544.01 565.29,544.01 566,544.01 566.72,544.01 567.43,544.01 568.14,544.01 568.85,544.01 569.57,544.01 570.28,544.01 570.99,544.01 571.7,544 572.42,544 573.13,544 573.84,544 574.55,544 575.27,544 575.98,544 576.69,544 577.4,544 578.12,544 578.83,544 579.54,544 580.26,544 580.97,544 581.68,544 582.39,544 583.11,544 583.82,544 584.53,544 585.24,544 585.96,544"/>
<polyline fill="none" stroke="#1010e0" stroke-width="1.5" points="401.4,672 402.36,672 403.31,672 404.27,672 405.22,672 406.18,672 407.13,672 408.09,672 409.04,672 410,672 410.95,672 411.91,672 412.86,672 413.82,672 414.77,672 415.73,672 416.68,672 417.64,672 418.59,672 419.55,672 420.5,671.99 421.46,671.99 422.41,671.99 423.37,671.99 424.32,671.99 425.28,671.99 426.23,671.99 427.19,671.99 428.14,671.99 429.1,671.99 430.05,671.99 431.01,671.99 431.96,671.99 432.92,671.98 433.87,671.98 434.83,671.98 435.78,671.98 436.74,671.98 437.69,671.98 438.65,671.98 439.6,671.98 440.56,671.98 441.51,671.98 442.47,671.97 443.42,671.97 444.38,671.97 445.33,671.97 446.29,671.97 447.24,671.97 448.2,671.97 449.15,671.96 450.11,671.96 451.06,671.96 452.02,671.96 452.97,671.96 453.93,671.96 454.88,671.96 455.84,671.95 456.79,671.95 457.75,671.95 458.7,671.95 459.66,671.95 460.61,671.95 461.57,671.94 462.52,671.94 463.48,671.94 464.43,671.94 465.39,671.94 466.34,671.93 467.3,671.93 468.25,671.92 469.21,671.92 470.16,671.91 471.12,671.9 472.07,671.89 473.03,671.89 473.98,671.88 474.94,671.87 475.89,671.86 476.85,671.85 477.8,671.84 478.76,671.83 479.71,671.82 480.67,671.81 481.62,671.79 482.58,671.78 483.53,671.77 484.49,671.76 485.44,671.75 486.4,671.74 487.35,671.73 488.31,671.72 489.26,671.71 490.22,671.69 491.17,671.68 492.13,671.67 493.08,671.66 494.04,671.65 494.99,671.63 495.95,671.62 496.9,671.6 497.86,671.59 498.81,671.58 499.77,671.56 500.72,671.54 501.68,671.53 502.63,671.51 503.59,671.49 504.54,671.48 505.5,671.46 506.45,671.44 507.41,671.42 508.36,671.4 509.32,671.38 510.27,671.35 511.23,671.33 512.18,671.31 513.14,671.28 514.09,671.25 515.05,671.23 516,671.2 516.96,671.17 517.91,671.14 518.87,671.11 519.82,671.07 520.78,671.04 521.73,671 522.69,670.96 523.64,670.92 524.6,670.88 525.55,670.84 526.51,670.8 527.46,670.75 528.42,670.7 529.37,670.65 530.33,670.58 531.28,670.52 532.24,670.44 533.19,670.36 534.15,670.28 535.1,670.2 536.06,670.11 537.01,670.02 537.97,669.93 538.92,669.84 539.88,669.75 540.83,669.67 541.79,669.58 542.74,669.49 543.7,669.4 544.65,669.3 545.61,669.21 546.56,669.12 547.52,669.02 548.47,668.92 549.43,668.82 550.38,668.71 551.34,668.6 552.29,668.49 553.25,668.37 554.2,668.25 555.16,668.12 556.11,667.99 557.07,667.86 558.02,667.71 558.98,667.56 559.93,667.4 560.89,667.23 561.84,667.05 562.8,666.85 563.75,666.65 564.71,666.44 565.66,666.22 566.62,665.99 567.57,665.76 568.53,665.52 569.48,665.27 570.44,665.01 571.39,664.74 572.35,664.45 573.3,664.15 574.26,663.83 575.21,663.51 576.17,663.17 577.12,662.82 578.08,662.46 579.03,662.1 579.99,661.73 580.94,661.35 581.9,660.96 582.85,660.57 583.81,660.18 584.76,659.78 585.72,659.36 586.67,658.94 587.63,658.5 588.58,658.05 589.54,657.59 590.49,657.12 591.45,656.64 592.4,656.16 593.36,655.66 594.31,655.15 595.27,654.64 596.22,654.12 597.18,653.59 598.13,653.05 599.09,652.49 600.04,651.93 601,651.35 601.95,650.76 602.91,650.17 603.86,649.56 604.82,648.94 605.77,648.3 606.73,647.66 607.68,647.01 608.64,646.35 609.59,645.68 610.55,645"/>
<path d="M406.87,669.1l2.75,4.64h-5.51zM414.64,669.1l2.75,4.64h-5.51zM427.89,669.1l2.75,4.64h-5.51zM453.74,669.1l2.75,4.64h-5.51zM479.59,669.1l2.75,4.64h-5.51zM505.66,669.1l2.75,4.64h-5.51zM531.72,669.1l2.75,4.64h-5.51zM531.72,668.1l2.75,4.64h-5.51zM531.72,667.1l2.75,4.64h-5.51zM531.72,666.1l2.75,4.64h-5.51zM531.72,665.1l2.75,4.64h-5.51zM557.79,669.1l2.75,4.64h-5.51zM557.79,667.6l2.75,4.64h-5.51zM557.79,666.35l2.75,4.64h-5.51zM557.79,665.1l2.75,4.64h-5.51zM557.79,663.85l2.75,4.64h-5.51zM557.79,662.85l2.75,4.64h-5.51zM557.79,660.48l2.75,4.64h-5.51zM557.79,653.48l2.75,4.64h-5.51zM583.64,669.1l2.75,4.64h-5.51zM583.64,667.85l2.75,4.64h-5.51zM583.64,665.35l2.75,4.64h-5.51zM583.64,662.85l2.75,4.64h-5.51zM583.64,657.1l2.75,4.64h-5.51zM583.64,655.35l2.75,4.64h-5.51zM583.64,652.85l2.75,4.64h-5.51zM583.64,650.35l2.75,4.64h-5.51zM583.64,647.85l2.75,4.64h-5.51zM583.64,644.85l2.75,4.64h-5.51zM609.71,660.85l2.75,4.64h-5.51zM609.71,658.98l2.75,4.64h-5.51zM609.71,655.85l2.75,4.64h-5.51zM609.71,653.48l2.75,4.64h-5.51zM609.71,651.1l2.75,4.64h-5.51zM609.71,642.6l2.75,4.64h-5.51zM609.71,634.1l2.75,4.64h-5.51zM609.71,631.6l2.75,4.64h-5.51zM609.71,629.1l2.75,4.64h-5.51zM609.71,625.85l2.75,4.64h-5.51z" fill="#1010f0"/>
<path d="M453.74,665.15l2.48,3.1l-2.48,3.1l-2.48,-3.1zM453.74,660.27l2.48,3.1l-2.48,3.1l-2.48,-3.1zM453.74,656.9l2.48,3.1l-2.48,3.1l-2.48,-3.1zM453.74,650.9l2.48,3.1l-2.48,3.1l-2.48,-3.1zM453.74,648.9l2.48,3.1l-2.48,3.1l-2.48,-3.1zM453.74,645.9l2.48,3.1l-2.48,3.1l-2.48,-3.1zM479.59,639.9l2.48,3.1l-2.48,3.1l-2.48,-3.1zM479.59,632.9l2.48,3.1l-2.48,3.1l-2.48,-3.1zM479.59,628.9l2.48,3.1l-2.48,3.1l-2.48,-3.1zM479.59,624.9l2.48,3.1l-2.48,3.1l-2.48,-3.1zM479.59,621.9l2.48,3.1l-2.48,3.1l-2.48,-3.1zM479.59,616.9l2.48,3.1l-2.48,3.1l-2.48,-3.1zM479.59,613.15l2.48,3.1l-2.48,3.1l-2.48,-3.1zM505.24,571.15l2.48,3.1l-2.48,3.1l-2.48,-3.1zM505.24,568.9l2.48,3.1l-2.48,3.1l-2.48,-3.1zM505.24,566.9l2.48,3.1l-2.48,3.1l-2.48,-3.1zM505.24,564.52l2.48,3.1l-2.48,3.1l-2.48,-3.1zM505.24,561.9l2.48,3.1l-2.48,3.1l-2.48,-3.1zM505.24,557.4l2.48,3.1l-2.48,3.1l-2.48,-3.1zM531.72,557.4l2.48,3.1l-2.48,3.1l-2.48,-3.1zM531.72,554.52l2.48,3.1l-2.48,3.1l-2.48,-3.1zM531.72,551.9l2.48,3.1l-2.48,3.1l-2.48,-3.1zM531.72,549.52l2.48,3.1l-2.48,3.1l-2.48,-3.1zM531.72,546.9l2.48,3.1l-2.48,3.1l-2.48,-3.1zM531.72,544.52l2.48,3.1l-2.48,3.1l-2.48,-3.1zM531.72,541.9l2.48,3.1l-2.48,3.1l-2.48,-3.1zM531.72,538.9l2.48,3.1l-2.48,3.1l-2.48,-3.1zM557.79,547.52l2.48,3.1l-2.48,3.1l-2.48,-3.1zM557.79,545.15l2.48,3.1l-2.48,3.1l-2.48,-3.1zM557.79,542.9l2.48,3.1l-2.48,3.1l-2.48,-3.1zM557.79,539.9l2.48,3.1l-2.48,3.1l-2.48,-3.1zM557.79,538.27l2.48,3.1l-2.48,3.1l-2.48,-3.1zM557.79,536.15l2.48,3.1l-2.48,3.1l-2.48,-3.1zM583.64,544.9l2.48,3.1l-2.48,3.1l-2.48,-3.1zM583.64,542.9l2.48,3.1l-2.48,3.1l-2.48,-3.1zM583.64,541.4l2.48,3.1l-2.48,3.1l-2.48,-3.1zM583.64,539.9l2.48,3.1l-2.48,3.1l-2.48,-3.1zM583.64,538.4l2.48,3.1l-2.48,3.1l-2.48,-3.1zM583.64,536.9l2.48,3.1l-2.48,3.1l-2.48,-3.1zM583.64,535.15l2.48,3.1l-2.48,3.1l-2.48,-3.1zM583.64,533.9l2.48,3.1l-2.48,3.1l-2.48,-3.1z" fill="#000"/>
<path d="M403.92,669.95 L404.74,672.13 L407.06,672.23 L405.24,673.68 L405.86,675.92 L403.92,674.64 L401.98,675.92 L402.6,673.68 L400.78,672.23 L403.11,672.13ZM403.92,668.08 L404.74,670.25 L407.06,670.36 L405.24,671.8 L405.86,674.04 L403.92,672.76 L401.98,674.04 L402.6,671.8 L400.78,670.36 L403.11,670.25ZM414.64,665.58 L415.46,667.75 L417.78,667.86 L415.96,669.3 L416.58,671.54 L414.64,670.26 L412.7,671.54 L413.32,669.3 L411.5,667.86 L413.83,667.75ZM414.64,663.7 L415.46,665.88 L417.78,665.98 L415.96,667.43 L416.58,669.67 L414.64,668.39 L412.7,669.67 L413.32,667.43 L411.5,665.98 L413.83,665.88ZM414.64,661.2 L415.46,663.38 L417.78,663.48 L415.96,664.93 L416.58,667.17 L414.64,665.89 L412.7,667.17 L413.32,664.93 L411.5,663.48 L413.83,663.38ZM421.16,647.7 L421.97,649.88 L424.3,649.98 L422.48,651.43 L423.1,653.67 L421.16,652.39 L419.22,653.67 L419.84,651.43 L418.02,649.98 L420.34,649.88ZM421.16,644.95 L421.97,647.13 L424.3,647.23 L422.48,648.68 L423.1,650.92 L421.16,649.64 L419.22,650.92 L419.84,648.68 L418.02,647.23 L420.34,647.13ZM421.16,642.45 L421.97,644.63 L424.3,644.73 L422.48,646.18 L423.1,648.42 L421.16,647.14 L419.22,648.42 L419.84,646.18 L418.02,644.73 L420.34,644.63ZM421.16,639.33 L421.97,641.5 L424.3,641.61 L422.48,643.05 L423.1,645.29 L421.16,644.01 L419.22,645.29 L419.84,643.05 L418.02,641.61 L420.34,641.5ZM421.16,636.2 L421.97,638.38 L424.3,638.48 L422.48,639.93 L423.1,642.17 L421.16,640.89 L419.22,642.17 L419.84,639.93 L418.02,638.48 L420.34,638.38ZM421.16,633.08 L421.97,635.25 L424.3,635.36 L422.48,636.8 L423.1,639.04 L421.16,637.76 L419.22,639.04 L419.84,636.8 L418.02,635.36 L420.34,635.25ZM421.16,629.33 L421.97,631.5 L424.3,631.61 L422.48,633.05 L423.1,635.29 L421.16,634.01 L419.22,635.29 L419.84,633.05 L418.02,631.61 L420.34,631.5ZM427.89,606.2 L428.7,608.38 L431.02,608.48 L429.2,609.93 L429.82,612.17 L427.89,610.89 L425.95,612.17 L426.57,609.93 L424.75,608.48 L427.07,608.38ZM427.89,603.08 L428.7,605.25 L431.02,605.36 L429.2,606.8 L429.82,609.04 L427.89,607.76 L425.95,609.04 L426.57,606.8 L424.75,605.36 L427.07,605.25ZM427.89,599.95 L428.7,602.13 L431.02,602.23 L429.2,603.68 L429.82,605.92 L427.89,604.64 L425.95,605.92 L426.57,603.68 L424.75,602.23 L427.07,602.13ZM427.89,596.83 L428.7,599 L431.02,599.11 L429.2,600.55 L429.82,602.79 L427.89,601.51 L425.95,602.79 L426.57,600.55 L424.75,599.11 L427.07,599ZM427.89,593.7 L428.7,595.88 L431.02,595.98 L429.2,597.43 L429.82,599.67 L427.89,598.39 L425.95,599.67 L426.57,597.43 L424.75,595.98 L427.07,595.88ZM427.89,591.2 L428.7,593.38 L431.02,593.48 L429.2,594.93 L429.82,597.17 L427.89,595.89 L425.95,597.17 L426.57,594.93 L424.75,593.48 L427.07,593.38ZM427.89,588.7 L428.7,590.88 L431.02,590.98 L429.2,592.43 L429.82,594.67 L427.89,593.39 L425.95,594.67 L426.57,592.43 L424.75,590.98 L427.07,590.88ZM453.74,568.33 L454.55,570.5 L456.88,570.61 L455.06,572.05 L455.68,574.29 L453.74,573.01 L451.8,574.29 L452.42,572.05 L450.6,570.61 L452.93,570.5ZM453.74,561.7 L454.55,563.88 L456.88,563.98 L455.06,565.43 L455.68,567.67 L453.74,566.39 L451.8,567.67 L452.42,565.43 L450.6,563.98 L452.93,563.88ZM453.74,559.33 L454.55,561.5 L456.88,561.61 L455.06,563.05 L455.68,565.29 L453.74,564.01 L451.8,565.29 L452.42,563.05 L450.6,561.61 L452.93,561.5ZM453.74,556.95 L454.55,559.13 L456.88,559.23 L455.06,560.68 L455.68,562.92 L453.74,561.64 L451.8,562.92 L452.42,560.68 L450.6,559.23 L452.93,559.13ZM453.74,554.95 L454.55,557.13 L456.88,557.23 L455.06,558.68 L455.68,560.92 L453.74,559.64 L451.8,560.92 L452.42,558.68 L450.6,557.23 L452.93,557.13ZM453.74,545.2 L454.55,547.38 L456.88,547.48 L455.06,548.93 L455.68,551.17 L453.74,549.89 L451.8,551.17 L452.42,548.93 L450.6,547.48 L452.93,547.38ZM479.59,558.08 L480.41,560.25 L482.73,560.36 L480.91,561.8 L481.53,564.04 L479.59,562.76 L477.65,564.04 L478.28,561.8 L476.46,560.36 L478.78,560.25ZM479.59,556.2 L480.41,558.38 L482.73,558.48 L480.91,559.93 L481.53,562.17 L479.59,560.89 L477.65,562.17 L478.28,559.93 L476.46,558.48 L478.78,558.38ZM479.59,551.45 L480.41,553.63 L482.73,553.73 L480.91,555.18 L481.53,557.42 L479.59,556.14 L477.65,557.42 L478.28,555.18 L476.46,553.73 L478.78,553.63ZM479.59,549.45 L480.41,551.63 L482.73,551.73 L480.91,553.18 L481.53,555.42 L479.59,554.14 L477.65,555.42 L478.28,553.18 L476.46,551.73 L478.78,551.63ZM479.59,546.7 L480.41,548.88 L482.73,548.98 L480.91,550.43 L481.53,552.67 L479.59,551.39 L477.65,552.67 L478.28,550.43 L476.46,548.98 L478.78,548.88ZM479.59,538.7 L480.41,540.88 L482.73,540.98 L480.91,542.43 L481.53,544.67 L479.59,543.39 L477.65,544.67 L478.28,542.43 L476.46,540.98 L478.78,540.88ZM505.66,550.7 L506.47,552.88 L508.8,552.98 L506.98,554.43 L507.6,556.67 L505.66,555.39 L503.72,556.67 L504.34,554.43 L502.52,552.98 L504.84,552.88ZM505.66,549.33 L506.47,551.5 L508.8,551.61 L506.98,553.05 L507.6,555.29 L505.66,554.01 L503.72,555.29 L504.34,553.05 L502.52,551.61 L504.84,551.5ZM505.66,547.45 L506.47,549.63 L508.8,549.73 L506.98,551.18 L507.6,553.42 L505.66,552.14 L503.72,553.42 L504.34,551.18 L502.52,549.73 L504.84,549.63ZM505.66,544.95 L506.47,547.13 L508.8,547.23 L506.98,548.68 L507.6,550.92 L505.66,549.64 L503.72,550.92 L504.34,548.68 L502.52,547.23 L504.84,547.13ZM505.66,542.45 L506.47,544.63 L508.8,544.73 L506.98,546.18 L507.6,548.42 L505.66,547.14 L503.72,548.42 L504.34,546.18 L502.52,544.73 L504.84,544.63ZM505.66,539.95 L506.47,542.13 L508.8,542.23 L506.98,543.68 L507.6,545.92 L505.66,544.64 L503.72,545.92 L504.34,543.68 L502.52,542.23 L504.84,542.13ZM505.66,536.7 L506.47,538.88 L508.8,538.98 L506.98,540.43 L507.6,542.67 L505.66,541.39 L503.72,542.67 L504.34,540.43 L502.52,538.98 L504.84,538.88Z" fill="#ee1111"/>
<path d="M539.2,588.6 L540.01,590.78 L542.34,590.88 L540.52,592.33 L541.14,594.57 L539.2,593.29 L537.26,594.57 L537.88,592.33 L536.06,590.88 L538.39,590.78Z" fill="#ee1111"/>
<path d="M539.2,602.2l2.48,3.1l-2.48,3.1l-2.48,-3.1z" fill="#000"/>
<path d="M539.2,616.1l2.75,4.64h-5.51z" fill="#1010f0"/>
<text class="s" x="552.8" y="595.2" font-size="8.8" fill="#111">NPCs</text>
<text class="s" x="552.8" y="608.7" font-size="8.8" fill="#111">iPSCs</text>
<text class="s" x="552.8" y="622.2" font-size="8.8" fill="#111">UCs</text>
</svg></body></html>
